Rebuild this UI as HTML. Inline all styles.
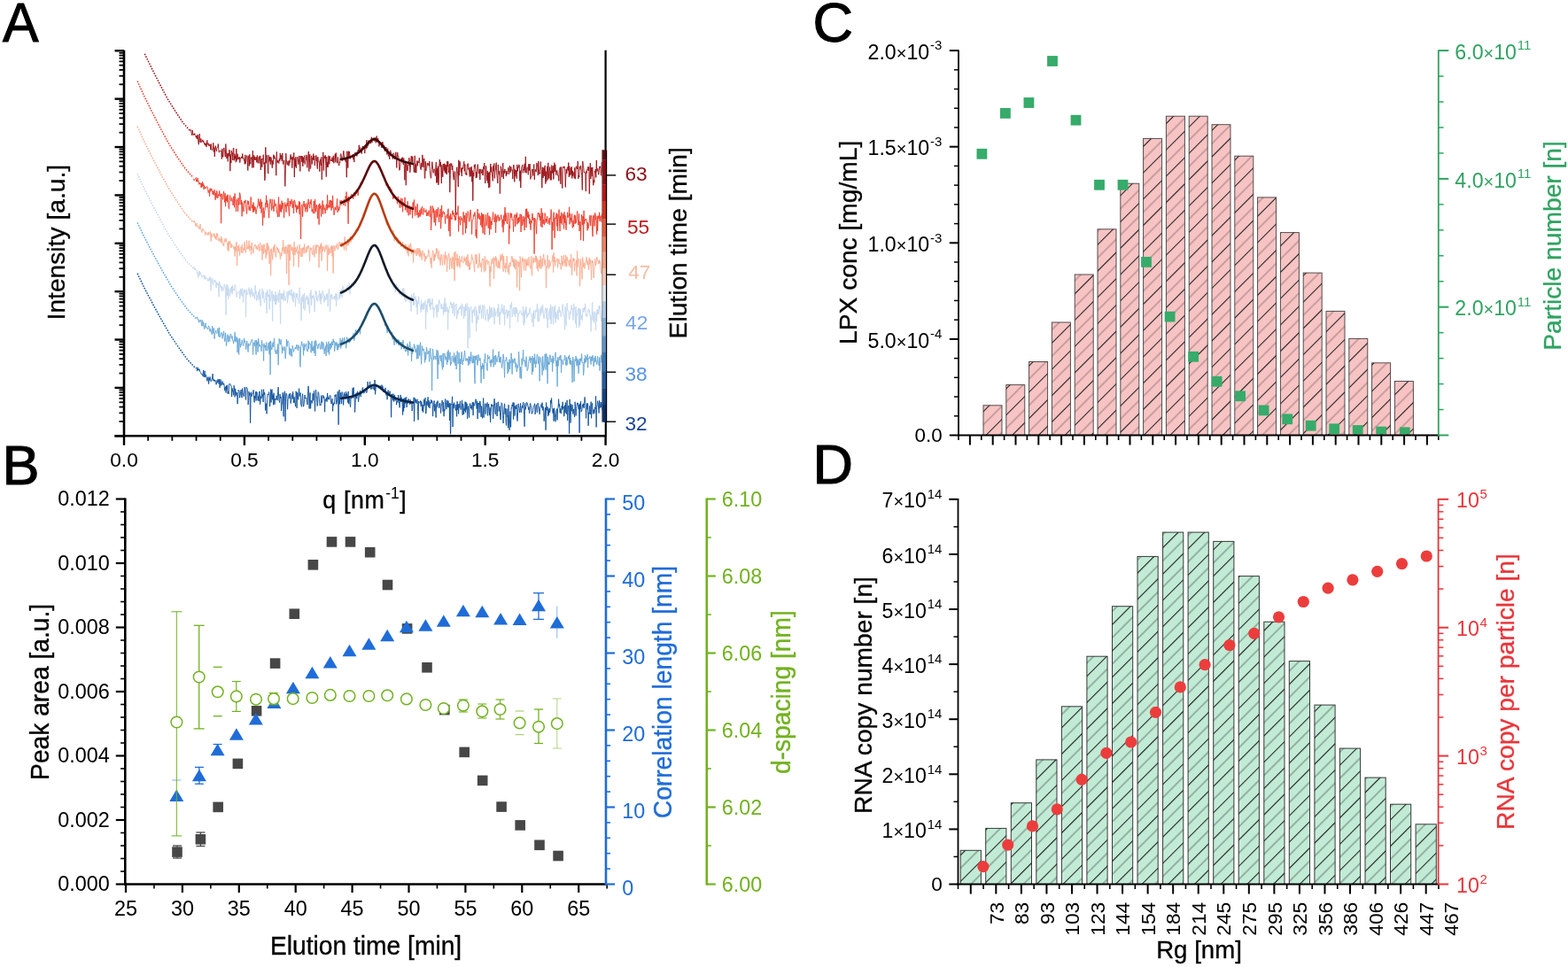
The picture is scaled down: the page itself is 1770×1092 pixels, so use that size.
<!DOCTYPE html>
<html><head><meta charset="utf-8"><title>Figure</title>
<style>
html,body{margin:0;padding:0;background:#fff;width:1770px;height:1092px;overflow:hidden}
svg{display:block}
text{font-family:'Liberation Sans', Arial, sans-serif;}
.t{stroke:currentColor;stroke-width:0.35px;paint-order:stroke}
.p{stroke:currentColor;stroke-width:1.1px;paint-order:stroke}
</style></head>
<body>
<svg width="1770" height="1092" viewBox="0 0 1770 1092">
<rect width="1770" height="1092" fill="#fff"/>
<text class="p" x="3.00" y="47.40" font-size="63" text-anchor="start" fill="#000" color="#000" textLength="40.6" lengthAdjust="spacingAndGlyphs">A</text>
<text class="p" x="2.50" y="547.00" font-size="63" text-anchor="start" fill="#000" color="#000">B</text>
<text class="p" x="917.50" y="47.20" font-size="63" text-anchor="start" fill="#000" color="#000">C</text>
<text class="p" x="917.50" y="546.40" font-size="63" text-anchor="start" fill="#000" color="#000">D</text>
<g clip-path="url(#clipA)">
<clipPath id="clipA"><rect x="141.5" y="52.3" width="539.6" height="438.0"/></clipPath>
<polyline points="163.3,60.7 164.3,62.8 165.3,64.8 166.3,66.9 167.3,69.0 168.3,71.0 169.3,73.1 170.3,75.1 171.3,77.2 172.3,79.2 173.3,81.2 174.3,83.1 175.3,85.1 176.3,87.1 177.3,89.0 178.3,91.0 179.3,93.0 180.3,94.9 181.3,96.8 182.3,98.7 183.3,100.6 184.3,102.5 185.3,104.4 186.3,106.2 187.3,108.1 188.3,110.0 189.3,111.8 190.3,113.4 191.3,115.0 192.3,116.6 193.3,118.2 194.3,119.8 195.3,121.4 196.3,123.0 197.3,124.6 198.3,126.2 199.3,127.7 200.3,129.2 201.3,130.7 202.3,132.2 203.3,133.7 204.3,135.2 205.3,136.7 206.3,138.2 207.3,139.4 208.3,140.5 209.3,141.6 210.3,142.8 211.3,143.9 212.3,145.1 213.3,146.2 214.3,147.4" fill="none" stroke="#980d13" stroke-width="1.5" stroke-linejoin="round" stroke-dasharray="1.6 1.4"/>
<polyline points="214.3,147.6 214.8,146.7 215.3,146.3 215.8,148.2 216.3,151.1 216.8,152.9 217.3,146.9 217.8,150.9 218.3,152.5 218.8,151.2 219.3,152.3 219.8,150.6 220.3,152.7 220.8,153.2 221.3,155.3 221.8,153.0 222.3,157.1 222.8,153.4 223.3,152.0 223.8,159.9 224.3,163.2 224.8,155.0 225.3,151.1 225.8,159.9 226.3,161.0 226.8,156.4 227.3,160.6 227.8,160.0 228.3,159.9 228.8,157.8 229.3,160.7 229.8,159.2 230.3,160.8 230.8,163.2 231.3,161.9 231.8,164.3 232.3,161.6 232.8,165.6 233.3,165.9 233.8,158.4 234.3,163.0 234.8,163.3 235.3,161.8 235.8,165.1 236.3,164.7 236.8,162.9 237.3,163.6 237.8,169.1 238.3,162.4 238.8,167.5 239.3,169.7 239.8,169.4 240.3,167.7 240.8,161.3 241.3,171.5 241.8,166.5 242.3,176.9 242.8,167.6 243.3,164.6 243.8,169.0 244.3,170.8 244.8,167.7 245.3,166.2 245.8,166.5 246.3,162.5 246.8,168.7 247.3,172.2 247.8,170.5 248.3,170.5 248.8,170.0 249.3,170.8 249.8,170.2 250.3,179.6 250.8,168.0 251.3,174.1 251.8,177.4 252.3,169.3 252.8,166.9 253.3,170.2 253.8,171.7 254.3,177.2 254.8,162.5 255.3,169.3 255.8,179.1 256.3,177.3 256.8,173.2 257.3,182.4 257.8,173.2 258.3,176.4 258.8,169.1 259.3,170.2 259.8,193.2 260.3,174.4 260.8,184.1 261.3,170.0 261.8,174.1 262.3,172.5 262.8,181.0 263.3,167.6 263.8,167.0 264.3,181.3 264.8,173.7 265.3,179.2 265.8,175.8 266.3,183.2 266.8,168.0 267.3,181.5 267.8,177.7 268.3,173.8 268.8,179.9 269.3,177.7 269.8,179.6 270.3,177.3 270.8,183.7 271.3,179.2 271.8,178.1 272.3,178.8 272.8,176.8 273.3,178.7 273.8,173.5 274.3,179.0 274.8,178.1 275.3,181.2 275.8,180.4 276.3,185.4 276.8,174.9 277.3,184.7 277.8,182.1 278.3,175.9 278.8,175.7 279.3,180.1 279.8,192.5 280.3,175.8 280.8,176.7 281.3,187.4 281.8,174.3 282.3,182.4 282.8,185.4 283.3,177.8 283.8,179.4 284.3,177.4 284.8,189.6 285.3,170.2 285.8,182.2 286.3,189.2 286.8,175.4 287.3,180.7 287.8,177.0 288.3,180.7 288.8,179.1 289.3,177.5 289.8,183.4 290.3,175.4 290.8,181.7 291.3,184.4 291.8,178.6 292.3,176.6 292.8,180.4 293.3,184.5 293.8,175.9 294.3,192.0 294.8,185.9 295.3,179.0 295.8,188.6 296.3,179.1 296.8,179.6 297.3,174.7 297.8,185.3 298.3,183.3 298.8,203.8 299.3,200.8 299.8,166.3 300.3,183.9 300.8,184.2 301.3,175.1 301.8,179.9 302.3,193.1 302.8,196.0 303.3,175.2 303.8,182.5 304.3,181.4 304.8,177.1 305.3,185.7 305.8,177.4 306.3,178.7 306.8,184.1 307.3,189.7 307.8,181.2 308.3,185.6 308.8,174.7 309.3,179.1 309.8,175.8 310.3,179.2 310.8,178.5 311.3,185.0 311.8,198.2 312.3,171.4 312.8,181.9 313.3,183.8 313.8,181.0 314.3,183.0 314.8,184.6 315.3,179.3 315.8,181.9 316.3,172.9 316.8,180.1 317.3,178.3 317.8,175.2 318.3,182.0 318.8,173.0 319.3,184.2 319.8,185.5 320.3,182.5 320.8,180.9 321.3,190.3 321.8,210.4 322.3,192.8 322.8,173.2 323.3,180.7 323.8,184.3 324.3,186.3 324.8,182.6 325.3,181.6 325.8,187.3 326.3,186.3 326.8,181.4 327.3,183.5 327.8,175.3 328.3,174.4 328.8,180.1 329.3,177.6 329.8,189.7 330.3,176.8 330.8,180.5 331.3,177.6 331.8,172.4 332.3,200.1 332.8,178.9 333.3,187.9 333.8,177.2 334.3,189.8 334.8,183.6 335.3,179.3 335.8,177.2 336.3,180.1 336.8,185.8 337.3,184.1 337.8,175.9 338.3,180.7 338.8,193.5 339.3,176.2 339.8,178.4 340.3,176.1 340.8,182.8 341.3,176.4 341.8,188.0 342.3,177.7 342.8,183.9 343.3,177.2 343.8,175.6 344.3,185.6 344.8,181.2 345.3,180.7 345.8,174.8 346.3,177.1 346.8,189.4 347.3,178.4 347.8,177.0 348.3,171.0 348.8,193.6 349.3,184.4 349.8,174.3 350.3,190.6 350.8,189.3 351.3,178.2 351.8,175.8 352.3,185.3 352.8,178.1 353.3,180.4 353.8,173.6 354.3,181.1 354.8,176.0 355.3,187.0 355.8,182.2 356.3,181.7 356.8,175.3 357.3,178.0 357.8,185.9 358.3,190.7 358.8,177.1 359.3,181.8 359.8,182.7 360.3,182.3 360.8,193.7 361.3,180.1 361.8,179.9 362.3,186.7 362.8,177.3 363.3,202.9 363.8,184.5 364.3,184.0 364.8,171.9 365.3,192.6 365.8,178.2 366.3,176.3 366.8,179.1 367.3,175.2 367.8,187.6 368.3,199.6 368.8,177.1 369.3,189.0 369.8,183.0 370.3,188.8 370.8,175.8 371.3,176.6 371.8,185.4 372.3,176.4 372.8,180.3 373.3,181.7 373.8,180.6 374.3,182.0 374.8,177.7 375.3,179.1 375.8,182.8 376.3,175.8 376.8,184.3 377.3,179.1 377.8,178.4 378.3,173.7 378.8,183.4 379.3,172.6 379.8,179.5 380.3,181.5 380.8,184.2 381.3,177.3 381.8,180.0 382.3,186.9 382.8,187.0 383.3,183.2 383.8,183.8 384.3,174.8 384.8,173.6 385.3,175.6 385.8,177.9 386.3,181.9 386.8,179.2 387.3,175.3 387.8,170.4 388.3,175.0 388.8,180.6 389.3,178.8 389.8,181.4 390.3,183.0 390.8,179.6 391.3,200.2 391.8,170.8 392.3,178.0 392.8,189.6 393.3,170.7 393.8,177.5 394.3,171.1 394.8,174.4 395.3,179.4 395.8,175.9 396.3,176.8 396.8,177.8 397.3,177.5 397.8,175.7 398.3,174.3 398.8,180.1 399.3,175.7 399.8,183.1 400.3,174.0 400.8,172.3 401.3,173.9 401.8,173.1 402.3,171.7 402.8,176.5 403.3,174.3 403.8,171.0 404.3,169.0 404.8,170.8 405.3,163.8 405.8,171.8 406.3,167.7 406.8,166.5 407.3,170.7 407.8,172.8 408.3,173.7 408.8,168.3 409.3,164.9 409.8,167.0 410.3,166.8 410.8,168.0 411.3,164.6 411.8,173.1 412.3,164.5 412.8,164.5 413.3,168.2 413.8,158.2 414.3,167.0 414.8,165.4 415.3,165.2 415.8,158.7 416.3,163.2 416.8,158.8 417.3,158.5 417.8,158.8 418.3,162.3 418.8,160.1 419.3,154.8 419.8,161.1 420.3,159.7 420.8,157.9 421.3,155.7 421.8,156.8 422.3,155.7 422.8,159.7 423.3,155.4 423.8,156.3 424.3,161.4 424.8,154.7 425.3,153.6 425.8,160.3 426.3,158.7 426.8,156.2 427.3,163.4 427.8,165.4 428.3,164.0 428.8,162.6 429.3,163.2 429.8,160.8 430.3,162.2 430.8,167.0 431.3,162.6 431.8,160.0 432.3,162.1 432.8,163.2 433.3,166.4 433.8,164.3 434.3,170.8 434.8,166.0 435.3,169.1 435.8,166.0 436.3,168.4 436.8,174.5 437.3,170.6 437.8,167.6 438.3,176.4 438.8,174.6 439.3,176.0 439.8,179.8 440.3,170.5 440.8,169.7 441.3,171.8 441.8,174.2 442.3,175.7 442.8,174.9 443.3,179.5 443.8,173.1 444.3,172.9 444.8,173.6 445.3,180.0 445.8,177.6 446.3,178.9 446.8,171.7 447.3,178.0 447.8,189.5 448.3,177.6 448.8,172.2 449.3,176.8 449.8,176.3 450.3,180.1 450.8,192.3 451.3,191.4 451.8,187.8 452.3,181.8 452.8,179.9 453.3,178.4 453.8,183.4 454.3,177.6 454.8,183.5 455.3,186.0 455.8,178.5 456.3,187.7 456.8,203.4 457.3,189.0 457.8,182.6 458.3,209.2 458.8,185.2 459.3,185.2 459.8,192.5 460.3,193.1 460.8,186.4 461.3,187.0 461.8,178.2 462.3,182.3 462.8,194.7 463.3,189.5 463.8,181.1 464.3,176.2 464.8,182.8 465.3,183.3 465.8,176.6 466.3,185.2 466.8,186.9 467.3,194.5 467.8,188.3 468.3,175.8 468.8,195.0 469.3,185.6 469.8,195.1 470.3,185.1 470.8,181.4 471.3,187.3 471.8,182.3 472.3,182.4 472.8,183.8 473.3,178.2 473.8,182.3 474.3,188.2 474.8,190.6 475.3,191.8 475.8,184.1 476.3,188.6 476.8,174.9 477.3,178.2 477.8,188.1 478.3,188.9 478.8,179.0 479.3,201.3 479.8,201.3 480.3,182.3 480.8,193.1 481.3,190.2 481.8,189.5 482.3,183.9 482.8,186.7 483.3,185.4 483.8,184.4 484.3,187.5 484.8,182.1 485.3,192.4 485.8,198.0 486.3,201.3 486.8,199.8 487.3,191.4 487.8,182.7 488.3,187.1 488.8,191.9 489.3,195.4 489.8,191.5 490.3,190.7 490.8,191.9 491.3,198.6 491.8,191.4 492.3,183.2 492.8,206.6 493.3,190.0 493.8,206.1 494.3,187.6 494.8,208.9 495.3,205.9 495.8,188.2 496.3,180.1 496.8,188.2 497.3,182.9 497.8,189.4 498.3,207.1 498.8,186.3 499.3,191.7 499.8,199.8 500.3,185.0 500.8,187.6 501.3,192.6 501.8,184.7 502.3,195.1 502.8,185.9 503.3,195.7 503.8,186.5 504.3,197.1 504.8,182.1 505.3,188.1 505.8,182.4 506.3,195.1 506.8,192.7 507.3,185.2 507.8,217.2 508.3,197.2 508.8,184.4 509.3,187.3 509.8,184.7 510.3,191.9 510.8,186.9 511.3,194.8 511.8,200.0 512.3,203.2 512.8,193.7 513.3,193.7 513.8,194.3 514.3,243.1 514.8,206.8 515.3,193.7 515.8,188.7 516.3,194.1 516.8,196.3 517.3,211.1 517.8,180.8 518.3,198.2 518.8,182.2 519.3,182.7 519.8,189.0 520.3,194.4 520.8,189.9 521.3,198.9 521.8,189.3 522.3,190.8 522.8,187.8 523.3,185.8 523.8,182.3 524.3,193.4 524.8,185.4 525.3,196.3 525.8,197.1 526.3,195.1 526.8,197.9 527.3,185.9 527.8,186.2 528.3,184.6 528.8,191.4 529.3,189.7 529.8,195.0 530.3,199.5 530.8,188.8 531.3,189.8 531.8,199.2 532.3,188.2 532.8,205.3 533.3,192.6 533.8,226.7 534.3,195.0 534.8,199.2 535.3,186.5 535.8,188.5 536.3,185.5 536.8,191.0 537.3,201.2 537.8,194.2 538.3,200.4 538.8,189.3 539.3,185.6 539.8,190.1 540.3,196.0 540.8,194.4 541.3,190.9 541.8,203.0 542.3,191.3 542.8,191.0 543.3,195.8 543.8,194.9 544.3,191.3 544.8,197.9 545.3,198.0 545.8,188.1 546.3,191.1 546.8,184.0 547.3,199.4 547.8,207.0 548.3,187.4 548.8,187.4 549.3,197.6 549.8,203.9 550.3,193.0 550.8,206.9 551.3,194.9 551.8,212.2 552.3,194.2 552.8,211.4 553.3,194.2 553.8,185.0 554.3,194.5 554.8,188.5 555.3,197.1 555.8,199.0 556.3,204.4 556.8,187.2 557.3,193.2 557.8,184.5 558.3,201.4 558.8,194.3 559.3,192.4 559.8,185.5 560.3,183.7 560.8,197.2 561.3,201.1 561.8,207.0 562.3,185.9 562.8,193.5 563.3,197.3 563.8,193.2 564.3,218.7 564.8,207.0 565.3,187.8 565.8,190.6 566.3,192.0 566.8,200.1 567.3,189.6 567.8,184.0 568.3,202.0 568.8,192.9 569.3,195.8 569.8,190.9 570.3,192.9 570.8,193.9 571.3,199.1 571.8,193.1 572.3,197.1 572.8,193.9 573.3,193.4 573.8,189.3 574.3,196.9 574.8,195.1 575.3,187.2 575.8,194.4 576.3,194.7 576.8,188.2 577.3,191.4 577.8,192.5 578.3,191.7 578.8,202.2 579.3,190.3 579.8,186.0 580.3,189.7 580.8,205.3 581.3,191.3 581.8,199.3 582.3,194.4 582.8,192.2 583.3,201.7 583.8,185.9 584.3,193.4 584.8,188.5 585.3,189.4 585.8,185.9 586.3,186.6 586.8,204.4 587.3,192.7 587.8,212.1 588.3,195.9 588.8,188.9 589.3,187.9 589.8,186.1 590.3,195.4 590.8,191.1 591.3,192.3 591.8,186.2 592.3,184.8 592.8,195.2 593.3,176.8 593.8,193.0 594.3,195.3 594.8,189.5 595.3,188.7 595.8,189.8 596.3,197.3 596.8,185.3 597.3,192.6 597.8,185.0 598.3,185.6 598.8,202.4 599.3,199.8 599.8,200.0 600.3,191.4 600.8,192.6 601.3,191.3 601.8,198.5 602.3,190.4 602.8,185.6 603.3,202.9 603.8,194.1 604.3,191.4 604.8,193.7 605.3,194.1 605.8,184.0 606.3,186.1 606.8,188.2 607.3,198.1 607.8,182.1 608.3,190.8 608.8,196.7 609.3,195.0 609.8,196.1 610.3,182.5 610.8,191.6 611.3,192.5 611.8,212.1 612.3,188.7 612.8,200.4 613.3,201.0 613.8,189.4 614.3,198.8 614.8,188.2 615.3,186.9 615.8,207.6 616.3,193.7 616.8,205.2 617.3,193.3 617.8,187.9 618.3,203.2 618.8,183.8 619.3,194.9 619.8,201.5 620.3,193.7 620.8,188.5 621.3,203.3 621.8,192.9 622.3,203.3 622.8,186.5 623.3,192.0 623.8,195.7 624.3,187.3 624.8,202.5 625.3,195.5 625.8,183.7 626.3,193.7 626.8,185.8 627.3,191.8 627.8,197.7 628.3,194.5 628.8,192.5 629.3,195.6 629.8,198.6 630.3,198.3 630.8,204.4 631.3,192.3 631.8,190.7 632.3,188.8 632.8,207.9 633.3,188.5 633.8,193.1 634.3,203.9 634.8,212.6 635.3,188.4 635.8,190.0 636.3,188.9 636.8,187.8 637.3,188.0 637.8,193.2 638.3,211.4 638.8,198.2 639.3,190.9 639.8,196.0 640.3,189.1 640.8,188.5 641.3,192.7 641.8,183.6 642.3,199.9 642.8,187.8 643.3,196.1 643.8,198.3 644.3,189.6 644.8,197.1 645.3,188.2 645.8,201.5 646.3,192.8 646.8,198.8 647.3,194.5 647.8,195.4 648.3,201.2 648.8,189.3 649.3,202.2 649.8,199.9 650.3,188.0 650.8,187.6 651.3,189.2 651.8,191.0 652.3,182.0 652.8,201.9 653.3,198.0 653.8,200.0 654.3,188.0 654.8,191.3 655.3,187.0 655.8,187.6 656.3,194.4 656.8,198.6 657.3,214.5 657.8,182.2 658.3,187.7 658.8,189.6 659.3,195.1 659.8,194.2 660.3,195.2 660.8,195.0 661.3,216.1 661.8,193.3 662.3,195.4 662.8,191.2 663.3,191.7 663.8,188.2 664.3,193.0 664.8,188.5 665.3,218.8 665.8,200.9 666.3,184.2 666.8,202.0 667.3,194.7 667.8,189.0 668.3,199.1 668.8,188.9 669.3,203.9 669.8,209.2 670.3,203.0 670.8,206.2 671.3,193.1 671.8,195.0 672.3,191.0 672.8,200.4 673.3,181.0 673.8,193.6 674.3,193.2 674.8,190.3 675.3,194.5 675.8,197.2 676.3,192.4 676.8,187.9 677.3,189.2 677.8,187.8 678.3,196.7 678.8,198.3 679.3,183.1 679.8,194.5 680.3,190.2" fill="none" stroke="#980d13" stroke-width="0.9" stroke-linejoin="round"/>
<polyline points="385.0,179.8 386.0,179.6 387.0,179.5 388.0,179.3 389.0,179.1 390.0,178.9 391.0,178.6 392.0,178.4 393.0,178.1 394.0,177.8 395.0,177.4 396.0,177.1 397.0,176.7 398.0,176.2 399.0,175.8 400.0,175.3 401.0,174.7 402.0,174.1 403.0,173.5 404.0,172.8 405.0,172.1 406.0,171.3 407.0,170.5 408.0,169.6 409.0,168.6 410.0,167.6 411.0,166.6 412.0,165.5 413.0,164.4 414.0,163.3 415.0,162.2 416.0,161.1 417.0,160.2 418.0,159.3 419.0,158.5 420.0,157.9 421.0,157.5 422.0,157.3 423.0,157.3 424.0,157.6 425.0,158.0 426.0,158.6 427.0,159.4 428.0,160.4 429.0,161.4 430.0,162.5 431.0,163.7 432.0,164.9 433.0,166.1 434.0,167.3 435.0,168.5 436.0,169.6 437.0,170.7 438.0,171.7 439.0,172.7 440.0,173.6 441.0,174.5 442.0,175.3 443.0,176.0 444.0,176.7 445.0,177.4 446.0,178.0 447.0,178.6 448.0,179.1 449.0,179.7 450.0,180.1 451.0,180.6 452.0,181.0 453.0,181.4 454.0,181.8 455.0,182.1 456.0,182.5 457.0,182.8 458.0,183.1 459.0,183.4 460.0,183.6 461.0,183.9 462.0,184.1 463.0,184.4 464.0,184.6 465.0,184.8 466.0,185.0" fill="none" stroke="#3d0808" stroke-width="2.6" stroke-linejoin="round" stroke-linecap="round"/>
<polyline points="155.1,91.6 156.1,93.8 157.1,96.0 158.1,98.2 159.1,100.4 160.1,102.6 161.1,104.8 162.1,107.0 163.1,109.2 164.1,111.2 165.1,113.2 166.1,115.3 167.1,117.3 168.1,119.3 169.1,121.3 170.1,123.3 171.1,125.3 172.1,127.3 173.1,129.3 174.1,131.2 175.1,133.1 176.1,135.1 177.1,137.0 178.1,138.9 179.1,140.8 180.1,142.8 181.1,144.7 182.1,146.6 183.1,148.4 184.1,150.3 185.1,152.1 186.1,153.9 187.1,155.8 188.1,157.6 189.1,159.5 190.1,161.3 191.1,163.1 192.1,164.6 193.1,166.2 194.1,167.8 195.1,169.3 196.1,170.9 197.1,172.5 198.1,174.0 199.1,175.6 200.1,177.2 201.1,178.6 202.1,180.1 203.1,181.6 204.1,183.0 205.1,184.5 206.1,186.0 207.1,187.4 208.1,188.9 209.1,190.4 210.1,191.5 211.1,192.6 212.1,193.7 213.1,194.8 214.1,196.0 215.1,197.1 216.1,198.2 217.1,199.3 218.1,200.4" fill="none" stroke="#ec3a28" stroke-width="1.5" stroke-linejoin="round" stroke-dasharray="1.6 1.4"/>
<polyline points="218.6,201.9 219.1,203.9 219.6,202.9 220.1,202.3 220.6,201.3 221.1,200.6 221.6,205.1 222.1,202.8 222.6,205.2 223.1,200.8 223.6,205.2 224.1,204.5 224.6,208.1 225.1,208.2 225.6,206.4 226.1,208.1 226.6,206.9 227.1,212.0 227.6,206.9 228.1,211.1 228.6,205.3 229.1,210.2 229.6,207.2 230.1,213.9 230.6,209.4 231.1,213.2 231.6,212.4 232.1,211.4 232.6,212.7 233.1,211.4 233.6,210.5 234.1,211.1 234.6,213.4 235.1,217.7 235.6,216.2 236.1,214.7 236.6,221.7 237.1,212.6 237.6,215.8 238.1,216.1 238.6,212.9 239.1,213.9 239.6,215.5 240.1,219.8 240.6,215.7 241.1,215.9 241.6,220.3 242.1,214.4 242.6,216.2 243.1,225.8 243.6,218.0 244.1,223.4 244.6,215.3 245.1,216.6 245.6,223.8 246.1,223.1 246.6,219.6 247.1,221.1 247.6,215.5 248.1,218.1 248.6,222.0 249.1,219.1 249.6,252.2 250.1,220.5 250.6,218.8 251.1,222.8 251.6,225.3 252.1,220.5 252.6,216.1 253.1,222.2 253.6,228.3 254.1,218.3 254.6,233.1 255.1,222.0 255.6,226.7 256.1,220.7 256.6,228.4 257.1,219.7 257.6,223.6 258.1,234.0 258.6,235.8 259.1,226.8 259.6,220.5 260.1,225.2 260.6,225.7 261.1,227.2 261.6,223.2 262.1,224.9 262.6,225.4 263.1,231.9 263.6,222.1 264.1,221.6 264.6,234.3 265.1,218.5 265.6,224.3 266.1,230.0 266.6,239.0 267.1,224.9 267.6,225.4 268.1,231.0 268.6,238.7 269.1,223.3 269.6,231.3 270.1,230.8 270.6,217.6 271.1,220.0 271.6,224.4 272.1,231.1 272.6,225.9 273.1,244.3 273.6,228.6 274.1,233.3 274.6,236.8 275.1,239.0 275.6,227.0 276.1,229.1 276.6,228.9 277.1,225.8 277.6,234.6 278.1,237.3 278.6,241.5 279.1,231.9 279.6,226.5 280.1,231.0 280.6,227.1 281.1,237.4 281.6,232.9 282.1,234.8 282.6,238.1 283.1,222.4 283.6,226.5 284.1,235.0 284.6,235.1 285.1,231.0 285.6,240.0 286.1,228.6 286.6,239.0 287.1,233.0 287.6,237.2 288.1,233.8 288.6,239.6 289.1,241.6 289.6,237.1 290.1,235.2 290.6,233.0 291.1,231.0 291.6,224.4 292.1,227.4 292.6,232.9 293.1,227.9 293.6,235.6 294.1,224.8 294.6,228.8 295.1,240.5 295.6,227.9 296.1,239.2 296.6,254.6 297.1,236.2 297.6,234.5 298.1,245.8 298.6,238.6 299.1,237.7 299.6,229.3 300.1,230.3 300.6,220.7 301.1,234.3 301.6,226.4 302.1,231.6 302.6,230.6 303.1,239.6 303.6,246.2 304.1,236.8 304.6,228.3 305.1,224.7 305.6,229.1 306.1,229.6 306.6,237.5 307.1,225.0 307.6,225.8 308.1,235.5 308.6,232.7 309.1,238.8 309.6,225.4 310.1,230.3 310.6,233.0 311.1,230.3 311.6,230.1 312.1,234.9 312.6,240.8 313.1,241.1 313.6,245.1 314.1,230.1 314.6,222.5 315.1,244.8 315.6,231.8 316.1,230.4 316.6,238.9 317.1,231.5 317.6,239.8 318.1,226.7 318.6,236.2 319.1,232.1 319.6,229.0 320.1,235.2 320.6,245.8 321.1,235.8 321.6,228.7 322.1,233.1 322.6,231.4 323.1,239.7 323.6,231.9 324.1,228.9 324.6,232.5 325.1,223.8 325.6,233.9 326.1,239.5 326.6,244.2 327.1,226.9 327.6,233.0 328.1,227.6 328.6,230.2 329.1,224.9 329.6,226.4 330.1,234.9 330.6,231.2 331.1,227.3 331.6,241.0 332.1,225.7 332.6,226.8 333.1,227.8 333.6,234.0 334.1,231.2 334.6,240.1 335.1,232.5 335.6,236.4 336.1,232.4 336.6,235.9 337.1,231.4 337.6,227.1 338.1,241.8 338.6,228.3 339.1,248.1 339.6,269.9 340.1,233.7 340.6,233.0 341.1,230.7 341.6,244.7 342.1,233.4 342.6,232.4 343.1,227.0 343.6,233.7 344.1,230.3 344.6,239.3 345.1,234.2 345.6,235.7 346.1,229.5 346.6,239.4 347.1,238.3 347.6,230.2 348.1,224.9 348.6,231.1 349.1,231.6 349.6,235.2 350.1,227.8 350.6,230.4 351.1,225.2 351.6,231.4 352.1,239.0 352.6,236.5 353.1,239.3 353.6,241.2 354.1,227.1 354.6,229.1 355.1,241.0 355.6,225.0 356.1,231.8 356.6,238.9 357.1,231.0 357.6,233.4 358.1,237.6 358.6,246.8 359.1,232.8 359.6,231.4 360.1,253.6 360.6,230.1 361.1,229.8 361.6,235.5 362.1,232.2 362.6,244.5 363.1,237.7 363.6,234.7 364.1,226.5 364.6,241.9 365.1,231.4 365.6,231.7 366.1,236.6 366.6,234.9 367.1,241.1 367.6,237.3 368.1,232.3 368.6,230.7 369.1,237.4 369.6,220.2 370.1,235.3 370.6,231.5 371.1,233.3 371.6,234.1 372.1,226.2 372.6,234.4 373.1,225.9 373.6,226.6 374.1,237.5 374.6,226.9 375.1,234.9 375.6,220.8 376.1,233.3 376.6,236.3 377.1,242.9 377.6,238.3 378.1,233.9 378.6,236.1 379.1,237.4 379.6,234.1 380.1,231.5 380.6,224.4 381.1,239.9 381.6,232.8 382.1,234.8 382.6,238.0 383.1,236.2 383.6,234.0 384.1,226.3 384.6,230.1 385.1,231.5 385.6,226.3 386.1,227.4 386.6,229.4 387.1,226.7 387.6,231.8 388.1,225.3 388.6,225.7 389.1,229.1 389.6,232.7 390.1,221.4 390.6,226.2 391.1,216.6 391.6,228.7 392.1,222.7 392.6,227.2 393.1,252.8 393.6,221.9 394.1,227.6 394.6,224.5 395.1,223.2 395.6,222.9 396.1,221.0 396.6,219.3 397.1,219.5 397.6,220.8 398.1,222.3 398.6,224.6 399.1,222.6 399.6,221.3 400.1,217.2 400.6,219.7 401.1,221.8 401.6,215.7 402.1,219.0 402.6,218.2 403.1,216.0 403.6,213.5 404.1,220.8 404.6,216.1 405.1,212.0 405.6,212.5 406.1,212.8 406.6,211.1 407.1,206.4 407.6,209.0 408.1,205.8 408.6,204.8 409.1,206.0 409.6,203.4 410.1,203.9 410.6,203.0 411.1,202.7 411.6,198.6 412.1,199.3 412.6,198.4 413.1,198.0 413.6,193.2 414.1,193.4 414.6,193.3 415.1,192.8 415.6,192.6 416.1,189.6 416.6,188.5 417.1,189.2 417.6,185.9 418.1,185.4 418.6,186.1 419.1,185.0 419.6,184.2 420.1,183.2 420.6,182.9 421.1,183.7 421.6,181.1 422.1,181.8 422.6,181.1 423.1,181.1 423.6,182.4 424.1,182.3 424.6,182.3 425.1,182.8 425.6,184.1 426.1,185.1 426.6,185.4 427.1,186.9 427.6,187.6 428.1,190.1 428.6,189.0 429.1,191.2 429.6,191.9 430.1,192.5 430.6,193.2 431.1,192.7 431.6,195.7 432.1,199.0 432.6,198.2 433.1,200.4 433.6,200.1 434.1,202.9 434.6,204.2 435.1,205.0 435.6,206.4 436.1,209.8 436.6,208.7 437.1,208.5 437.6,207.3 438.1,211.1 438.6,212.2 439.1,211.2 439.6,212.1 440.1,210.8 440.6,213.7 441.1,215.9 441.6,213.5 442.1,213.8 442.6,219.5 443.1,218.5 443.6,224.8 444.1,221.3 444.6,223.6 445.1,222.2 445.6,223.7 446.1,223.3 446.6,223.7 447.1,222.3 447.6,223.7 448.1,226.9 448.6,230.2 449.1,222.0 449.6,221.9 450.1,228.5 450.6,225.3 451.1,234.0 451.6,234.7 452.1,229.5 452.6,223.8 453.1,233.6 453.6,233.1 454.1,224.3 454.6,239.3 455.1,228.1 455.6,229.0 456.1,232.1 456.6,230.7 457.1,222.8 457.6,237.4 458.1,233.7 458.6,233.6 459.1,236.0 459.6,239.8 460.1,227.2 460.6,232.6 461.1,243.3 461.6,237.4 462.1,232.5 462.6,232.7 463.1,242.4 463.6,235.3 464.1,233.9 464.6,233.5 465.1,233.7 465.6,246.3 466.1,228.4 466.6,235.0 467.1,228.8 467.6,225.5 468.1,237.3 468.6,243.5 469.1,232.9 469.6,237.8 470.1,239.4 470.6,243.0 471.1,230.2 471.6,239.8 472.1,245.9 472.6,240.1 473.1,244.6 473.6,237.3 474.1,240.4 474.6,244.4 475.1,235.5 475.6,242.1 476.1,235.2 476.6,233.0 477.1,240.8 477.6,242.6 478.1,238.1 478.6,235.0 479.1,239.3 479.6,238.7 480.1,239.6 480.6,238.0 481.1,236.6 481.6,243.9 482.1,242.6 482.6,239.8 483.1,243.9 483.6,239.5 484.1,237.6 484.6,240.5 485.1,243.9 485.6,245.1 486.1,232.7 486.6,260.0 487.1,247.8 487.6,245.9 488.1,232.5 488.6,233.9 489.1,240.4 489.6,235.6 490.1,251.2 490.6,241.3 491.1,237.6 491.6,254.8 492.1,246.3 492.6,237.6 493.1,236.1 493.6,245.3 494.1,240.2 494.6,234.3 495.1,244.2 495.6,250.9 496.1,242.4 496.6,244.4 497.1,235.9 497.6,258.2 498.1,247.3 498.6,231.8 499.1,245.4 499.6,240.0 500.1,239.0 500.6,238.6 501.1,241.7 501.6,239.7 502.1,243.2 502.6,252.6 503.1,244.2 503.6,244.1 504.1,244.1 504.6,242.3 505.1,247.0 505.6,236.7 506.1,235.7 506.6,261.1 507.1,243.3 507.6,247.9 508.1,266.9 508.6,241.3 509.1,247.4 509.6,245.9 510.1,247.7 510.6,238.2 511.1,237.6 511.6,242.3 512.1,240.2 512.6,244.6 513.1,243.2 513.6,248.7 514.1,243.9 514.6,248.6 515.1,242.1 515.6,239.9 516.1,242.5 516.6,238.3 517.1,232.4 517.6,261.5 518.1,244.4 518.6,248.0 519.1,247.4 519.6,254.2 520.1,244.3 520.6,246.2 521.1,248.7 521.6,246.3 522.1,248.5 522.6,265.2 523.1,239.4 523.6,246.8 524.1,251.3 524.6,243.3 525.1,249.3 525.6,263.3 526.1,240.5 526.6,257.9 527.1,246.6 527.6,244.6 528.1,238.5 528.6,239.3 529.1,244.5 529.6,250.4 530.1,248.1 530.6,239.9 531.1,236.9 531.6,242.6 532.1,249.8 532.6,264.5 533.1,248.1 533.6,248.3 534.1,247.5 534.6,242.6 535.1,244.3 535.6,240.7 536.1,239.4 536.6,243.2 537.1,266.6 537.6,259.1 538.1,269.2 538.6,246.6 539.1,236.0 539.6,246.4 540.1,247.2 540.6,241.3 541.1,240.8 541.6,247.9 542.1,243.8 542.6,254.4 543.1,252.9 543.6,240.2 544.1,256.9 544.6,241.7 545.1,263.4 545.6,242.6 546.1,241.9 546.6,243.7 547.1,265.0 547.6,253.7 548.1,250.8 548.6,242.1 549.1,254.9 549.6,251.6 550.1,249.3 550.6,240.3 551.1,257.7 551.6,256.9 552.1,243.6 552.6,265.2 553.1,245.2 553.6,250.0 554.1,259.1 554.6,249.8 555.1,254.0 555.6,246.2 556.1,245.1 556.6,239.6 557.1,247.2 557.6,246.6 558.1,250.9 558.6,247.3 559.1,241.6 559.6,262.9 560.1,243.6 560.6,250.6 561.1,246.8 561.6,245.3 562.1,242.6 562.6,245.8 563.1,249.7 563.6,245.4 564.1,247.2 564.6,248.5 565.1,246.0 565.6,242.5 566.1,246.4 566.6,246.3 567.1,256.6 567.6,248.0 568.1,262.3 568.6,243.3 569.1,253.7 569.6,240.6 570.1,234.0 570.6,249.8 571.1,240.4 571.6,245.0 572.1,250.9 572.6,253.0 573.1,244.2 573.6,240.2 574.1,245.3 574.6,275.6 575.1,254.6 575.6,258.2 576.1,240.4 576.6,245.7 577.1,245.5 577.6,241.0 578.1,248.6 578.6,247.9 579.1,248.5 579.6,261.6 580.1,244.7 580.6,245.0 581.1,242.2 581.6,255.9 582.1,252.9 582.6,242.4 583.1,245.5 583.6,240.3 584.1,253.3 584.6,246.2 585.1,251.9 585.6,245.6 586.1,250.5 586.6,244.4 587.1,241.7 587.6,243.7 588.1,262.0 588.6,242.4 589.1,244.9 589.6,254.7 590.1,253.5 590.6,247.4 591.1,244.2 591.6,250.3 592.1,260.1 592.6,245.8 593.1,246.5 593.6,236.0 594.1,256.9 594.6,235.7 595.1,238.8 595.6,245.7 596.1,239.1 596.6,246.9 597.1,242.2 597.6,252.4 598.1,247.0 598.6,254.6 599.1,259.7 599.6,249.2 600.1,251.9 600.6,244.3 601.1,240.9 601.6,248.6 602.1,247.2 602.6,246.4 603.1,286.6 603.6,246.0 604.1,247.5 604.6,247.8 605.1,255.3 605.6,264.2 606.1,249.1 606.6,245.7 607.1,240.6 607.6,241.5 608.1,240.1 608.6,245.4 609.1,241.4 609.6,248.8 610.1,244.0 610.6,255.6 611.1,235.2 611.6,246.1 612.1,256.9 612.6,240.4 613.1,252.9 613.6,247.9 614.1,249.4 614.6,253.8 615.1,240.6 615.6,244.2 616.1,251.6 616.6,247.2 617.1,250.4 617.6,244.1 618.1,250.0 618.6,252.8 619.1,251.9 619.6,250.4 620.1,245.9 620.6,253.9 621.1,248.2 621.6,245.1 622.1,236.5 622.6,242.9 623.1,281.8 623.6,250.9 624.1,260.4 624.6,245.8 625.1,239.6 625.6,243.5 626.1,268.7 626.6,245.8 627.1,247.0 627.6,245.3 628.1,240.6 628.6,255.4 629.1,241.8 629.6,260.7 630.1,247.3 630.6,245.4 631.1,236.7 631.6,252.3 632.1,261.1 632.6,243.8 633.1,252.0 633.6,239.7 634.1,252.4 634.6,253.7 635.1,241.1 635.6,247.1 636.1,242.3 636.6,258.5 637.1,239.3 637.6,251.5 638.1,243.2 638.6,254.7 639.1,259.7 639.6,249.3 640.1,246.6 640.6,239.6 641.1,245.6 641.6,243.7 642.1,244.0 642.6,233.8 643.1,253.3 643.6,241.1 644.1,248.6 644.6,246.2 645.1,251.3 645.6,241.5 646.1,256.9 646.6,257.5 647.1,249.0 647.6,256.0 648.1,243.8 648.6,242.7 649.1,252.8 649.6,243.4 650.1,252.1 650.6,248.0 651.1,247.7 651.6,238.4 652.1,247.7 652.6,254.0 653.1,254.1 653.6,241.4 654.1,261.0 654.6,250.8 655.1,250.1 655.6,271.2 656.1,250.8 656.6,242.3 657.1,246.4 657.6,253.9 658.1,243.9 658.6,272.1 659.1,237.8 659.6,252.7 660.1,250.2 660.6,247.5 661.1,248.6 661.6,247.2 662.1,248.4 662.6,252.4 663.1,260.3 663.6,251.4 664.1,258.2 664.6,255.2 665.1,251.3 665.6,244.9 666.1,243.1 666.6,255.1 667.1,246.0 667.6,243.4 668.1,248.1 668.6,260.9 669.1,267.1 669.6,243.4 670.1,242.8 670.6,246.2 671.1,255.4 671.6,240.3 672.1,241.4 672.6,248.2 673.1,249.3 673.6,264.6 674.1,243.7 674.6,260.7 675.1,244.1 675.6,243.8 676.1,247.3 676.6,239.8 677.1,250.0 677.6,244.6 678.1,243.5 678.6,246.4 679.1,250.6 679.6,241.4 680.1,245.5" fill="none" stroke="#ec3a28" stroke-width="0.9" stroke-linejoin="round"/>
<polyline points="385.0,229.0 386.0,228.7 387.0,228.3 388.0,227.9 389.0,227.4 390.0,226.9 391.0,226.4 392.0,225.8 393.0,225.2 394.0,224.5 395.0,223.8 396.0,223.0 397.0,222.2 398.0,221.3 399.0,220.3 400.0,219.2 401.0,218.1 402.0,216.9 403.0,215.5 404.0,214.1 405.0,212.6 406.0,211.0 407.0,209.2 408.0,207.4 409.0,205.4 410.0,203.3 411.0,201.2 412.0,199.0 413.0,196.7 414.0,194.5 415.0,192.2 416.0,190.1 417.0,188.0 418.0,186.2 419.0,184.6 420.0,183.4 421.0,182.5 422.0,182.1 423.0,182.0 424.0,182.4 425.0,183.3 426.0,184.5 427.0,186.1 428.0,187.9 429.0,190.0 430.0,192.2 431.0,194.5 432.0,196.9 433.0,199.3 434.0,201.6 435.0,203.9 436.0,206.2 437.0,208.3 438.0,210.3 439.0,212.2 440.0,214.0 441.0,215.7 442.0,217.3 443.0,218.8 444.0,220.1 445.0,221.4 446.0,222.6 447.0,223.8 448.0,224.8 449.0,225.8 450.0,226.7 451.0,227.6 452.0,228.4 453.0,229.1 454.0,229.9 455.0,230.5 456.0,231.1 457.0,231.7 458.0,232.3 459.0,232.8 460.0,233.3 461.0,233.8 462.0,234.2 463.0,234.6 464.0,235.0 465.0,235.4 466.0,235.8" fill="none" stroke="#5a0a0a" stroke-width="2.6" stroke-linejoin="round" stroke-linecap="round"/>
<polyline points="155.1,142.8 156.1,144.9 157.1,147.1 158.1,149.3 159.1,151.5 160.1,153.7 161.1,155.9 162.1,158.1 163.1,160.2 164.1,162.3 165.1,164.3 166.1,166.3 167.1,168.3 168.1,170.3 169.1,172.3 170.1,174.3 171.1,176.3 172.1,178.3 173.1,180.3 174.1,182.2 175.1,184.1 176.1,186.0 177.1,187.9 178.1,189.8 179.1,191.7 180.1,193.6 181.1,195.6 182.1,197.4 183.1,199.3 184.1,201.1 185.1,202.9 186.1,204.8 187.1,206.6 188.1,208.4 189.1,210.3 190.1,212.1 191.1,213.9 192.1,215.4 193.1,217.0 194.1,218.5 195.1,220.1 196.1,221.6 197.1,223.2 198.1,224.8 199.1,226.3 200.1,227.9 201.1,229.3 202.1,230.8 203.1,232.2 204.1,233.7 205.1,235.2 206.1,236.6 207.1,238.1 208.1,239.6 209.1,241.0 210.1,242.1 211.1,243.2 212.1,244.3 213.1,245.5 214.1,246.6 215.1,247.7 216.1,248.8 217.1,249.9 218.1,251.0" fill="none" stroke="#f9ab8f" stroke-width="1.5" stroke-linejoin="round" stroke-dasharray="1.6 1.4"/>
<polyline points="218.6,251.2 219.1,249.1 219.6,251.1 220.1,250.5 220.6,255.1 221.1,253.9 221.6,255.5 222.1,251.8 222.6,253.6 223.1,255.8 223.6,256.6 224.1,255.2 224.6,258.0 225.1,258.9 225.6,256.4 226.1,253.1 226.6,258.7 227.1,259.8 227.6,261.7 228.1,262.5 228.6,258.5 229.1,258.1 229.6,260.3 230.1,259.9 230.6,260.7 231.1,261.0 231.6,265.6 232.1,263.1 232.6,262.0 233.1,264.7 233.6,264.2 234.1,265.5 234.6,264.5 235.1,261.8 235.6,265.4 236.1,265.1 236.6,262.9 237.1,263.5 237.6,261.3 238.1,272.5 238.6,263.8 239.1,267.8 239.6,266.3 240.1,264.6 240.6,264.2 241.1,264.6 241.6,267.3 242.1,263.6 242.6,269.2 243.1,269.0 243.6,266.5 244.1,270.9 244.6,263.4 245.1,266.6 245.6,263.8 246.1,270.3 246.6,271.8 247.1,270.1 247.6,268.6 248.1,273.2 248.6,270.1 249.1,271.7 249.6,266.8 250.1,274.5 250.6,268.9 251.1,275.0 251.6,276.5 252.1,275.7 252.6,278.1 253.1,273.0 253.6,270.2 254.1,273.3 254.6,271.9 255.1,268.9 255.6,273.6 256.1,274.0 256.6,276.0 257.1,282.4 257.6,272.5 258.1,283.7 258.6,273.2 259.1,275.9 259.6,271.9 260.1,276.5 260.6,280.0 261.1,275.1 261.6,279.2 262.1,277.7 262.6,276.9 263.1,277.8 263.6,278.3 264.1,281.4 264.6,278.5 265.1,289.4 265.6,278.6 266.1,283.8 266.6,273.7 267.1,273.2 267.6,300.1 268.1,277.8 268.6,279.0 269.1,283.7 269.6,276.4 270.1,280.9 270.6,288.5 271.1,280.2 271.6,279.7 272.1,278.7 272.6,285.6 273.1,276.7 273.6,276.3 274.1,285.5 274.6,282.9 275.1,280.1 275.6,282.6 276.1,273.0 276.6,279.1 277.1,285.4 277.6,284.2 278.1,280.6 278.6,271.5 279.1,281.3 279.6,279.9 280.1,278.2 280.6,280.8 281.1,271.7 281.6,283.4 282.1,277.4 282.6,280.0 283.1,278.0 283.6,287.4 284.1,273.7 284.6,281.6 285.1,280.9 285.6,286.1 286.1,285.0 286.6,278.6 287.1,276.9 287.6,277.9 288.1,276.1 288.6,278.2 289.1,281.4 289.6,277.8 290.1,278.8 290.6,282.2 291.1,278.4 291.6,276.1 292.1,280.6 292.6,283.6 293.1,278.5 293.6,273.9 294.1,283.0 294.6,282.4 295.1,282.6 295.6,276.5 296.1,293.6 296.6,280.3 297.1,276.7 297.6,286.6 298.1,275.6 298.6,279.6 299.1,285.1 299.6,281.2 300.1,291.6 300.6,285.3 301.1,274.5 301.6,287.3 302.1,274.5 302.6,282.8 303.1,277.8 303.6,282.2 304.1,297.9 304.6,285.5 305.1,281.5 305.6,311.2 306.1,290.6 306.6,280.7 307.1,286.1 307.6,293.4 308.1,286.4 308.6,278.6 309.1,285.2 309.6,278.3 310.1,275.9 310.6,282.5 311.1,289.4 311.6,290.6 312.1,282.9 312.6,278.6 313.1,281.4 313.6,280.1 314.1,285.1 314.6,281.3 315.1,285.3 315.6,284.5 316.1,290.6 316.6,292.7 317.1,285.4 317.6,289.3 318.1,288.3 318.6,279.6 319.1,283.4 319.6,271.2 320.1,278.5 320.6,286.3 321.1,279.1 321.6,281.0 322.1,286.6 322.6,277.7 323.1,287.2 323.6,308.8 324.1,279.1 324.6,286.2 325.1,276.2 325.6,286.4 326.1,322.0 326.6,276.0 327.1,289.1 327.6,294.2 328.1,276.3 328.6,282.2 329.1,283.2 329.6,282.3 330.1,278.8 330.6,287.3 331.1,279.9 331.6,300.8 332.1,273.2 332.6,284.6 333.1,288.1 333.6,279.4 334.1,285.0 334.6,281.4 335.1,282.2 335.6,277.6 336.1,286.5 336.6,283.4 337.1,301.8 337.6,288.0 338.1,276.2 338.6,286.7 339.1,286.8 339.6,290.1 340.1,280.2 340.6,282.1 341.1,289.9 341.6,279.8 342.1,281.7 342.6,279.4 343.1,286.5 343.6,275.5 344.1,281.0 344.6,283.6 345.1,285.7 345.6,284.2 346.1,279.0 346.6,284.3 347.1,278.1 347.6,280.2 348.1,277.0 348.6,279.2 349.1,283.2 349.6,295.1 350.1,281.5 350.6,279.3 351.1,282.1 351.6,280.3 352.1,285.3 352.6,284.8 353.1,288.0 353.6,276.9 354.1,282.0 354.6,285.3 355.1,290.3 355.6,283.4 356.1,276.5 356.6,280.5 357.1,286.4 357.6,276.5 358.1,276.5 358.6,278.2 359.1,278.9 359.6,277.4 360.1,302.3 360.6,278.9 361.1,286.4 361.6,276.0 362.1,281.2 362.6,274.1 363.1,294.5 363.6,279.0 364.1,277.8 364.6,283.6 365.1,279.9 365.6,278.6 366.1,279.3 366.6,284.4 367.1,282.4 367.6,277.4 368.1,276.3 368.6,281.0 369.1,281.1 369.6,305.8 370.1,277.0 370.6,286.5 371.1,288.0 371.6,280.5 372.1,286.4 372.6,283.6 373.1,280.4 373.6,278.6 374.1,285.7 374.6,277.2 375.1,289.6 375.6,278.0 376.1,308.5 376.6,286.1 377.1,277.3 377.6,281.5 378.1,283.2 378.6,281.4 379.1,277.4 379.6,279.4 380.1,279.1 380.6,274.9 381.1,281.7 381.6,280.4 382.1,280.5 382.6,273.9 383.1,274.3 383.6,273.2 384.1,277.6 384.6,277.9 385.1,274.0 385.6,278.4 386.1,273.7 386.6,273.8 387.1,278.8 387.6,276.1 388.1,276.0 388.6,282.3 389.1,267.3 389.6,275.0 390.1,274.3 390.6,283.2 391.1,273.0 391.6,273.3 392.1,276.7 392.6,270.2 393.1,277.6 393.6,272.4 394.1,270.9 394.6,274.9 395.1,268.0 395.6,267.1 396.1,273.7 396.6,273.1 397.1,266.8 397.6,267.9 398.1,270.6 398.6,267.4 399.1,266.3 399.6,265.7 400.1,262.8 400.6,263.1 401.1,259.6 401.6,259.7 402.1,260.3 402.6,258.8 403.1,257.6 403.6,257.9 404.1,260.7 404.6,255.9 405.1,256.3 405.6,252.8 406.1,254.2 406.6,252.5 407.1,251.7 407.6,248.8 408.1,249.6 408.6,249.0 409.1,247.1 409.6,246.7 410.1,244.7 410.6,243.6 411.1,242.0 411.6,239.1 412.1,239.9 412.6,238.1 413.1,236.9 413.6,234.8 414.1,234.8 414.6,233.0 415.1,231.2 415.6,229.5 416.1,228.6 416.6,227.6 417.1,226.6 417.6,224.6 418.1,223.1 418.6,222.7 419.1,221.8 419.6,220.9 420.1,220.9 420.6,220.0 421.1,219.5 421.6,218.9 422.1,218.9 422.6,219.3 423.1,218.4 423.6,218.3 424.1,219.5 424.6,219.7 425.1,220.3 425.6,220.8 426.1,222.7 426.6,222.1 427.1,224.1 427.6,224.3 428.1,226.1 428.6,227.6 429.1,228.8 429.6,229.5 430.1,232.0 430.6,233.1 431.1,234.6 431.6,237.1 432.1,236.1 432.6,238.1 433.1,240.1 433.6,240.4 434.1,243.9 434.6,244.4 435.1,243.8 435.6,245.9 436.1,251.2 436.6,254.3 437.1,252.3 437.6,250.7 438.1,254.0 438.6,254.8 439.1,254.7 439.6,258.2 440.1,257.5 440.6,257.5 441.1,259.0 441.6,260.1 442.1,263.0 442.6,261.6 443.1,264.4 443.6,261.7 444.1,260.1 444.6,267.7 445.1,272.4 445.6,268.5 446.1,267.3 446.6,266.4 447.1,266.9 447.6,272.3 448.1,273.0 448.6,268.2 449.1,275.2 449.6,269.6 450.1,273.7 450.6,271.4 451.1,272.1 451.6,272.3 452.1,272.7 452.6,278.9 453.1,275.0 453.6,276.3 454.1,275.8 454.6,273.4 455.1,278.5 455.6,280.5 456.1,281.0 456.6,279.8 457.1,276.5 457.6,282.5 458.1,275.8 458.6,279.0 459.1,281.1 459.6,286.2 460.1,280.0 460.6,278.7 461.1,289.4 461.6,277.5 462.1,276.3 462.6,280.9 463.1,280.6 463.6,274.6 464.1,278.4 464.6,287.1 465.1,283.4 465.6,284.2 466.1,284.4 466.6,296.6 467.1,281.2 467.6,287.2 468.1,283.9 468.6,285.3 469.1,281.5 469.6,286.4 470.1,289.0 470.6,283.2 471.1,280.1 471.6,287.2 472.1,280.5 472.6,284.9 473.1,288.7 473.6,280.4 474.1,290.5 474.6,282.5 475.1,289.1 475.6,284.9 476.1,293.5 476.6,291.3 477.1,282.9 477.6,286.6 478.1,287.4 478.6,289.8 479.1,285.8 479.6,295.5 480.1,293.9 480.6,288.9 481.1,292.5 481.6,291.9 482.1,288.8 482.6,289.2 483.1,289.7 483.6,281.9 484.1,284.4 484.6,283.7 485.1,289.2 485.6,291.7 486.1,297.6 486.6,291.1 487.1,302.6 487.6,292.5 488.1,286.1 488.6,282.8 489.1,285.4 489.6,294.5 490.1,287.6 490.6,294.2 491.1,286.3 491.6,290.7 492.1,286.3 492.6,280.1 493.1,286.2 493.6,281.0 494.1,289.7 494.6,292.3 495.1,284.8 495.6,283.4 496.1,293.8 496.6,290.5 497.1,299.6 497.6,292.1 498.1,287.0 498.6,291.6 499.1,294.3 499.6,299.8 500.1,289.6 500.6,287.7 501.1,288.6 501.6,290.3 502.1,299.2 502.6,284.0 503.1,292.0 503.6,292.5 504.1,288.4 504.6,306.9 505.1,292.3 505.6,292.7 506.1,290.2 506.6,286.0 507.1,289.9 507.6,304.4 508.1,294.1 508.6,291.3 509.1,291.7 509.6,300.3 510.1,303.3 510.6,289.9 511.1,290.9 511.6,292.8 512.1,304.1 512.6,285.0 513.1,317.1 513.6,294.9 514.1,283.9 514.6,293.8 515.1,291.8 515.6,300.2 516.1,286.9 516.6,301.2 517.1,291.9 517.6,292.6 518.1,299.6 518.6,289.1 519.1,302.4 519.6,297.4 520.1,293.6 520.6,295.8 521.1,291.2 521.6,289.2 522.1,295.3 522.6,296.8 523.1,296.7 523.6,295.8 524.1,289.9 524.6,295.1 525.1,291.9 525.6,294.5 526.1,299.0 526.6,289.9 527.1,300.4 527.6,294.1 528.1,287.3 528.6,300.9 529.1,294.6 529.6,304.8 530.1,297.2 530.6,304.2 531.1,296.4 531.6,297.5 532.1,293.8 532.6,287.3 533.1,293.1 533.6,291.3 534.1,294.9 534.6,296.1 535.1,299.7 535.6,307.2 536.1,294.5 536.6,287.4 537.1,292.5 537.6,298.0 538.1,287.4 538.6,297.5 539.1,298.7 539.6,302.8 540.1,301.0 540.6,296.5 541.1,286.3 541.6,296.4 542.1,301.6 542.6,298.8 543.1,296.6 543.6,307.2 544.1,294.7 544.6,291.9 545.1,293.8 545.6,292.5 546.1,303.9 546.6,307.3 547.1,289.5 547.6,290.4 548.1,306.0 548.6,294.7 549.1,295.6 549.6,293.0 550.1,294.7 550.6,298.8 551.1,294.8 551.6,295.0 552.1,296.1 552.6,309.0 553.1,323.6 553.6,300.7 554.1,307.1 554.6,294.6 555.1,292.3 555.6,294.5 556.1,298.1 556.6,295.6 557.1,290.3 557.6,314.8 558.1,291.4 558.6,292.4 559.1,294.6 559.6,289.2 560.1,300.3 560.6,291.4 561.1,301.7 561.6,300.7 562.1,302.7 562.6,293.7 563.1,301.9 563.6,295.8 564.1,303.3 564.6,290.8 565.1,287.7 565.6,294.9 566.1,288.5 566.6,293.2 567.1,286.5 567.6,295.6 568.1,306.8 568.6,289.1 569.1,296.8 569.6,302.6 570.1,300.0 570.6,307.4 571.1,297.1 571.6,302.9 572.1,289.1 572.6,292.8 573.1,307.7 573.6,306.4 574.1,299.5 574.6,310.2 575.1,296.8 575.6,296.4 576.1,300.9 576.6,299.4 577.1,293.6 577.6,289.5 578.1,289.2 578.6,296.0 579.1,291.9 579.6,300.7 580.1,294.1 580.6,302.2 581.1,292.5 581.6,304.3 582.1,302.3 582.6,296.3 583.1,293.4 583.6,324.7 584.1,299.4 584.6,295.5 585.1,295.1 585.6,301.4 586.1,295.8 586.6,328.1 587.1,289.6 587.6,293.4 588.1,305.1 588.6,313.4 589.1,295.8 589.6,290.6 590.1,295.4 590.6,291.9 591.1,299.2 591.6,305.4 592.1,292.5 592.6,295.8 593.1,292.8 593.6,305.6 594.1,295.4 594.6,300.1 595.1,292.3 595.6,299.8 596.1,300.0 596.6,299.9 597.1,290.2 597.6,296.2 598.1,301.0 598.6,302.9 599.1,303.0 599.6,289.4 600.1,309.5 600.6,311.4 601.1,293.1 601.6,290.6 602.1,297.3 602.6,292.4 603.1,292.5 603.6,291.5 604.1,296.2 604.6,288.7 605.1,295.3 605.6,289.1 606.1,303.4 606.6,291.6 607.1,304.6 607.6,306.5 608.1,293.7 608.6,301.4 609.1,293.9 609.6,303.1 610.1,288.8 610.6,296.2 611.1,303.5 611.6,295.3 612.1,291.8 612.6,300.9 613.1,293.5 613.6,287.0 614.1,291.9 614.6,296.3 615.1,299.6 615.6,293.2 616.1,306.5 616.6,325.2 617.1,300.2 617.6,303.1 618.1,288.2 618.6,295.4 619.1,302.3 619.6,303.6 620.1,293.6 620.6,301.3 621.1,299.6 621.6,296.7 622.1,295.7 622.6,295.6 623.1,295.6 623.6,289.9 624.1,288.3 624.6,307.6 625.1,285.1 625.6,295.5 626.1,290.2 626.6,300.6 627.1,294.4 627.6,295.0 628.1,295.5 628.6,291.9 629.1,292.9 629.6,302.4 630.1,296.8 630.6,292.5 631.1,292.7 631.6,298.1 632.1,297.7 632.6,297.0 633.1,303.2 633.6,304.5 634.1,288.8 634.6,298.4 635.1,295.6 635.6,300.7 636.1,289.9 636.6,288.1 637.1,297.4 637.6,293.5 638.1,300.7 638.6,288.1 639.1,291.6 639.6,301.3 640.1,290.2 640.6,294.3 641.1,294.0 641.6,294.3 642.1,300.2 642.6,299.4 643.1,293.0 643.6,296.5 644.1,302.1 644.6,287.1 645.1,297.4 645.6,310.9 646.1,300.4 646.6,292.7 647.1,291.4 647.6,294.9 648.1,291.9 648.6,306.4 649.1,298.4 649.6,299.0 650.1,296.2 650.6,293.7 651.1,311.5 651.6,283.3 652.1,301.6 652.6,294.5 653.1,292.1 653.6,292.0 654.1,295.0 654.6,323.2 655.1,303.3 655.6,292.5 656.1,302.1 656.6,303.1 657.1,315.3 657.6,290.5 658.1,293.7 658.6,302.0 659.1,297.2 659.6,297.0 660.1,303.6 660.6,298.0 661.1,295.1 661.6,293.6 662.1,290.3 662.6,296.4 663.1,299.2 663.6,294.4 664.1,300.3 664.6,304.8 665.1,290.9 665.6,298.8 666.1,295.9 666.6,293.2 667.1,303.7 667.6,315.9 668.1,294.2 668.6,297.1 669.1,294.5 669.6,301.2 670.1,314.0 670.6,307.7 671.1,302.3 671.6,292.2 672.1,295.2 672.6,299.8 673.1,296.3 673.6,290.0 674.1,291.0 674.6,294.6 675.1,294.3 675.6,298.2 676.1,297.3 676.6,293.5 677.1,297.3 677.6,295.0 678.1,303.9 678.6,308.5 679.1,308.8 679.6,299.2 680.1,290.2" fill="none" stroke="#f9ab8f" stroke-width="0.9" stroke-linejoin="round"/>
<polyline points="385.0,277.1 386.0,276.6 387.0,276.1 388.0,275.6 389.0,275.0 390.0,274.4 391.0,273.7 392.0,273.0 393.0,272.2 394.0,271.4 395.0,270.5 396.0,269.5 397.0,268.5 398.0,267.3 399.0,266.1 400.0,264.8 401.0,263.4 402.0,261.9 403.0,260.2 404.0,258.5 405.0,256.6 406.0,254.6 407.0,252.4 408.0,250.1 409.0,247.7 410.0,245.2 411.0,242.5 412.0,239.8 413.0,237.0 414.0,234.2 415.0,231.5 416.0,228.8 417.0,226.3 418.0,224.0 419.0,222.1 420.0,220.6 421.0,219.5 422.0,218.9 423.0,218.8 424.0,219.3 425.0,220.3 426.0,221.8 427.0,223.7 428.0,225.9 429.0,228.4 430.0,231.1 431.0,234.0 432.0,236.9 433.0,239.8 434.0,242.6 435.0,245.4 436.0,248.1 437.0,250.7 438.0,253.1 439.0,255.4 440.0,257.6 441.0,259.7 442.0,261.6 443.0,263.4 444.0,265.0 445.0,266.6 446.0,268.1 447.0,269.4 448.0,270.7 449.0,271.9 450.0,273.0 451.0,274.0 452.0,275.0 453.0,275.9 454.0,276.7 455.0,277.5 456.0,278.3 457.0,279.0 458.0,279.6 459.0,280.2 460.0,280.8 461.0,281.4 462.0,281.9 463.0,282.4 464.0,282.9 465.0,283.3 466.0,283.7" fill="none" stroke="#b83c10" stroke-width="2.6" stroke-linejoin="round" stroke-linecap="round"/>
<polyline points="155.1,196.4 156.1,198.5 157.1,200.7 158.1,202.8 159.1,205.0 160.1,207.1 161.1,209.3 162.1,211.4 163.1,213.6 164.1,215.6 165.1,217.6 166.1,219.5 167.1,221.5 168.1,223.5 169.1,225.5 170.1,227.4 171.1,229.4 172.1,231.4 173.1,233.3 174.1,235.2 175.1,237.1 176.1,239.0 177.1,240.9 178.1,242.7 179.1,244.6 180.1,246.5 181.1,248.4 182.1,250.2 183.1,252.0 184.1,253.9 185.1,255.7 186.1,257.5 187.1,259.3 188.1,261.1 189.1,262.9 190.1,264.7 191.1,266.4 192.1,268.0 193.1,269.5 194.1,271.0 195.1,272.6 196.1,274.1 197.1,275.6 198.1,277.2 199.1,278.7 200.1,280.2 201.1,281.7 202.1,283.1 203.1,284.5 204.1,286.0 205.1,287.4 206.1,288.9 207.1,290.3 208.1,291.7 209.1,293.2 210.1,294.3 211.1,295.4 212.1,296.5 213.1,297.6 214.1,298.7 215.1,299.7 216.1,300.8 217.1,301.9 218.1,303.0" fill="none" stroke="#c3d7ee" stroke-width="1.5" stroke-linejoin="round" stroke-dasharray="1.6 1.4"/>
<polyline points="218.1,302.0 218.6,301.7 219.1,301.2 219.6,304.6 220.1,304.5 220.6,303.0 221.1,305.1 221.6,304.6 222.1,305.3 222.6,309.1 223.1,309.0 223.6,313.5 224.1,308.6 224.6,305.9 225.1,311.3 225.6,306.8 226.1,307.7 226.6,310.2 227.1,310.6 227.6,310.7 228.1,313.3 228.6,312.2 229.1,312.0 229.6,310.8 230.1,310.8 230.6,314.7 231.1,311.3 231.6,315.5 232.1,314.3 232.6,313.3 233.1,314.6 233.6,315.2 234.1,314.5 234.6,317.0 235.1,317.6 235.6,316.7 236.1,314.0 236.6,317.1 237.1,312.3 237.6,316.8 238.1,328.0 238.6,319.2 239.1,313.8 239.6,318.4 240.1,320.0 240.6,321.7 241.1,315.6 241.6,316.7 242.1,317.9 242.6,318.8 243.1,316.3 243.6,318.2 244.1,325.2 244.6,318.8 245.1,320.9 245.6,322.1 246.1,319.6 246.6,322.1 247.1,335.2 247.6,317.9 248.1,319.6 248.6,323.6 249.1,324.7 249.6,322.8 250.1,328.8 250.6,323.0 251.1,325.1 251.6,325.8 252.1,328.4 252.6,327.6 253.1,321.4 253.6,320.9 254.1,323.8 254.6,326.1 255.1,355.9 255.6,323.7 256.1,320.9 256.6,334.0 257.1,322.6 257.6,337.6 258.1,328.6 258.6,325.8 259.1,333.8 259.6,334.8 260.1,327.1 260.6,324.7 261.1,330.3 261.6,323.4 262.1,332.1 262.6,322.3 263.1,328.4 263.6,328.1 264.1,326.8 264.6,328.0 265.1,322.6 265.6,321.5 266.1,327.4 266.6,330.5 267.1,335.6 267.6,333.5 268.1,330.0 268.6,330.6 269.1,330.4 269.6,330.3 270.1,328.3 270.6,337.5 271.1,335.7 271.6,326.1 272.1,327.3 272.6,333.5 273.1,325.7 273.6,334.4 274.1,332.4 274.6,341.7 275.1,327.7 275.6,331.5 276.1,327.0 276.6,328.6 277.1,331.3 277.6,358.1 278.1,326.8 278.6,332.7 279.1,332.7 279.6,331.7 280.1,328.5 280.6,328.1 281.1,324.5 281.6,332.6 282.1,326.9 282.6,335.6 283.1,329.6 283.6,331.8 284.1,325.3 284.6,329.7 285.1,334.7 285.6,329.9 286.1,331.0 286.6,334.2 287.1,334.1 287.6,337.8 288.1,322.2 288.6,332.2 289.1,328.5 289.6,339.4 290.1,339.0 290.6,333.8 291.1,333.8 291.6,329.5 292.1,338.7 292.6,330.6 293.1,326.7 293.6,338.2 294.1,345.6 294.6,338.6 295.1,331.6 295.6,331.6 296.1,326.0 296.6,337.1 297.1,332.6 297.6,328.7 298.1,340.2 298.6,342.1 299.1,338.3 299.6,337.3 300.1,330.4 300.6,330.3 301.1,353.9 301.6,327.6 302.1,328.0 302.6,334.6 303.1,335.3 303.6,333.1 304.1,349.5 304.6,326.7 305.1,337.5 305.6,340.0 306.1,336.4 306.6,329.9 307.1,328.4 307.6,362.7 308.1,331.9 308.6,334.4 309.1,339.8 309.6,333.3 310.1,334.0 310.6,343.7 311.1,329.1 311.6,344.0 312.1,333.0 312.6,340.3 313.1,338.8 313.6,338.2 314.1,330.9 314.6,341.8 315.1,335.3 315.6,327.4 316.1,338.2 316.6,365.8 317.1,331.1 317.6,337.5 318.1,332.0 318.6,338.0 319.1,331.0 319.6,334.0 320.1,339.7 320.6,328.0 321.1,334.9 321.6,335.9 322.1,339.7 322.6,336.9 323.1,334.9 323.6,333.5 324.1,329.3 324.6,342.4 325.1,336.3 325.6,328.9 326.1,333.5 326.6,332.4 327.1,327.4 327.6,332.7 328.1,332.1 328.6,334.6 329.1,326.7 329.6,329.5 330.1,338.4 330.6,331.7 331.1,341.2 331.6,329.4 332.1,331.3 332.6,335.3 333.1,336.7 333.6,346.3 334.1,331.0 334.6,335.2 335.1,336.3 335.6,331.2 336.1,338.4 336.6,337.9 337.1,338.6 337.6,343.0 338.1,324.8 338.6,335.8 339.1,336.7 339.6,345.1 340.1,361.9 340.6,335.0 341.1,334.8 341.6,340.5 342.1,332.7 342.6,348.6 343.1,335.0 343.6,330.9 344.1,350.6 344.6,344.1 345.1,336.1 345.6,335.4 346.1,339.0 346.6,333.7 347.1,334.3 347.6,343.9 348.1,336.2 348.6,343.5 349.1,350.1 349.6,353.6 350.1,331.0 350.6,336.5 351.1,327.5 351.6,345.0 352.1,337.8 352.6,334.2 353.1,336.7 353.6,333.4 354.1,335.1 354.6,339.2 355.1,352.4 355.6,341.2 356.1,328.3 356.6,332.1 357.1,329.6 357.6,338.8 358.1,336.6 358.6,340.5 359.1,333.7 359.6,335.2 360.1,333.3 360.6,328.0 361.1,339.9 361.6,332.0 362.1,343.5 362.6,330.4 363.1,337.5 363.6,335.6 364.1,334.5 364.6,328.2 365.1,335.2 365.6,337.6 366.1,341.5 366.6,333.7 367.1,339.4 367.6,337.4 368.1,334.9 368.6,331.8 369.1,338.3 369.6,331.7 370.1,346.2 370.6,342.8 371.1,328.8 371.6,326.0 372.1,337.2 372.6,352.1 373.1,341.4 373.6,332.5 374.1,335.5 374.6,332.5 375.1,338.3 375.6,337.7 376.1,335.7 376.6,336.9 377.1,336.3 377.6,334.2 378.1,338.6 378.6,333.7 379.1,331.0 379.6,345.8 380.1,331.9 380.6,336.0 381.1,337.7 381.6,338.8 382.1,336.0 382.6,335.3 383.1,330.5 383.6,337.5 384.1,327.6 384.6,334.8 385.1,328.5 385.6,326.9 386.1,336.0 386.6,326.6 387.1,323.0 387.6,331.6 388.1,327.5 388.6,329.7 389.1,328.6 389.6,329.3 390.1,330.1 390.6,325.6 391.1,324.8 391.6,327.3 392.1,322.3 392.6,323.2 393.1,324.0 393.6,328.2 394.1,320.0 394.6,321.2 395.1,332.2 395.6,327.7 396.1,325.1 396.6,320.6 397.1,319.4 397.6,323.0 398.1,321.0 398.6,319.3 399.1,324.1 399.6,318.4 400.1,320.1 400.6,318.2 401.1,318.1 401.6,320.2 402.1,318.9 402.6,315.7 403.1,314.8 403.6,314.8 404.1,311.4 404.6,313.2 405.1,314.0 405.6,311.4 406.1,310.1 406.6,309.0 407.1,306.0 407.6,305.9 408.1,304.1 408.6,303.7 409.1,303.6 409.6,300.9 410.1,301.4 410.6,299.5 411.1,299.8 411.6,297.2 412.1,296.4 412.6,294.4 413.1,291.8 413.6,290.1 414.1,290.0 414.6,289.6 415.1,287.7 415.6,286.9 416.1,286.4 416.6,284.8 417.1,283.8 417.6,283.0 418.1,280.8 418.6,281.0 419.1,280.1 419.6,278.7 420.1,278.8 420.6,278.6 421.1,278.0 421.6,277.0 422.1,276.8 422.6,276.8 423.1,277.3 423.6,277.7 424.1,277.1 424.6,278.8 425.1,278.7 425.6,280.0 426.1,280.3 426.6,281.0 427.1,281.1 427.6,284.7 428.1,283.1 428.6,285.8 429.1,286.2 429.6,287.0 430.1,289.5 430.6,290.3 431.1,291.2 431.6,293.1 432.1,295.0 432.6,295.5 433.1,296.9 433.6,300.1 434.1,298.2 434.6,300.8 435.1,305.5 435.6,304.7 436.1,302.6 436.6,303.9 437.1,306.9 437.6,311.1 438.1,309.9 438.6,309.0 439.1,311.0 439.6,313.3 440.1,315.1 440.6,313.2 441.1,316.1 441.6,315.9 442.1,316.4 442.6,315.0 443.1,318.7 443.6,319.3 444.1,325.3 444.6,318.9 445.1,320.1 445.6,322.9 446.1,330.3 446.6,325.7 447.1,324.6 447.6,320.3 448.1,324.4 448.6,324.4 449.1,324.8 449.6,324.0 450.1,331.9 450.6,331.4 451.1,333.1 451.6,330.5 452.1,331.2 452.6,330.2 453.1,334.6 453.6,331.0 454.1,334.8 454.6,325.8 455.1,334.4 455.6,325.3 456.1,328.0 456.6,338.3 457.1,330.6 457.6,332.1 458.1,341.0 458.6,332.7 459.1,335.5 459.6,334.1 460.1,339.2 460.6,336.2 461.1,334.7 461.6,337.2 462.1,339.3 462.6,337.6 463.1,341.6 463.6,336.1 464.1,351.5 464.6,332.4 465.1,337.9 465.6,336.4 466.1,335.2 466.6,344.7 467.1,330.8 467.6,344.5 468.1,337.4 468.6,338.1 469.1,334.6 469.6,339.9 470.1,347.2 470.6,338.8 471.1,355.0 471.6,341.4 472.1,342.8 472.6,334.7 473.1,342.3 473.6,343.3 474.1,345.0 474.6,345.7 475.1,352.8 475.6,339.1 476.1,348.9 476.6,343.0 477.1,350.2 477.6,343.1 478.1,341.7 478.6,349.2 479.1,345.5 479.6,342.3 480.1,339.5 480.6,371.5 481.1,343.7 481.6,348.6 482.1,352.8 482.6,340.0 483.1,337.7 483.6,342.0 484.1,337.2 484.6,346.2 485.1,346.0 485.6,337.5 486.1,349.8 486.6,341.5 487.1,342.6 487.6,343.8 488.1,337.3 488.6,349.5 489.1,347.0 489.6,358.6 490.1,350.9 490.6,347.8 491.1,347.2 491.6,346.3 492.1,343.9 492.6,349.0 493.1,358.4 493.6,344.8 494.1,343.6 494.6,352.5 495.1,350.2 495.6,338.3 496.1,341.2 496.6,341.0 497.1,342.9 497.6,345.4 498.1,349.0 498.6,343.6 499.1,347.4 499.6,348.9 500.1,346.6 500.6,356.2 501.1,342.5 501.6,352.3 502.1,336.5 502.6,352.8 503.1,349.3 503.6,342.6 504.1,351.9 504.6,349.8 505.1,347.1 505.6,372.4 506.1,350.2 506.6,353.1 507.1,348.8 507.6,345.1 508.1,344.5 508.6,340.9 509.1,341.2 509.6,342.9 510.1,348.1 510.6,343.0 511.1,353.9 511.6,348.5 512.1,341.5 512.6,344.3 513.1,357.1 513.6,351.6 514.1,343.9 514.6,345.3 515.1,343.3 515.6,360.4 516.1,356.4 516.6,350.0 517.1,354.5 517.6,348.8 518.1,348.7 518.6,347.0 519.1,349.5 519.6,346.1 520.1,345.1 520.6,348.2 521.1,356.6 521.6,343.0 522.1,348.0 522.6,347.0 523.1,348.3 523.6,360.0 524.1,346.4 524.6,353.2 525.1,357.1 525.6,343.4 526.1,351.2 526.6,348.1 527.1,345.3 527.6,342.3 528.1,393.3 528.6,354.2 529.1,346.5 529.6,353.8 530.1,382.1 530.6,349.2 531.1,348.9 531.6,346.2 532.1,348.9 532.6,352.7 533.1,364.4 533.6,350.5 534.1,353.3 534.6,349.1 535.1,348.6 535.6,356.7 536.1,345.6 536.6,346.5 537.1,346.7 537.6,374.2 538.1,350.1 538.6,365.4 539.1,357.0 539.6,359.0 540.1,361.0 540.6,345.1 541.1,349.0 541.6,354.0 542.1,344.4 542.6,348.8 543.1,349.5 543.6,359.7 544.1,348.6 544.6,344.7 545.1,346.1 545.6,359.8 546.1,344.9 546.6,344.1 547.1,347.4 547.6,353.9 548.1,361.8 548.6,357.4 549.1,355.2 549.6,350.4 550.1,349.1 550.6,356.4 551.1,363.3 551.6,354.4 552.1,360.8 552.6,345.6 553.1,360.1 553.6,349.6 554.1,347.9 554.6,358.3 555.1,347.2 555.6,353.0 556.1,357.1 556.6,358.2 557.1,351.7 557.6,346.9 558.1,366.3 558.6,349.1 559.1,353.2 559.6,357.0 560.1,352.9 560.6,352.4 561.1,352.7 561.6,348.2 562.1,358.0 562.6,343.3 563.1,347.8 563.6,356.0 564.1,366.8 564.6,352.5 565.1,354.8 565.6,348.5 566.1,348.6 566.6,343.5 567.1,353.1 567.6,348.3 568.1,354.8 568.6,354.5 569.1,345.0 569.6,367.4 570.1,352.9 570.6,354.3 571.1,350.5 571.6,349.2 572.1,352.9 572.6,359.7 573.1,350.4 573.6,357.3 574.1,354.3 574.6,351.1 575.1,350.9 575.6,370.9 576.1,344.3 576.6,348.2 577.1,343.4 577.6,341.2 578.1,358.2 578.6,355.7 579.1,351.0 579.6,347.6 580.1,355.4 580.6,354.2 581.1,347.0 581.6,358.0 582.1,351.3 582.6,347.0 583.1,354.0 583.6,348.5 584.1,353.2 584.6,363.8 585.1,355.8 585.6,353.8 586.1,354.6 586.6,352.5 587.1,350.5 587.6,351.1 588.1,351.7 588.6,355.4 589.1,354.1 589.6,355.1 590.1,356.5 590.6,346.1 591.1,367.4 591.6,351.6 592.1,364.9 592.6,356.7 593.1,348.9 593.6,354.8 594.1,346.2 594.6,359.4 595.1,355.0 595.6,357.2 596.1,353.2 596.6,355.2 597.1,355.6 597.6,352.9 598.1,347.7 598.6,352.6 599.1,353.2 599.6,355.3 600.1,358.1 600.6,364.1 601.1,360.8 601.6,353.5 602.1,369.0 602.6,350.2 603.1,356.4 603.6,360.1 604.1,357.3 604.6,350.2 605.1,351.8 605.6,352.3 606.1,345.2 606.6,342.9 607.1,362.7 607.6,348.9 608.1,358.4 608.6,363.2 609.1,356.6 609.6,348.0 610.1,355.1 610.6,356.1 611.1,346.1 611.6,350.2 612.1,353.4 612.6,344.3 613.1,350.2 613.6,357.2 614.1,359.8 614.6,355.1 615.1,351.7 615.6,347.8 616.1,348.2 616.6,351.9 617.1,360.2 617.6,347.8 618.1,370.5 618.6,359.6 619.1,360.7 619.6,351.3 620.1,350.7 620.6,348.4 621.1,360.7 621.6,343.7 622.1,366.1 622.6,352.9 623.1,346.1 623.6,347.4 624.1,358.8 624.6,366.5 625.1,346.6 625.6,348.9 626.1,359.1 626.6,344.8 627.1,364.5 627.6,352.6 628.1,359.9 628.6,355.4 629.1,354.8 629.6,350.2 630.1,361.5 630.6,351.7 631.1,346.5 631.6,352.5 632.1,350.0 632.6,350.6 633.1,357.7 633.6,355.2 634.1,352.7 634.6,350.4 635.1,343.5 635.6,345.1 636.1,355.8 636.6,355.6 637.1,359.7 637.6,372.5 638.1,346.5 638.6,350.2 639.1,368.2 639.6,352.9 640.1,342.3 640.6,350.4 641.1,350.3 641.6,351.8 642.1,357.8 642.6,360.9 643.1,358.3 643.6,352.1 644.1,354.4 644.6,349.3 645.1,344.5 645.6,349.7 646.1,348.5 646.6,355.0 647.1,361.8 647.6,342.9 648.1,349.0 648.6,346.9 649.1,355.1 649.6,365.3 650.1,346.3 650.6,370.3 651.1,353.8 651.6,356.1 652.1,351.6 652.6,348.6 653.1,348.6 653.6,369.7 654.1,347.8 654.6,367.5 655.1,349.3 655.6,355.5 656.1,360.5 656.6,356.1 657.1,362.0 657.6,353.0 658.1,348.0 658.6,348.7 659.1,352.6 659.6,347.3 660.1,350.1 660.6,342.9 661.1,350.1 661.6,356.6 662.1,354.6 662.6,357.7 663.1,354.6 663.6,353.7 664.1,349.2 664.6,348.8 665.1,352.6 665.6,350.6 666.1,357.5 666.6,356.3 667.1,374.5 667.6,357.8 668.1,355.9 668.6,341.4 669.1,362.3 669.6,352.5 670.1,354.9 670.6,364.4 671.1,351.5 671.6,352.8 672.1,363.3 672.6,372.7 673.1,353.3 673.6,363.0 674.1,349.3 674.6,354.6 675.1,350.0 675.6,354.7 676.1,345.4 676.6,349.2 677.1,345.4 677.6,352.2 678.1,359.6 678.6,362.8 679.1,355.9 679.6,351.2 680.1,356.7" fill="none" stroke="#c3d7ee" stroke-width="0.9" stroke-linejoin="round"/>
<polyline points="385.0,330.5 386.0,330.1 387.0,329.6 388.0,329.2 389.0,328.6 390.0,328.1 391.0,327.5 392.0,326.8 393.0,326.1 394.0,325.4 395.0,324.6 396.0,323.7 397.0,322.7 398.0,321.7 399.0,320.6 400.0,319.4 401.0,318.1 402.0,316.7 403.0,315.2 404.0,313.6 405.0,311.8 406.0,310.0 407.0,308.0 408.0,305.9 409.0,303.6 410.0,301.3 411.0,298.8 412.0,296.3 413.0,293.7 414.0,291.2 415.0,288.6 416.0,286.2 417.0,283.9 418.0,281.8 419.0,280.0 420.0,278.6 421.0,277.6 422.0,277.1 423.0,277.0 424.0,277.5 425.0,278.5 426.0,279.9 427.0,281.7 428.0,283.8 429.0,286.1 430.0,288.7 431.0,291.3 432.0,294.1 433.0,296.8 434.0,299.5 435.0,302.1 436.0,304.6 437.0,307.1 438.0,309.4 439.0,311.6 440.0,313.6 441.0,315.5 442.0,317.4 443.0,319.1 444.0,320.6 445.0,322.1 446.0,323.5 447.0,324.8 448.0,326.0 449.0,327.1 450.0,328.2 451.0,329.2 452.0,330.1 453.0,331.0 454.0,331.8 455.0,332.5 456.0,333.3 457.0,333.9 458.0,334.6 459.0,335.2 460.0,335.8 461.0,336.3 462.0,336.8 463.0,337.3 464.0,337.8 465.0,338.2 466.0,338.6" fill="none" stroke="#131a26" stroke-width="2.6" stroke-linejoin="round" stroke-linecap="round"/>
<polyline points="155.1,251.3 156.1,253.4 157.1,255.5 158.1,257.6 159.1,259.7 160.1,261.7 161.1,263.8 162.1,265.9 163.1,268.0 164.1,270.0 165.1,271.9 166.1,273.8 167.1,275.7 168.1,277.7 169.1,279.6 170.1,281.5 171.1,283.4 172.1,285.3 173.1,287.2 174.1,289.1 175.1,290.9 176.1,292.7 177.1,294.5 178.1,296.4 179.1,298.2 180.1,300.0 181.1,301.8 182.1,303.7 183.1,305.5 184.1,307.2 185.1,309.0 186.1,310.7 187.1,312.5 188.1,314.2 189.1,316.0 190.1,317.7 191.1,319.5 192.1,321.2 193.1,322.8 194.1,324.3 195.1,325.8 196.1,327.3 197.1,328.8 198.1,330.3 199.1,331.8 200.1,333.2 201.1,334.7 202.1,336.2 203.1,337.6 204.1,339.0 205.1,340.4 206.1,341.8 207.1,343.2 208.1,344.6 209.1,346.0 210.1,347.4 211.1,348.8 212.1,350.0 213.1,351.1 214.1,352.1 215.1,353.2 216.1,354.3 217.1,355.3 218.1,356.4 219.1,357.4 220.1,358.5 221.1,359.6" fill="none" stroke="#63a5d5" stroke-width="1.5" stroke-linejoin="round" stroke-dasharray="1.6 1.4"/>
<polyline points="221.6,359.2 222.1,359.6 222.6,357.8 223.1,360.1 223.6,361.4 224.1,360.7 224.6,364.2 225.1,363.5 225.6,361.7 226.1,362.4 226.6,361.1 227.1,364.4 227.6,368.1 228.1,361.5 228.6,363.4 229.1,368.4 229.6,363.6 230.1,366.8 230.6,371.7 231.1,368.6 231.6,369.1 232.1,364.8 232.6,370.5 233.1,369.5 233.6,369.9 234.1,370.4 234.6,372.2 235.1,369.6 235.6,367.9 236.1,369.2 236.6,373.6 237.1,374.6 237.6,371.4 238.1,374.0 238.6,374.1 239.1,377.8 239.6,368.1 240.1,370.9 240.6,376.5 241.1,371.4 241.6,370.5 242.1,382.7 242.6,376.3 243.1,376.1 243.6,373.3 244.1,375.8 244.6,376.5 245.1,376.2 245.6,371.1 246.1,370.6 246.6,378.5 247.1,380.2 247.6,369.9 248.1,381.0 248.6,379.8 249.1,378.0 249.6,376.8 250.1,375.4 250.6,377.6 251.1,382.3 251.6,377.6 252.1,378.7 252.6,373.9 253.1,380.0 253.6,385.6 254.1,384.6 254.6,375.9 255.1,383.0 255.6,390.6 256.1,383.6 256.6,381.6 257.1,377.6 257.6,386.2 258.1,379.8 258.6,379.5 259.1,385.6 259.6,383.6 260.1,376.9 260.6,377.2 261.1,380.2 261.6,382.3 262.1,379.5 262.6,384.5 263.1,384.5 263.6,388.2 264.1,384.4 264.6,385.0 265.1,375.2 265.6,385.8 266.1,380.2 266.6,380.2 267.1,386.3 267.6,381.0 268.1,398.1 268.6,385.6 269.1,382.6 269.6,400.5 270.1,392.2 270.6,382.1 271.1,387.7 271.6,392.2 272.1,388.5 272.6,389.4 273.1,383.8 273.6,385.0 274.1,388.4 274.6,390.5 275.1,387.5 275.6,381.9 276.1,385.9 276.6,384.7 277.1,388.4 277.6,394.8 278.1,391.5 278.6,385.0 279.1,387.5 279.6,392.9 280.1,397.6 280.6,387.8 281.1,390.1 281.6,390.3 282.1,390.2 282.6,387.3 283.1,387.4 283.6,384.6 284.1,384.8 284.6,383.2 285.1,385.4 285.6,400.5 286.1,389.4 286.6,386.9 287.1,390.8 287.6,386.7 288.1,384.2 288.6,393.8 289.1,400.6 289.6,384.2 290.1,389.5 290.6,386.3 291.1,397.6 291.6,382.3 292.1,386.3 292.6,390.5 293.1,391.7 293.6,389.3 294.1,390.8 294.6,391.5 295.1,396.7 295.6,384.4 296.1,390.4 296.6,389.8 297.1,389.8 297.6,407.5 298.1,387.8 298.6,392.2 299.1,392.0 299.6,390.1 300.1,396.2 300.6,386.5 301.1,394.5 301.6,395.8 302.1,395.6 302.6,389.8 303.1,387.0 303.6,394.0 304.1,400.3 304.6,385.7 305.1,423.2 305.6,385.2 306.1,391.1 306.6,394.8 307.1,394.5 307.6,388.6 308.1,386.6 308.6,392.0 309.1,386.4 309.6,381.9 310.1,392.1 310.6,398.1 311.1,397.4 311.6,399.9 312.1,394.8 312.6,395.3 313.1,399.5 313.6,388.5 314.1,412.2 314.6,399.6 315.1,382.4 315.6,386.3 316.1,388.6 316.6,389.0 317.1,383.3 317.6,388.6 318.1,390.9 318.6,399.1 319.1,391.7 319.6,395.7 320.1,395.5 320.6,395.6 321.1,391.6 321.6,393.2 322.1,405.0 322.6,399.9 323.1,392.3 323.6,383.1 324.1,391.2 324.6,385.7 325.1,386.0 325.6,385.2 326.1,387.7 326.6,400.3 327.1,392.9 327.6,393.6 328.1,401.7 328.6,394.1 329.1,399.3 329.6,402.7 330.1,390.3 330.6,391.7 331.1,395.5 331.6,397.3 332.1,394.7 332.6,393.8 333.1,393.9 333.6,392.0 334.1,394.2 334.6,389.7 335.1,389.1 335.6,389.9 336.1,395.7 336.6,395.4 337.1,389.6 337.6,393.0 338.1,392.1 338.6,411.7 339.1,414.4 339.6,390.2 340.1,390.3 340.6,385.5 341.1,388.4 341.6,390.9 342.1,392.0 342.6,401.3 343.1,387.8 343.6,395.5 344.1,389.6 344.6,391.1 345.1,390.7 345.6,387.8 346.1,394.9 346.6,394.3 347.1,397.2 347.6,394.3 348.1,384.7 348.6,394.2 349.1,386.6 349.6,388.2 350.1,388.6 350.6,388.3 351.1,398.3 351.6,390.3 352.1,385.1 352.6,396.2 353.1,392.5 353.6,396.2 354.1,390.6 354.6,398.7 355.1,385.0 355.6,394.3 356.1,402.0 356.6,384.4 357.1,387.7 357.6,389.7 358.1,389.6 358.6,394.1 359.1,393.4 359.6,388.7 360.1,387.9 360.6,387.8 361.1,391.1 361.6,394.6 362.1,393.1 362.6,387.0 363.1,385.7 363.6,393.8 364.1,394.5 364.6,386.4 365.1,388.5 365.6,388.6 366.1,399.6 366.6,393.8 367.1,394.5 367.6,390.7 368.1,402.0 368.6,386.1 369.1,390.2 369.6,389.5 370.1,398.2 370.6,391.6 371.1,385.7 371.6,400.6 372.1,389.8 372.6,388.1 373.1,394.7 373.6,387.5 374.1,392.7 374.6,385.7 375.1,388.5 375.6,389.8 376.1,382.8 376.6,387.0 377.1,385.1 377.6,396.7 378.1,393.6 378.6,386.7 379.1,386.3 379.6,390.3 380.1,386.6 380.6,395.1 381.1,388.8 381.6,395.3 382.1,388.0 382.6,391.6 383.1,392.2 383.6,388.8 384.1,382.1 384.6,393.5 385.1,391.3 385.6,384.3 386.1,390.1 386.6,381.6 387.1,386.9 387.6,387.3 388.1,386.0 388.6,381.1 389.1,384.5 389.6,384.8 390.1,385.6 390.6,393.3 391.1,389.7 391.6,380.7 392.1,382.6 392.6,383.4 393.1,382.6 393.6,386.6 394.1,383.0 394.6,387.3 395.1,382.2 395.6,385.7 396.1,383.5 396.6,380.9 397.1,383.0 397.6,379.5 398.1,379.7 398.6,379.5 399.1,376.4 399.6,384.5 400.1,384.3 400.6,376.8 401.1,375.5 401.6,372.4 402.1,374.8 402.6,374.1 403.1,377.8 403.6,373.0 404.1,372.5 404.6,376.0 405.1,374.7 405.6,372.0 406.1,370.4 406.6,377.3 407.1,369.1 407.6,367.9 408.1,367.8 408.6,366.0 409.1,364.8 409.6,366.3 410.1,362.9 410.6,362.9 411.1,362.9 411.6,360.1 412.1,357.3 412.6,360.2 413.1,359.3 413.6,358.1 414.1,352.6 414.6,354.1 415.1,352.8 415.6,352.5 416.1,351.6 416.6,351.7 417.1,348.5 417.6,347.5 418.1,348.7 418.6,347.0 419.1,346.0 419.6,344.8 420.1,344.1 420.6,342.9 421.1,342.4 421.6,342.4 422.1,342.0 422.6,343.9 423.1,343.5 423.6,342.4 424.1,343.3 424.6,343.9 425.1,346.0 425.6,346.5 426.1,345.0 426.6,346.1 427.1,347.4 427.6,348.4 428.1,350.7 428.6,349.7 429.1,350.0 429.6,350.5 430.1,353.2 430.6,354.6 431.1,356.8 431.6,355.3 432.1,355.8 432.6,359.9 433.1,359.8 433.6,361.2 434.1,363.4 434.6,367.9 435.1,365.3 435.6,364.9 436.1,369.6 436.6,369.5 437.1,376.1 437.6,367.6 438.1,370.0 438.6,371.8 439.1,373.4 439.6,375.1 440.1,374.7 440.6,376.1 441.1,376.8 441.6,377.1 442.1,377.4 442.6,374.8 443.1,383.4 443.6,379.2 444.1,382.4 444.6,384.7 445.1,389.9 445.6,380.7 446.1,386.2 446.6,386.0 447.1,382.7 447.6,388.4 448.1,385.1 448.6,385.9 449.1,383.6 449.6,383.4 450.1,390.2 450.6,384.4 451.1,388.2 451.6,387.8 452.1,389.4 452.6,386.3 453.1,394.4 453.6,388.8 454.1,386.0 454.6,391.5 455.1,383.9 455.6,394.2 456.1,390.5 456.6,393.7 457.1,394.6 457.6,397.3 458.1,394.8 458.6,393.0 459.1,396.6 459.6,389.8 460.1,387.8 460.6,401.4 461.1,390.6 461.6,393.4 462.1,393.4 462.6,385.7 463.1,390.0 463.6,393.6 464.1,394.4 464.6,408.0 465.1,392.3 465.6,399.4 466.1,395.1 466.6,395.6 467.1,392.2 467.6,388.5 468.1,392.4 468.6,391.4 469.1,398.0 469.6,395.0 470.1,393.8 470.6,405.5 471.1,389.3 471.6,401.3 472.1,404.9 472.6,391.1 473.1,389.5 473.6,401.9 474.1,401.5 474.6,386.6 475.1,398.0 475.6,411.3 476.1,402.0 476.6,390.6 477.1,395.9 477.6,395.6 478.1,393.8 478.6,396.1 479.1,401.2 479.6,409.4 480.1,397.5 480.6,406.2 481.1,400.1 481.6,392.3 482.1,397.4 482.6,399.8 483.1,399.9 483.6,396.8 484.1,396.1 484.6,408.5 485.1,399.6 485.6,393.1 486.1,397.1 486.6,405.2 487.1,404.8 487.6,441.2 488.1,405.6 488.6,394.0 489.1,401.6 489.6,406.3 490.1,404.6 490.6,402.1 491.1,402.1 491.6,403.6 492.1,406.2 492.6,398.6 493.1,394.8 493.6,405.2 494.1,428.0 494.6,396.4 495.1,411.6 495.6,405.6 496.1,404.4 496.6,401.4 497.1,403.9 497.6,407.8 498.1,400.9 498.6,410.1 499.1,414.7 499.6,417.5 500.1,399.0 500.6,414.8 501.1,400.6 501.6,399.6 502.1,399.0 502.6,404.1 503.1,406.3 503.6,402.8 504.1,406.8 504.6,411.7 505.1,397.4 505.6,408.9 506.1,395.3 506.6,400.9 507.1,406.3 507.6,401.4 508.1,397.8 508.6,412.9 509.1,409.6 509.6,410.5 510.1,403.1 510.6,401.9 511.1,403.9 511.6,408.5 512.1,407.3 512.6,398.4 513.1,410.1 513.6,403.6 514.1,413.1 514.6,401.2 515.1,417.0 515.6,414.9 516.1,396.5 516.6,400.5 517.1,410.8 517.6,410.8 518.1,398.1 518.6,403.7 519.1,431.5 519.6,405.5 520.1,411.0 520.6,403.3 521.1,397.4 521.6,403.0 522.1,412.0 522.6,406.6 523.1,407.8 523.6,404.0 524.1,399.9 524.6,396.0 525.1,403.7 525.6,407.5 526.1,404.6 526.6,405.0 527.1,407.6 527.6,405.0 528.1,405.2 528.6,412.8 529.1,402.4 529.6,407.4 530.1,411.5 530.6,402.9 531.1,408.3 531.6,397.4 532.1,403.1 532.6,405.2 533.1,410.3 533.6,408.1 534.1,401.5 534.6,410.0 535.1,402.0 535.6,422.0 536.1,433.3 536.6,401.9 537.1,404.3 537.6,406.1 538.1,401.1 538.6,411.5 539.1,412.5 539.6,405.7 540.1,400.4 540.6,404.1 541.1,407.5 541.6,404.9 542.1,404.2 542.6,414.8 543.1,432.5 543.6,413.2 544.1,417.0 544.6,410.2 545.1,414.7 545.6,412.2 546.1,427.9 546.6,406.3 547.1,407.0 547.6,399.1 548.1,409.7 548.6,409.2 549.1,410.1 549.6,414.3 550.1,418.6 550.6,400.7 551.1,405.3 551.6,403.9 552.1,403.8 552.6,402.5 553.1,409.9 553.6,407.5 554.1,414.3 554.6,406.3 555.1,405.8 555.6,409.7 556.1,403.6 556.6,394.5 557.1,414.5 557.6,402.8 558.1,402.3 558.6,401.7 559.1,412.0 559.6,401.1 560.1,403.6 560.6,407.7 561.1,409.0 561.6,405.6 562.1,402.3 562.6,402.5 563.1,396.8 563.6,409.0 564.1,403.7 564.6,409.4 565.1,402.9 565.6,406.2 566.1,410.5 566.6,415.7 567.1,411.6 567.6,405.6 568.1,399.9 568.6,403.0 569.1,414.7 569.6,426.4 570.1,406.8 570.6,407.7 571.1,406.7 571.6,403.2 572.1,406.1 572.6,411.6 573.1,422.0 573.6,409.4 574.1,419.7 574.6,408.5 575.1,405.8 575.6,416.9 576.1,408.5 576.6,409.8 577.1,398.8 577.6,405.4 578.1,422.6 578.6,405.6 579.1,405.8 579.6,409.3 580.1,410.4 580.6,404.9 581.1,404.6 581.6,405.8 582.1,414.9 582.6,409.8 583.1,419.9 583.6,419.3 584.1,411.9 584.6,415.6 585.1,411.0 585.6,397.0 586.1,405.7 586.6,414.4 587.1,427.0 587.6,414.2 588.1,419.2 588.6,427.7 589.1,404.7 589.6,411.7 590.1,406.2 590.6,395.1 591.1,407.1 591.6,408.0 592.1,406.7 592.6,410.4 593.1,414.3 593.6,410.0 594.1,402.7 594.6,410.4 595.1,418.8 595.6,417.7 596.1,415.8 596.6,408.6 597.1,406.0 597.6,406.0 598.1,402.4 598.6,409.9 599.1,404.1 599.6,406.7 600.1,404.7 600.6,423.1 601.1,402.0 601.6,419.9 602.1,416.1 602.6,404.1 603.1,410.7 603.6,399.7 604.1,407.3 604.6,415.2 605.1,407.3 605.6,410.7 606.1,400.5 606.6,400.2 607.1,404.2 607.6,410.7 608.1,407.7 608.6,402.7 609.1,430.3 609.6,413.3 610.1,403.6 610.6,404.2 611.1,409.5 611.6,409.8 612.1,423.7 612.6,402.1 613.1,408.8 613.6,418.4 614.1,415.8 614.6,414.0 615.1,399.8 615.6,404.4 616.1,417.6 616.6,399.2 617.1,401.4 617.6,415.3 618.1,433.3 618.6,403.1 619.1,411.9 619.6,408.9 620.1,411.4 620.6,401.7 621.1,400.8 621.6,403.8 622.1,409.0 622.6,406.6 623.1,404.8 623.6,419.7 624.1,401.8 624.6,410.1 625.1,406.6 625.6,407.3 626.1,403.4 626.6,402.6 627.1,397.8 627.6,410.3 628.1,414.0 628.6,407.3 629.1,436.4 629.6,403.5 630.1,413.3 630.6,407.3 631.1,403.1 631.6,402.8 632.1,406.9 632.6,401.0 633.1,401.5 633.6,420.8 634.1,406.0 634.6,407.0 635.1,409.8 635.6,412.0 636.1,407.7 636.6,405.8 637.1,406.4 637.6,401.2 638.1,402.8 638.6,411.6 639.1,412.8 639.6,403.5 640.1,412.4 640.6,407.0 641.1,405.4 641.6,402.7 642.1,405.2 642.6,400.8 643.1,410.8 643.6,404.4 644.1,412.1 644.6,406.9 645.1,407.3 645.6,414.1 646.1,431.9 646.6,403.0 647.1,406.0 647.6,407.2 648.1,430.8 648.6,410.0 649.1,405.5 649.6,407.8 650.1,402.1 650.6,407.3 651.1,413.3 651.6,404.7 652.1,412.0 652.6,406.8 653.1,421.8 653.6,410.1 654.1,405.0 654.6,412.1 655.1,408.2 655.6,404.8 656.1,407.7 656.6,399.5 657.1,409.6 657.6,409.1 658.1,409.0 658.6,423.8 659.1,419.2 659.6,405.2 660.1,410.1 660.6,401.1 661.1,408.5 661.6,409.1 662.1,402.8 662.6,406.5 663.1,400.2 663.6,415.2 664.1,405.7 664.6,404.4 665.1,405.0 665.6,402.2 666.1,402.7 666.6,407.8 667.1,411.5 667.6,402.9 668.1,407.7 668.6,403.0 669.1,401.2 669.6,406.8 670.1,413.8 670.6,409.4 671.1,403.7 671.6,409.2 672.1,401.9 672.6,407.6 673.1,407.0 673.6,411.6 674.1,408.3 674.6,402.2 675.1,409.8 675.6,409.7 676.1,412.7 676.6,403.7 677.1,418.7 677.6,411.9 678.1,403.1 678.6,400.8 679.1,409.2 679.6,402.9 680.1,423.5" fill="none" stroke="#63a5d5" stroke-width="0.9" stroke-linejoin="round"/>
<polyline points="385.0,388.6 386.0,388.3 387.0,387.9 388.0,387.5 389.0,387.0 390.0,386.6 391.0,386.1 392.0,385.5 393.0,384.9 394.0,384.3 395.0,383.6 396.0,382.8 397.0,382.0 398.0,381.2 399.0,380.2 400.0,379.2 401.0,378.1 402.0,376.9 403.0,375.6 404.0,374.2 405.0,372.7 406.0,371.1 407.0,369.4 408.0,367.6 409.0,365.7 410.0,363.7 411.0,361.6 412.0,359.5 413.0,357.3 414.0,355.1 415.0,352.9 416.0,350.8 417.0,348.8 418.0,347.1 419.0,345.6 420.0,344.3 421.0,343.5 422.0,343.1 423.0,343.0 424.0,343.4 425.0,344.3 426.0,345.5 427.0,347.0 428.0,348.8 429.0,350.8 430.0,353.0 431.0,355.3 432.0,357.6 433.0,360.0 434.0,362.3 435.0,364.5 436.0,366.7 437.0,368.8 438.0,370.8 439.0,372.6 440.0,374.4 441.0,376.1 442.0,377.6 443.0,379.1 444.0,380.4 445.0,381.7 446.0,382.9 447.0,384.0 448.0,385.0 449.0,386.0 450.0,386.9 451.0,387.7 452.0,388.5 453.0,389.3 454.0,390.0 455.0,390.6 456.0,391.3 457.0,391.8 458.0,392.4 459.0,392.9 460.0,393.4 461.0,393.9 462.0,394.3 463.0,394.7 464.0,395.1 465.0,395.5 466.0,395.9" fill="none" stroke="#1e4c6a" stroke-width="2.6" stroke-linejoin="round" stroke-linecap="round"/>
<polyline points="155.1,308.8 156.1,310.9 157.1,313.0 158.1,315.0 159.1,317.1 160.1,319.2 161.1,321.2 162.1,323.3 163.1,325.4 164.1,327.4 165.1,329.3 166.1,331.2 167.1,333.1 168.1,334.9 169.1,336.8 170.1,338.7 171.1,340.6 172.1,342.5 173.1,344.4 174.1,346.2 175.1,348.1 176.1,349.9 177.1,351.7 178.1,353.5 179.1,355.3 180.1,357.1 181.1,358.9 182.1,360.7 183.1,362.5 184.1,364.2 185.1,366.0 186.1,367.7 187.1,369.5 188.1,371.2 189.1,372.9 190.1,374.7 191.1,376.4 192.1,378.1 193.1,379.7 194.1,381.2 195.1,382.7 196.1,384.1 197.1,385.6 198.1,387.1 199.1,388.6 200.1,390.0 201.1,391.5 202.1,393.0 203.1,394.4 204.1,395.7 205.1,397.1 206.1,398.5 207.1,399.9 208.1,401.3 209.1,402.7 210.1,404.0 211.1,405.4 212.1,406.7 213.1,407.7 214.1,408.8 215.1,409.8 216.1,410.9 217.1,411.9 218.1,413.0 219.1,414.0 220.1,415.1 221.1,416.1" fill="none" stroke="#0c4f9b" stroke-width="1.5" stroke-linejoin="round" stroke-dasharray="1.6 1.4"/>
<polyline points="221.1,414.5 221.6,415.6 222.1,416.1 222.6,419.1 223.1,414.7 223.6,417.9 224.1,416.5 224.6,418.3 225.1,416.9 225.6,419.5 226.1,419.7 226.6,420.3 227.1,422.6 227.6,422.7 228.1,422.1 228.6,422.4 229.1,424.9 229.6,418.0 230.1,425.8 230.6,424.5 231.1,418.8 231.6,426.1 232.1,422.9 232.6,423.5 233.1,425.9 233.6,429.7 234.1,430.4 234.6,426.3 235.1,425.6 235.6,433.6 236.1,426.9 236.6,429.4 237.1,425.5 237.6,427.7 238.1,430.9 238.6,430.1 239.1,429.0 239.6,425.8 240.1,422.1 240.6,429.0 241.1,430.0 241.6,428.5 242.1,430.8 242.6,429.0 243.1,430.0 243.6,431.4 244.1,434.3 244.6,431.4 245.1,429.4 245.6,432.2 246.1,428.2 246.6,430.0 247.1,433.7 247.6,428.2 248.1,437.9 248.6,430.3 249.1,428.5 249.6,435.4 250.1,435.1 250.6,431.8 251.1,430.5 251.6,433.8 252.1,434.7 252.6,432.7 253.1,435.1 253.6,441.2 254.1,437.2 254.6,436.7 255.1,443.5 255.6,435.6 256.1,440.4 256.6,434.8 257.1,444.5 257.6,441.9 258.1,444.9 258.6,433.7 259.1,434.0 259.6,433.5 260.1,433.6 260.6,435.7 261.1,435.9 261.6,448.1 262.1,438.4 262.6,442.1 263.1,441.5 263.6,446.2 264.1,435.3 264.6,439.9 265.1,448.4 265.6,438.8 266.1,441.5 266.6,446.5 267.1,443.0 267.6,445.6 268.1,456.0 268.6,450.6 269.1,440.2 269.6,441.0 270.1,441.5 270.6,449.3 271.1,446.1 271.6,442.8 272.1,440.1 272.6,447.8 273.1,449.2 273.6,438.5 274.1,443.3 274.6,445.6 275.1,447.7 275.6,447.4 276.1,437.2 276.6,439.7 277.1,446.4 277.6,451.5 278.1,437.2 278.6,437.6 279.1,439.1 279.6,440.7 280.1,457.0 280.6,452.6 281.1,442.2 281.6,446.5 282.1,443.8 282.6,477.7 283.1,449.0 283.6,442.7 284.1,447.7 284.6,445.6 285.1,444.3 285.6,444.5 286.1,440.3 286.6,449.0 287.1,454.5 287.6,447.3 288.1,449.7 288.6,442.3 289.1,452.6 289.6,442.3 290.1,442.7 290.6,443.3 291.1,452.2 291.6,447.5 292.1,453.1 292.6,444.4 293.1,441.8 293.6,456.7 294.1,451.6 294.6,447.6 295.1,449.8 295.6,439.8 296.1,447.6 296.6,445.5 297.1,454.0 297.6,439.7 298.1,446.1 298.6,443.1 299.1,446.6 299.6,463.4 300.1,458.3 300.6,455.7 301.1,467.4 301.6,450.3 302.1,445.0 302.6,445.8 303.1,446.0 303.6,442.7 304.1,446.4 304.6,459.1 305.1,451.6 305.6,439.6 306.1,454.5 306.6,440.9 307.1,439.7 307.6,451.2 308.1,445.8 308.6,457.3 309.1,443.7 309.6,452.6 310.1,456.7 310.6,450.1 311.1,450.6 311.6,451.5 312.1,446.8 312.6,448.9 313.1,452.1 313.6,443.1 314.1,437.1 314.6,447.7 315.1,452.5 315.6,454.6 316.1,445.0 316.6,449.7 317.1,448.1 317.6,464.0 318.1,455.9 318.6,456.1 319.1,443.4 319.6,449.9 320.1,470.4 320.6,445.7 321.1,442.5 321.6,441.8 322.1,475.7 322.6,447.5 323.1,444.1 323.6,445.1 324.1,449.8 324.6,462.2 325.1,451.1 325.6,450.4 326.1,445.3 326.6,445.0 327.1,449.9 327.6,444.0 328.1,455.6 328.6,452.9 329.1,448.7 329.6,445.4 330.1,450.5 330.6,442.3 331.1,446.4 331.6,455.0 332.1,448.2 332.6,454.6 333.1,455.2 333.6,459.1 334.1,441.8 334.6,444.1 335.1,460.9 335.6,443.2 336.1,444.0 336.6,451.3 337.1,446.3 337.6,438.6 338.1,447.5 338.6,446.8 339.1,443.4 339.6,456.2 340.1,458.1 340.6,459.4 341.1,449.7 341.6,444.7 342.1,455.0 342.6,459.2 343.1,456.7 343.6,451.6 344.1,446.0 344.6,450.0 345.1,450.4 345.6,449.8 346.1,449.1 346.6,455.7 347.1,457.0 347.6,441.6 348.1,436.0 348.6,443.7 349.1,461.5 349.6,449.2 350.1,443.4 350.6,461.4 351.1,452.5 351.6,452.0 352.1,455.5 352.6,454.9 353.1,444.3 353.6,452.3 354.1,450.9 354.6,441.3 355.1,455.1 355.6,464.5 356.1,446.2 356.6,440.2 357.1,448.5 357.6,448.0 358.1,458.6 358.6,455.9 359.1,442.5 359.6,443.4 360.1,446.6 360.6,453.8 361.1,457.9 361.6,456.8 362.1,457.8 362.6,446.6 363.1,455.0 363.6,453.0 364.1,446.3 364.6,446.4 365.1,449.8 365.6,447.5 366.1,450.1 366.6,465.2 367.1,450.6 367.6,452.7 368.1,452.3 368.6,448.8 369.1,453.7 369.6,444.0 370.1,451.2 370.6,449.3 371.1,448.4 371.6,451.2 372.1,446.7 372.6,446.2 373.1,446.8 373.6,454.6 374.1,456.0 374.6,453.9 375.1,450.2 375.6,464.4 376.1,455.6 376.6,457.9 377.1,454.4 377.6,456.1 378.1,446.0 378.6,447.8 379.1,445.3 379.6,456.5 380.1,455.0 380.6,451.8 381.1,442.2 381.6,442.1 382.1,479.6 382.6,446.7 383.1,440.2 383.6,456.4 384.1,450.9 384.6,443.5 385.1,446.0 385.6,455.9 386.1,442.5 386.6,444.7 387.1,446.0 387.6,457.4 388.1,450.3 388.6,443.1 389.1,446.8 389.6,445.3 390.1,450.6 390.6,442.2 391.1,450.3 391.6,444.5 392.1,447.2 392.6,454.4 393.1,442.0 393.6,456.2 394.1,452.6 394.6,447.6 395.1,456.8 395.6,459.8 396.1,448.6 396.6,450.2 397.1,449.2 397.6,445.3 398.1,438.3 398.6,449.5 399.1,437.5 399.6,445.9 400.1,447.4 400.6,465.5 401.1,455.3 401.6,445.2 402.1,443.7 402.6,450.2 403.1,444.4 403.6,441.8 404.1,448.0 404.6,453.8 405.1,449.7 405.6,446.0 406.1,443.1 406.6,440.9 407.1,448.1 407.6,443.3 408.1,444.3 408.6,442.7 409.1,438.4 409.6,437.5 410.1,443.8 410.6,444.0 411.1,444.0 411.6,442.9 412.1,442.0 412.6,440.7 413.1,441.6 413.6,443.5 414.1,443.4 414.6,438.3 415.1,431.0 415.6,436.0 416.1,435.4 416.6,436.0 417.1,437.3 417.6,430.8 418.1,437.3 418.6,439.3 419.1,439.9 419.6,435.0 420.1,438.6 420.6,438.0 421.1,437.9 421.6,439.4 422.1,434.5 422.6,440.7 423.1,429.0 423.6,445.4 424.1,439.9 424.6,435.2 425.1,434.3 425.6,436.8 426.1,435.1 426.6,435.7 427.1,436.1 427.6,435.1 428.1,436.4 428.6,437.9 429.1,438.4 429.6,435.5 430.1,439.3 430.6,437.2 431.1,434.6 431.6,438.6 432.1,436.4 432.6,442.4 433.1,440.2 433.6,439.7 434.1,441.1 434.6,440.6 435.1,437.9 435.6,444.5 436.1,446.4 436.6,442.7 437.1,451.2 437.6,444.8 438.1,440.5 438.6,445.5 439.1,443.5 439.6,444.5 440.1,441.6 440.6,444.6 441.1,446.1 441.6,471.3 442.1,450.1 442.6,444.8 443.1,448.8 443.6,452.2 444.1,444.7 444.6,453.6 445.1,450.9 445.6,446.3 446.1,452.3 446.6,449.0 447.1,450.2 447.6,457.2 448.1,453.3 448.6,452.6 449.1,454.5 449.6,446.1 450.1,451.4 450.6,455.0 451.1,460.3 451.6,453.6 452.1,445.9 452.6,453.8 453.1,448.6 453.6,450.1 454.1,455.5 454.6,468.5 455.1,450.1 455.6,464.5 456.1,450.2 456.6,460.7 457.1,449.0 457.6,455.6 458.1,454.0 458.6,448.4 459.1,460.0 459.6,453.5 460.1,455.7 460.6,451.3 461.1,450.3 461.6,452.6 462.1,453.1 462.6,456.7 463.1,451.2 463.6,455.8 464.1,453.8 464.6,453.6 465.1,464.0 465.6,462.2 466.1,453.6 466.6,455.0 467.1,448.7 467.6,475.9 468.1,453.9 468.6,449.6 469.1,454.7 469.6,451.2 470.1,455.2 470.6,455.7 471.1,450.8 471.6,464.4 472.1,474.2 472.6,453.1 473.1,455.0 473.6,455.1 474.1,454.2 474.6,452.5 475.1,458.8 475.6,453.4 476.1,454.3 476.6,463.9 477.1,457.0 477.6,465.6 478.1,461.3 478.6,450.9 479.1,458.2 479.6,452.1 480.1,449.2 480.6,467.2 481.1,465.9 481.6,453.3 482.1,457.7 482.6,453.8 483.1,448.3 483.6,459.7 484.1,452.2 484.6,458.3 485.1,460.9 485.6,454.3 486.1,455.4 486.6,451.4 487.1,455.2 487.6,452.4 488.1,454.2 488.6,470.1 489.1,459.4 489.6,459.1 490.1,452.5 490.6,464.4 491.1,456.2 491.6,459.9 492.1,471.6 492.6,458.3 493.1,453.9 493.6,459.7 494.1,452.6 494.6,455.4 495.1,455.8 495.6,460.8 496.1,458.6 496.6,455.1 497.1,457.6 497.6,466.5 498.1,458.9 498.6,455.6 499.1,452.0 499.6,453.4 500.1,464.6 500.6,454.2 501.1,470.2 501.6,462.3 502.1,463.5 502.6,450.5 503.1,454.4 503.6,456.5 504.1,462.2 504.6,451.8 505.1,459.8 505.6,455.7 506.1,452.6 506.6,460.2 507.1,455.4 507.6,474.8 508.1,455.3 508.6,500.2 509.1,456.2 509.6,456.9 510.1,455.9 510.6,447.8 511.1,482.1 511.6,456.1 512.1,461.2 512.6,454.6 513.1,457.0 513.6,458.2 514.1,462.0 514.6,463.5 515.1,456.9 515.6,470.3 516.1,453.3 516.6,462.7 517.1,456.4 517.6,467.4 518.1,456.5 518.6,460.5 519.1,454.9 519.6,452.8 520.1,462.6 520.6,458.6 521.1,457.8 521.6,451.8 522.1,468.7 522.6,456.0 523.1,459.4 523.6,467.9 524.1,461.4 524.6,463.8 525.1,453.6 525.6,465.9 526.1,454.1 526.6,462.4 527.1,455.8 527.6,472.9 528.1,464.6 528.6,458.7 529.1,465.9 529.6,471.5 530.1,459.6 530.6,455.5 531.1,459.7 531.6,461.1 532.1,457.5 532.6,462.5 533.1,454.9 533.6,454.1 534.1,469.1 534.6,454.4 535.1,456.2 535.6,458.3 536.1,456.2 536.6,452.8 537.1,450.7 537.6,452.0 538.1,461.6 538.6,453.2 539.1,473.1 539.6,455.3 540.1,456.3 540.6,455.0 541.1,466.3 541.6,452.9 542.1,453.7 542.6,459.1 543.1,470.8 543.6,458.5 544.1,466.1 544.6,472.3 545.1,465.2 545.6,449.5 546.1,471.6 546.6,462.8 547.1,459.6 547.6,455.7 548.1,467.7 548.6,467.7 549.1,456.1 549.6,459.4 550.1,454.5 550.6,469.4 551.1,461.7 551.6,456.0 552.1,460.3 552.6,469.1 553.1,460.4 553.6,476.8 554.1,466.3 554.6,456.9 555.1,456.3 555.6,458.8 556.1,457.3 556.6,472.8 557.1,465.5 557.6,455.6 558.1,450.2 558.6,458.6 559.1,467.6 559.6,467.9 560.1,454.8 560.6,455.4 561.1,470.0 561.6,460.4 562.1,454.0 562.6,453.9 563.1,464.6 563.6,462.3 564.1,458.5 564.6,469.0 565.1,474.1 565.6,465.8 566.1,454.8 566.6,455.4 567.1,458.5 567.6,469.8 568.1,478.0 568.6,468.7 569.1,461.1 569.6,455.8 570.1,467.6 570.6,461.0 571.1,476.4 571.6,480.5 572.1,461.6 572.6,470.5 573.1,469.2 573.6,483.2 574.1,457.2 574.6,477.0 575.1,485.7 575.6,473.9 576.1,464.5 576.6,482.3 577.1,460.5 577.6,461.3 578.1,456.9 578.6,458.9 579.1,454.5 579.6,473.6 580.1,454.7 580.6,461.5 581.1,469.6 581.6,458.4 582.1,458.8 582.6,462.0 583.1,457.0 583.6,472.0 584.1,475.5 584.6,465.9 585.1,455.8 585.6,458.7 586.1,461.8 586.6,466.1 587.1,461.8 587.6,455.4 588.1,465.5 588.6,465.7 589.1,459.1 589.6,457.9 590.1,460.8 590.6,454.1 591.1,460.3 591.6,468.5 592.1,481.7 592.6,455.2 593.1,462.5 593.6,459.5 594.1,458.8 594.6,454.3 595.1,455.7 595.6,455.9 596.1,459.6 596.6,462.6 597.1,459.6 597.6,466.7 598.1,459.0 598.6,455.4 599.1,457.1 599.6,460.2 600.1,467.1 600.6,467.2 601.1,466.0 601.6,463.7 602.1,458.6 602.6,458.3 603.1,457.9 603.6,455.7 604.1,467.9 604.6,462.5 605.1,458.1 605.6,456.8 606.1,465.6 606.6,465.8 607.1,455.1 607.6,457.3 608.1,458.6 608.6,462.9 609.1,467.8 609.6,461.3 610.1,459.3 610.6,458.3 611.1,456.4 611.6,460.5 612.1,454.6 612.6,463.3 613.1,459.2 613.6,460.8 614.1,475.6 614.6,470.8 615.1,464.6 615.6,460.3 616.1,485.6 616.6,454.5 617.1,461.3 617.6,463.3 618.1,459.4 618.6,470.1 619.1,462.4 619.6,468.4 620.1,460.9 620.6,466.0 621.1,464.0 621.6,451.9 622.1,455.4 622.6,449.6 623.1,460.2 623.6,462.5 624.1,466.7 624.6,461.6 625.1,475.6 625.6,460.8 626.1,465.1 626.6,471.4 627.1,476.2 627.6,467.7 628.1,464.0 628.6,461.6 629.1,474.4 629.6,461.7 630.1,459.6 630.6,450.7 631.1,459.3 631.6,456.4 632.1,466.2 632.6,461.4 633.1,466.3 633.6,467.1 634.1,458.5 634.6,462.8 635.1,453.8 635.6,461.5 636.1,458.9 636.6,470.2 637.1,468.4 637.6,457.6 638.1,465.9 638.6,454.6 639.1,467.0 639.6,467.5 640.1,451.8 640.6,475.0 641.1,464.7 641.6,458.3 642.1,457.9 642.6,489.8 643.1,450.9 643.6,464.3 644.1,477.5 644.6,456.3 645.1,464.4 645.6,460.9 646.1,457.0 646.6,467.6 647.1,466.2 647.6,461.9 648.1,467.5 648.6,471.1 649.1,453.8 649.6,459.2 650.1,469.4 650.6,461.1 651.1,458.1 651.6,454.8 652.1,456.6 652.6,455.3 653.1,462.2 653.6,457.2 654.1,488.8 654.6,455.8 655.1,461.6 655.6,453.2 656.1,465.2 656.6,464.4 657.1,461.0 657.6,456.8 658.1,459.4 658.6,455.7 659.1,461.0 659.6,455.6 660.1,448.4 660.6,454.7 661.1,457.7 661.6,472.4 662.1,457.7 662.6,455.4 663.1,462.3 663.6,455.6 664.1,480.8 664.6,465.8 665.1,467.7 665.6,458.2 666.1,466.7 666.6,467.9 667.1,453.6 667.6,472.3 668.1,458.3 668.6,455.3 669.1,462.9 669.6,467.5 670.1,462.4 670.6,465.1 671.1,466.7 671.6,459.9 672.1,461.5 672.6,447.3 673.1,482.4 673.6,460.1 674.1,458.0 674.6,452.7 675.1,454.9 675.6,460.9 676.1,466.5 676.6,452.3 677.1,461.2 677.6,459.7 678.1,454.1 678.6,460.0 679.1,454.3 679.6,463.0 680.1,460.0" fill="none" stroke="#0c4f9b" stroke-width="0.9" stroke-linejoin="round"/>
<polyline points="385.0,449.7 386.0,449.6 387.0,449.5 388.0,449.4 389.0,449.3 390.0,449.1 391.0,449.0 392.0,448.8 393.0,448.7 394.0,448.5 395.0,448.2 396.0,448.0 397.0,447.8 398.0,447.5 399.0,447.2 400.0,446.9 401.0,446.5 402.0,446.1 403.0,445.7 404.0,445.2 405.0,444.8 406.0,444.2 407.0,443.7 408.0,443.1 409.0,442.4 410.0,441.8 411.0,441.1 412.0,440.3 413.0,439.6 414.0,438.9 415.0,438.1 416.0,437.4 417.0,436.8 418.0,436.2 419.0,435.7 420.0,435.3 421.0,435.0 422.0,434.9 423.0,434.9 424.0,435.1 425.0,435.4 426.0,435.9 427.0,436.4 428.0,437.1 429.0,437.8 430.0,438.6 431.0,439.4 432.0,440.3 433.0,441.1 434.0,441.9 435.0,442.8 436.0,443.5 437.0,444.3 438.0,445.0 439.0,445.7 440.0,446.3 441.0,446.9 442.0,447.5 443.0,448.1 444.0,448.6 445.0,449.0 446.0,449.5 447.0,449.9 448.0,450.3 449.0,450.6 450.0,451.0 451.0,451.3 452.0,451.6 453.0,451.9 454.0,452.2 455.0,452.4 456.0,452.7 457.0,452.9 458.0,453.1 459.0,453.3 460.0,453.5 461.0,453.7 462.0,453.9 463.0,454.1 464.0,454.3 465.0,454.4 466.0,454.6" fill="none" stroke="#0c2448" stroke-width="2.6" stroke-linejoin="round" stroke-linecap="round"/>
</g>
<line x1="140.00" y1="56.80" x2="140.00" y2="493.60" stroke="#000" stroke-width="2.6"/>
<line x1="129.50" y1="492.30" x2="683.60" y2="492.30" stroke="#000" stroke-width="2.6"/>
<line x1="129.50" y1="57.30" x2="140.00" y2="57.30" stroke="#000" stroke-width="2.4"/>
<line x1="134.50" y1="95.31" x2="140.00" y2="95.31" stroke="#000" stroke-width="1.8"/>
<line x1="134.50" y1="85.73" x2="140.00" y2="85.73" stroke="#000" stroke-width="1.8"/>
<line x1="134.50" y1="78.94" x2="140.00" y2="78.94" stroke="#000" stroke-width="1.8"/>
<line x1="134.50" y1="73.67" x2="140.00" y2="73.67" stroke="#000" stroke-width="1.8"/>
<line x1="134.50" y1="69.36" x2="140.00" y2="69.36" stroke="#000" stroke-width="1.8"/>
<line x1="134.50" y1="65.72" x2="140.00" y2="65.72" stroke="#000" stroke-width="1.8"/>
<line x1="134.50" y1="62.57" x2="140.00" y2="62.57" stroke="#000" stroke-width="1.8"/>
<line x1="134.50" y1="59.79" x2="140.00" y2="59.79" stroke="#000" stroke-width="1.8"/>
<line x1="129.50" y1="111.67" x2="140.00" y2="111.67" stroke="#000" stroke-width="2.4"/>
<line x1="134.50" y1="149.68" x2="140.00" y2="149.68" stroke="#000" stroke-width="1.8"/>
<line x1="134.50" y1="140.11" x2="140.00" y2="140.11" stroke="#000" stroke-width="1.8"/>
<line x1="134.50" y1="133.31" x2="140.00" y2="133.31" stroke="#000" stroke-width="1.8"/>
<line x1="134.50" y1="128.04" x2="140.00" y2="128.04" stroke="#000" stroke-width="1.8"/>
<line x1="134.50" y1="123.74" x2="140.00" y2="123.74" stroke="#000" stroke-width="1.8"/>
<line x1="134.50" y1="120.10" x2="140.00" y2="120.10" stroke="#000" stroke-width="1.8"/>
<line x1="134.50" y1="116.94" x2="140.00" y2="116.94" stroke="#000" stroke-width="1.8"/>
<line x1="134.50" y1="114.16" x2="140.00" y2="114.16" stroke="#000" stroke-width="1.8"/>
<line x1="129.50" y1="166.05" x2="140.00" y2="166.05" stroke="#000" stroke-width="2.4"/>
<line x1="134.50" y1="204.06" x2="140.00" y2="204.06" stroke="#000" stroke-width="1.8"/>
<line x1="134.50" y1="194.48" x2="140.00" y2="194.48" stroke="#000" stroke-width="1.8"/>
<line x1="134.50" y1="187.69" x2="140.00" y2="187.69" stroke="#000" stroke-width="1.8"/>
<line x1="134.50" y1="182.42" x2="140.00" y2="182.42" stroke="#000" stroke-width="1.8"/>
<line x1="134.50" y1="178.11" x2="140.00" y2="178.11" stroke="#000" stroke-width="1.8"/>
<line x1="134.50" y1="174.47" x2="140.00" y2="174.47" stroke="#000" stroke-width="1.8"/>
<line x1="134.50" y1="171.32" x2="140.00" y2="171.32" stroke="#000" stroke-width="1.8"/>
<line x1="134.50" y1="168.54" x2="140.00" y2="168.54" stroke="#000" stroke-width="1.8"/>
<line x1="129.50" y1="220.43" x2="140.00" y2="220.43" stroke="#000" stroke-width="2.4"/>
<line x1="134.50" y1="258.43" x2="140.00" y2="258.43" stroke="#000" stroke-width="1.8"/>
<line x1="134.50" y1="248.86" x2="140.00" y2="248.86" stroke="#000" stroke-width="1.8"/>
<line x1="134.50" y1="242.06" x2="140.00" y2="242.06" stroke="#000" stroke-width="1.8"/>
<line x1="134.50" y1="236.79" x2="140.00" y2="236.79" stroke="#000" stroke-width="1.8"/>
<line x1="134.50" y1="232.49" x2="140.00" y2="232.49" stroke="#000" stroke-width="1.8"/>
<line x1="134.50" y1="228.85" x2="140.00" y2="228.85" stroke="#000" stroke-width="1.8"/>
<line x1="134.50" y1="225.69" x2="140.00" y2="225.69" stroke="#000" stroke-width="1.8"/>
<line x1="134.50" y1="222.91" x2="140.00" y2="222.91" stroke="#000" stroke-width="1.8"/>
<line x1="129.50" y1="274.80" x2="140.00" y2="274.80" stroke="#000" stroke-width="2.4"/>
<line x1="134.50" y1="312.81" x2="140.00" y2="312.81" stroke="#000" stroke-width="1.8"/>
<line x1="134.50" y1="303.23" x2="140.00" y2="303.23" stroke="#000" stroke-width="1.8"/>
<line x1="134.50" y1="296.44" x2="140.00" y2="296.44" stroke="#000" stroke-width="1.8"/>
<line x1="134.50" y1="291.17" x2="140.00" y2="291.17" stroke="#000" stroke-width="1.8"/>
<line x1="134.50" y1="286.86" x2="140.00" y2="286.86" stroke="#000" stroke-width="1.8"/>
<line x1="134.50" y1="283.22" x2="140.00" y2="283.22" stroke="#000" stroke-width="1.8"/>
<line x1="134.50" y1="280.07" x2="140.00" y2="280.07" stroke="#000" stroke-width="1.8"/>
<line x1="134.50" y1="277.29" x2="140.00" y2="277.29" stroke="#000" stroke-width="1.8"/>
<line x1="129.50" y1="329.18" x2="140.00" y2="329.18" stroke="#000" stroke-width="2.4"/>
<line x1="134.50" y1="367.18" x2="140.00" y2="367.18" stroke="#000" stroke-width="1.8"/>
<line x1="134.50" y1="357.61" x2="140.00" y2="357.61" stroke="#000" stroke-width="1.8"/>
<line x1="134.50" y1="350.81" x2="140.00" y2="350.81" stroke="#000" stroke-width="1.8"/>
<line x1="134.50" y1="345.54" x2="140.00" y2="345.54" stroke="#000" stroke-width="1.8"/>
<line x1="134.50" y1="341.24" x2="140.00" y2="341.24" stroke="#000" stroke-width="1.8"/>
<line x1="134.50" y1="337.60" x2="140.00" y2="337.60" stroke="#000" stroke-width="1.8"/>
<line x1="134.50" y1="334.44" x2="140.00" y2="334.44" stroke="#000" stroke-width="1.8"/>
<line x1="134.50" y1="331.66" x2="140.00" y2="331.66" stroke="#000" stroke-width="1.8"/>
<line x1="129.50" y1="383.55" x2="140.00" y2="383.55" stroke="#000" stroke-width="2.4"/>
<line x1="134.50" y1="421.56" x2="140.00" y2="421.56" stroke="#000" stroke-width="1.8"/>
<line x1="134.50" y1="411.98" x2="140.00" y2="411.98" stroke="#000" stroke-width="1.8"/>
<line x1="134.50" y1="405.19" x2="140.00" y2="405.19" stroke="#000" stroke-width="1.8"/>
<line x1="134.50" y1="399.92" x2="140.00" y2="399.92" stroke="#000" stroke-width="1.8"/>
<line x1="134.50" y1="395.61" x2="140.00" y2="395.61" stroke="#000" stroke-width="1.8"/>
<line x1="134.50" y1="391.97" x2="140.00" y2="391.97" stroke="#000" stroke-width="1.8"/>
<line x1="134.50" y1="388.82" x2="140.00" y2="388.82" stroke="#000" stroke-width="1.8"/>
<line x1="134.50" y1="386.04" x2="140.00" y2="386.04" stroke="#000" stroke-width="1.8"/>
<line x1="129.50" y1="437.93" x2="140.00" y2="437.93" stroke="#000" stroke-width="2.4"/>
<line x1="134.50" y1="475.93" x2="140.00" y2="475.93" stroke="#000" stroke-width="1.8"/>
<line x1="134.50" y1="466.36" x2="140.00" y2="466.36" stroke="#000" stroke-width="1.8"/>
<line x1="134.50" y1="459.56" x2="140.00" y2="459.56" stroke="#000" stroke-width="1.8"/>
<line x1="134.50" y1="454.29" x2="140.00" y2="454.29" stroke="#000" stroke-width="1.8"/>
<line x1="134.50" y1="449.99" x2="140.00" y2="449.99" stroke="#000" stroke-width="1.8"/>
<line x1="134.50" y1="446.35" x2="140.00" y2="446.35" stroke="#000" stroke-width="1.8"/>
<line x1="134.50" y1="443.19" x2="140.00" y2="443.19" stroke="#000" stroke-width="1.8"/>
<line x1="134.50" y1="440.41" x2="140.00" y2="440.41" stroke="#000" stroke-width="1.8"/>
<line x1="129.50" y1="492.30" x2="140.00" y2="492.30" stroke="#000" stroke-width="2.4"/>
<line x1="140.00" y1="492.30" x2="140.00" y2="502.80" stroke="#000" stroke-width="2.4"/>
<line x1="167.18" y1="492.30" x2="167.18" y2="497.80" stroke="#000" stroke-width="1.8"/>
<line x1="194.36" y1="492.30" x2="194.36" y2="497.80" stroke="#000" stroke-width="1.8"/>
<line x1="221.54" y1="492.30" x2="221.54" y2="497.80" stroke="#000" stroke-width="1.8"/>
<line x1="248.72" y1="492.30" x2="248.72" y2="497.80" stroke="#000" stroke-width="1.8"/>
<line x1="275.90" y1="492.30" x2="275.90" y2="502.80" stroke="#000" stroke-width="2.4"/>
<line x1="303.08" y1="492.30" x2="303.08" y2="497.80" stroke="#000" stroke-width="1.8"/>
<line x1="330.26" y1="492.30" x2="330.26" y2="497.80" stroke="#000" stroke-width="1.8"/>
<line x1="357.44" y1="492.30" x2="357.44" y2="497.80" stroke="#000" stroke-width="1.8"/>
<line x1="384.62" y1="492.30" x2="384.62" y2="497.80" stroke="#000" stroke-width="1.8"/>
<line x1="411.80" y1="492.30" x2="411.80" y2="502.80" stroke="#000" stroke-width="2.4"/>
<line x1="438.98" y1="492.30" x2="438.98" y2="497.80" stroke="#000" stroke-width="1.8"/>
<line x1="466.16" y1="492.30" x2="466.16" y2="497.80" stroke="#000" stroke-width="1.8"/>
<line x1="493.34" y1="492.30" x2="493.34" y2="497.80" stroke="#000" stroke-width="1.8"/>
<line x1="520.52" y1="492.30" x2="520.52" y2="497.80" stroke="#000" stroke-width="1.8"/>
<line x1="547.70" y1="492.30" x2="547.70" y2="502.80" stroke="#000" stroke-width="2.4"/>
<line x1="574.88" y1="492.30" x2="574.88" y2="497.80" stroke="#000" stroke-width="1.8"/>
<line x1="602.06" y1="492.30" x2="602.06" y2="497.80" stroke="#000" stroke-width="1.8"/>
<line x1="629.24" y1="492.30" x2="629.24" y2="497.80" stroke="#000" stroke-width="1.8"/>
<line x1="656.42" y1="492.30" x2="656.42" y2="497.80" stroke="#000" stroke-width="1.8"/>
<line x1="683.60" y1="492.30" x2="683.60" y2="502.80" stroke="#000" stroke-width="2.4"/>
<text x="140.00" y="527.00" font-size="22.7" text-anchor="middle" fill="#000" color="#000">0.0</text>
<text x="275.90" y="527.00" font-size="22.7" text-anchor="middle" fill="#000" color="#000">0.5</text>
<text x="411.80" y="527.00" font-size="22.7" text-anchor="middle" fill="#000" color="#000">1.0</text>
<text x="547.70" y="527.00" font-size="22.7" text-anchor="middle" fill="#000" color="#000">1.5</text>
<text x="683.60" y="527.00" font-size="22.7" text-anchor="middle" fill="#000" color="#000">2.0</text>
<line x1="683.60" y1="56.70" x2="683.60" y2="170.00" stroke="#000" stroke-width="2.2"/>
<rect x="679.6" y="169.3" width="5.0" height="11.2" fill="#5e0b12"/>
<rect x="679.6" y="180.2" width="5.0" height="28.4" fill="#8e1016"/>
<rect x="679.6" y="208.3" width="5.0" height="19.0" fill="#b3171d"/>
<rect x="679.6" y="227" width="5.0" height="20.5" fill="#d2321f"/>
<rect x="679.6" y="247.2" width="5.0" height="20.6" fill="#e4583a"/>
<rect x="679.6" y="267.5" width="5.0" height="17.4" fill="#ee8062"/>
<rect x="679.6" y="284.6" width="5.0" height="19.0" fill="#f3a487"/>
<rect x="679.6" y="303.3" width="5.0" height="19.0" fill="#f6c6b0"/>
<rect x="679.6" y="322" width="5.0" height="18.5" fill="#dfe3ea"/>
<rect x="679.6" y="340.2" width="5.0" height="19.1" fill="#b2cbe3"/>
<rect x="679.6" y="359" width="5.0" height="20.5" fill="#86b0d6"/>
<rect x="679.6" y="379.2" width="5.0" height="19.0" fill="#5e93c6"/>
<rect x="679.6" y="397.9" width="5.0" height="22.1" fill="#3b76b2"/>
<rect x="679.6" y="419.7" width="5.0" height="19.0" fill="#225a9e"/>
<rect x="679.6" y="438.4" width="5.0" height="18.9" fill="#134283"/>
<rect x="679.6" y="457" width="5.0" height="19.7" fill="#0b2d69"/>
<line x1="679.80" y1="169.50" x2="679.80" y2="476.40" stroke="#666" stroke-width="0.7"/>
<line x1="684.60" y1="169.50" x2="684.60" y2="476.40" stroke="#000" stroke-width="1.2"/>
<line x1="683.80" y1="476.00" x2="683.80" y2="493.00" stroke="#000" stroke-width="2.2"/>
<line x1="684.60" y1="197.90" x2="695.20" y2="197.90" stroke="#000" stroke-width="1.4"/>
<text x="705.50" y="204.00" font-size="22.7" text-anchor="start" fill="#8e1016" color="#8e1016">63</text>
<line x1="684.60" y1="253.10" x2="695.20" y2="253.10" stroke="#000" stroke-width="1.4"/>
<text x="708.00" y="264.20" font-size="22.7" text-anchor="start" fill="#bf1a1e" color="#bf1a1e">55</text>
<line x1="684.60" y1="310.20" x2="695.20" y2="310.20" stroke="#000" stroke-width="1.4"/>
<text x="709.20" y="315.30" font-size="22.7" text-anchor="start" fill="#f7bca3" color="#f7bca3">47</text>
<line x1="684.60" y1="365.00" x2="695.20" y2="365.00" stroke="#000" stroke-width="1.4"/>
<text x="706.10" y="371.60" font-size="22.7" text-anchor="start" fill="#78a6e6" color="#78a6e6">42</text>
<line x1="684.60" y1="420.20" x2="695.20" y2="420.20" stroke="#000" stroke-width="1.4"/>
<text x="705.50" y="430.00" font-size="22.7" text-anchor="start" fill="#5794e4" color="#5794e4">38</text>
<line x1="684.60" y1="476.20" x2="695.20" y2="476.20" stroke="#000" stroke-width="1.4"/>
<text x="705.50" y="485.90" font-size="22.7" text-anchor="start" fill="#1b469a" color="#1b469a">32</text>
<text class="t" x="775.20" y="274.30" font-size="28.2" text-anchor="middle" fill="#000" color="#000" transform="rotate(-90 775.20 274.30)">Elution time [min]</text>
<text class="t" x="72.90" y="273.70" font-size="28.2" text-anchor="middle" fill="#000" color="#000" transform="rotate(-90 72.90 273.70)">Intensity [a.u.]</text>
<text class="t" color="#000" x="364.3" y="574.2" font-size="26.8" textLength="69.5" lengthAdjust="spacing">q [nm</text>
<text x="435.3" y="562.6" font-size="17.5">-1</text>
<text class="t" color="#000" x="451.2" y="574.2" font-size="26.8">]</text>
<line x1="200.00" y1="955.00" x2="200.00" y2="969.00" stroke="#474747" stroke-width="1.3"/>
<line x1="195.00" y1="955.00" x2="205.00" y2="955.00" stroke="#474747" stroke-width="1.3"/>
<line x1="195.00" y1="969.00" x2="205.00" y2="969.00" stroke="#474747" stroke-width="1.3"/>
<line x1="226.40" y1="940.00" x2="226.40" y2="955.50" stroke="#474747" stroke-width="1.3"/>
<line x1="221.40" y1="940.00" x2="231.40" y2="940.00" stroke="#474747" stroke-width="1.3"/>
<line x1="221.40" y1="955.50" x2="231.40" y2="955.50" stroke="#474747" stroke-width="1.3"/>
<rect x="194.2" y="956.3" width="11.6" height="11.6" fill="#474747"/>
<rect x="220.6" y="942.0" width="11.6" height="11.6" fill="#474747"/>
<rect x="240.4" y="905.6" width="11.6" height="11.6" fill="#474747"/>
<rect x="262.6" y="856.6" width="11.6" height="11.6" fill="#474747"/>
<rect x="283.8" y="797.0" width="11.6" height="11.6" fill="#474747"/>
<rect x="304.8" y="743.3" width="11.6" height="11.6" fill="#474747"/>
<rect x="326.5" y="687.4" width="11.6" height="11.6" fill="#474747"/>
<rect x="347.6" y="632.0" width="11.6" height="11.6" fill="#474747"/>
<rect x="368.7" y="606.1" width="11.6" height="11.6" fill="#474747"/>
<rect x="389.7" y="606.1" width="11.6" height="11.6" fill="#474747"/>
<rect x="411.9" y="617.9" width="11.6" height="11.6" fill="#474747"/>
<rect x="431.7" y="654.7" width="11.6" height="11.6" fill="#474747"/>
<rect x="453.8" y="704.1" width="11.6" height="11.6" fill="#474747"/>
<rect x="476.2" y="748.0" width="11.6" height="11.6" fill="#474747"/>
<rect x="496.0" y="795.8" width="11.6" height="11.6" fill="#474747"/>
<rect x="518.4" y="843.6" width="11.6" height="11.6" fill="#474747"/>
<rect x="538.9" y="875.6" width="11.6" height="11.6" fill="#474747"/>
<rect x="560.3" y="905.3" width="11.6" height="11.6" fill="#474747"/>
<rect x="581.4" y="926.1" width="11.6" height="11.6" fill="#474747"/>
<rect x="603.2" y="948.5" width="11.6" height="11.6" fill="#474747"/>
<rect x="624.3" y="960.7" width="11.6" height="11.6" fill="#474747"/>
<line x1="194.30" y1="881.00" x2="204.30" y2="881.00" stroke="#1f6cd8" stroke-width="1.1" opacity="0.5"/>
<line x1="224.90" y1="866.40" x2="224.90" y2="885.20" stroke="#1f6cd8" stroke-width="1.3"/>
<line x1="219.90" y1="866.40" x2="229.90" y2="866.40" stroke="#1f6cd8" stroke-width="1.3"/>
<line x1="219.90" y1="885.20" x2="229.90" y2="885.20" stroke="#1f6cd8" stroke-width="1.3"/>
<line x1="245.60" y1="840.50" x2="245.60" y2="852.00" stroke="#1f6cd8" stroke-width="1.2"/>
<line x1="240.60" y1="840.50" x2="250.60" y2="840.50" stroke="#1f6cd8" stroke-width="1.2"/>
<line x1="240.60" y1="852.00" x2="250.60" y2="852.00" stroke="#1f6cd8" stroke-width="1.2"/>
<line x1="608.00" y1="669.70" x2="608.00" y2="699.40" stroke="#1f6cd8" stroke-width="1.3"/>
<line x1="602.00" y1="669.70" x2="614.00" y2="669.70" stroke="#1f6cd8" stroke-width="1.3"/>
<line x1="602.00" y1="699.40" x2="614.00" y2="699.40" stroke="#1f6cd8" stroke-width="1.3"/>
<line x1="628.80" y1="684.50" x2="628.80" y2="720.80" stroke="#1f6cd8" stroke-width="1.0" opacity="0.5"/>
<polygon points="191.3,905.0 207.3,905.0 199.3,891.5" fill="#1f6cd8"/>
<polygon points="216.9,882.2 232.9,882.2 224.9,868.7" fill="#1f6cd8"/>
<polygon points="237.6,853.3 253.6,853.3 245.6,839.8" fill="#1f6cd8"/>
<polygon points="258.9,835.7 274.9,835.7 266.9,822.2" fill="#1f6cd8"/>
<polygon points="280.8,818.4 296.8,818.4 288.8,804.9" fill="#1f6cd8"/>
<polygon points="301.4,800.1 317.4,800.1 309.4,786.6" fill="#1f6cd8"/>
<polygon points="322.9,783.3 338.9,783.3 330.9,769.8" fill="#1f6cd8"/>
<polygon points="344.4,766.3 360.4,766.3 352.4,752.8" fill="#1f6cd8"/>
<polygon points="364.8,754.5 380.8,754.5 372.8,741.0" fill="#1f6cd8"/>
<polygon points="386.5,741.3 402.5,741.3 394.5,727.8" fill="#1f6cd8"/>
<polygon points="408.4,733.7 424.4,733.7 416.4,720.2" fill="#1f6cd8"/>
<polygon points="429.2,724.2 445.2,724.2 437.2,710.7" fill="#1f6cd8"/>
<polygon points="450.9,714.3 466.9,714.3 458.9,700.8" fill="#1f6cd8"/>
<polygon points="472.4,712.7 488.4,712.7 480.4,699.2" fill="#1f6cd8"/>
<polygon points="492.8,707.7 508.8,707.7 500.8,694.2" fill="#1f6cd8"/>
<polygon points="514.9,696.2 530.9,696.2 522.9,682.7" fill="#1f6cd8"/>
<polygon points="536.3,697.2 552.3,697.2 544.3,683.7" fill="#1f6cd8"/>
<polygon points="557.1,705.4 573.1,705.4 565.1,691.9" fill="#1f6cd8"/>
<polygon points="578.6,706.1 594.6,706.1 586.6,692.6" fill="#1f6cd8"/>
<polygon points="600.0,690.2 616.0,690.2 608.0,676.7" fill="#1f6cd8"/>
<polygon points="620.8,709.4 636.8,709.4 628.8,695.9" fill="#1f6cd8"/>
<line x1="199.40" y1="690.70" x2="199.40" y2="943.90" stroke="#72b21f" stroke-width="1.3" opacity="0.8"/>
<line x1="193.40" y1="690.70" x2="205.40" y2="690.70" stroke="#72b21f" stroke-width="1.3" opacity="0.8"/>
<line x1="193.40" y1="943.90" x2="205.40" y2="943.90" stroke="#72b21f" stroke-width="1.3" opacity="0.8"/>
<line x1="224.70" y1="706.30" x2="224.70" y2="822.90" stroke="#72b21f" stroke-width="1.3"/>
<line x1="218.70" y1="706.30" x2="230.70" y2="706.30" stroke="#72b21f" stroke-width="1.3"/>
<line x1="218.70" y1="822.90" x2="230.70" y2="822.90" stroke="#72b21f" stroke-width="1.3"/>
<line x1="240.70" y1="753.30" x2="250.70" y2="753.30" stroke="#72b21f" stroke-width="1.3"/>
<line x1="240.70" y1="808.70" x2="250.70" y2="808.70" stroke="#72b21f" stroke-width="1.3"/>
<line x1="266.80" y1="769.50" x2="266.80" y2="803.40" stroke="#72b21f" stroke-width="1.2"/>
<line x1="261.80" y1="769.50" x2="271.80" y2="769.50" stroke="#72b21f" stroke-width="1.2"/>
<line x1="261.80" y1="803.40" x2="271.80" y2="803.40" stroke="#72b21f" stroke-width="1.2"/>
<line x1="308.70" y1="782.50" x2="308.70" y2="795.60" stroke="#72b21f" stroke-width="1.2"/>
<line x1="303.70" y1="782.50" x2="313.70" y2="782.50" stroke="#72b21f" stroke-width="1.2"/>
<line x1="303.70" y1="795.60" x2="313.70" y2="795.60" stroke="#72b21f" stroke-width="1.2"/>
<line x1="522.90" y1="790.00" x2="522.90" y2="804.00" stroke="#72b21f" stroke-width="1.1"/>
<line x1="517.90" y1="790.00" x2="527.90" y2="790.00" stroke="#72b21f" stroke-width="1.1"/>
<line x1="517.90" y1="804.00" x2="527.90" y2="804.00" stroke="#72b21f" stroke-width="1.1"/>
<line x1="544.30" y1="795.00" x2="544.30" y2="811.00" stroke="#72b21f" stroke-width="1.1"/>
<line x1="539.30" y1="795.00" x2="549.30" y2="795.00" stroke="#72b21f" stroke-width="1.1"/>
<line x1="539.30" y1="811.00" x2="549.30" y2="811.00" stroke="#72b21f" stroke-width="1.1"/>
<line x1="564.50" y1="790.00" x2="564.50" y2="812.00" stroke="#72b21f" stroke-width="1.2"/>
<line x1="559.50" y1="790.00" x2="569.50" y2="790.00" stroke="#72b21f" stroke-width="1.2"/>
<line x1="559.50" y1="812.00" x2="569.50" y2="812.00" stroke="#72b21f" stroke-width="1.2"/>
<line x1="581.60" y1="803.00" x2="591.60" y2="803.00" stroke="#72b21f" stroke-width="1.2" opacity="0.6"/>
<line x1="581.60" y1="829.60" x2="591.60" y2="829.60" stroke="#72b21f" stroke-width="1.2" opacity="0.6"/>
<line x1="608.00" y1="801.00" x2="608.00" y2="839.50" stroke="#72b21f" stroke-width="1.3"/>
<line x1="603.00" y1="801.00" x2="613.00" y2="801.00" stroke="#72b21f" stroke-width="1.3"/>
<line x1="603.00" y1="839.50" x2="613.00" y2="839.50" stroke="#72b21f" stroke-width="1.3"/>
<line x1="628.80" y1="789.00" x2="628.80" y2="845.00" stroke="#72b21f" stroke-width="1.0" opacity="0.55"/>
<line x1="623.80" y1="789.00" x2="633.80" y2="789.00" stroke="#72b21f" stroke-width="1.0" opacity="0.55"/>
<line x1="623.80" y1="845.00" x2="633.80" y2="845.00" stroke="#72b21f" stroke-width="1.0" opacity="0.55"/>
<circle cx="199.4" cy="815.5" r="6.3" fill="#fff" stroke="#72b21f" stroke-width="1.5"/>
<circle cx="224.7" cy="764.5" r="6.3" fill="#fff" stroke="#72b21f" stroke-width="1.5"/>
<circle cx="245.7" cy="781.3" r="6.3" fill="#fff" stroke="#72b21f" stroke-width="1.5"/>
<circle cx="266.8" cy="786.4" r="6.3" fill="#fff" stroke="#72b21f" stroke-width="1.5"/>
<circle cx="289" cy="789.7" r="6.3" fill="#fff" stroke="#72b21f" stroke-width="1.5"/>
<circle cx="309" cy="789.1" r="6.3" fill="#fff" stroke="#72b21f" stroke-width="1.5"/>
<circle cx="330.7" cy="789.1" r="6.3" fill="#fff" stroke="#72b21f" stroke-width="1.5"/>
<circle cx="352.4" cy="788" r="6.3" fill="#fff" stroke="#72b21f" stroke-width="1.5"/>
<circle cx="372.8" cy="784.9" r="6.3" fill="#fff" stroke="#72b21f" stroke-width="1.5"/>
<circle cx="394.5" cy="786" r="6.3" fill="#fff" stroke="#72b21f" stroke-width="1.5"/>
<circle cx="416.4" cy="786" r="6.3" fill="#fff" stroke="#72b21f" stroke-width="1.5"/>
<circle cx="437.2" cy="785.3" r="6.3" fill="#fff" stroke="#72b21f" stroke-width="1.5"/>
<circle cx="458.9" cy="789.4" r="6.3" fill="#fff" stroke="#72b21f" stroke-width="1.5"/>
<circle cx="480.4" cy="796" r="6.3" fill="#fff" stroke="#72b21f" stroke-width="1.5"/>
<circle cx="500.8" cy="800" r="6.3" fill="#fff" stroke="#72b21f" stroke-width="1.5"/>
<circle cx="522.9" cy="796.7" r="6.3" fill="#fff" stroke="#72b21f" stroke-width="1.5"/>
<circle cx="544.3" cy="803.3" r="6.3" fill="#fff" stroke="#72b21f" stroke-width="1.5"/>
<circle cx="564.5" cy="801" r="6.3" fill="#fff" stroke="#72b21f" stroke-width="1.5"/>
<circle cx="586.6" cy="816.4" r="6.3" fill="#fff" stroke="#72b21f" stroke-width="1.5"/>
<circle cx="608" cy="820.7" r="6.3" fill="#fff" stroke="#72b21f" stroke-width="1.5"/>
<circle cx="628.8" cy="817.1" r="6.3" fill="#fff" stroke="#72b21f" stroke-width="1.5"/>
<line x1="141.30" y1="562.50" x2="141.30" y2="999.80" stroke="#000" stroke-width="2.6"/>
<line x1="130.80" y1="998.50" x2="141.30" y2="998.50" stroke="#000" stroke-width="2.2"/>
<text x="123.80" y="1006.40" font-size="23.4" text-anchor="end" fill="#000" color="#000">0.000</text>
<line x1="136.10" y1="984.00" x2="141.30" y2="984.00" stroke="#000" stroke-width="1.6"/>
<line x1="136.10" y1="969.50" x2="141.30" y2="969.50" stroke="#000" stroke-width="1.6"/>
<line x1="136.10" y1="955.00" x2="141.30" y2="955.00" stroke="#000" stroke-width="1.6"/>
<line x1="136.10" y1="940.50" x2="141.30" y2="940.50" stroke="#000" stroke-width="1.6"/>
<line x1="130.80" y1="926.00" x2="141.30" y2="926.00" stroke="#000" stroke-width="2.2"/>
<text x="123.80" y="933.90" font-size="23.4" text-anchor="end" fill="#000" color="#000">0.002</text>
<line x1="136.10" y1="911.50" x2="141.30" y2="911.50" stroke="#000" stroke-width="1.6"/>
<line x1="136.10" y1="897.00" x2="141.30" y2="897.00" stroke="#000" stroke-width="1.6"/>
<line x1="136.10" y1="882.50" x2="141.30" y2="882.50" stroke="#000" stroke-width="1.6"/>
<line x1="136.10" y1="868.00" x2="141.30" y2="868.00" stroke="#000" stroke-width="1.6"/>
<line x1="130.80" y1="853.50" x2="141.30" y2="853.50" stroke="#000" stroke-width="2.2"/>
<text x="123.80" y="861.40" font-size="23.4" text-anchor="end" fill="#000" color="#000">0.004</text>
<line x1="136.10" y1="839.00" x2="141.30" y2="839.00" stroke="#000" stroke-width="1.6"/>
<line x1="136.10" y1="824.50" x2="141.30" y2="824.50" stroke="#000" stroke-width="1.6"/>
<line x1="136.10" y1="810.00" x2="141.30" y2="810.00" stroke="#000" stroke-width="1.6"/>
<line x1="136.10" y1="795.50" x2="141.30" y2="795.50" stroke="#000" stroke-width="1.6"/>
<line x1="130.80" y1="781.00" x2="141.30" y2="781.00" stroke="#000" stroke-width="2.2"/>
<text x="123.80" y="788.90" font-size="23.4" text-anchor="end" fill="#000" color="#000">0.006</text>
<line x1="136.10" y1="766.50" x2="141.30" y2="766.50" stroke="#000" stroke-width="1.6"/>
<line x1="136.10" y1="752.00" x2="141.30" y2="752.00" stroke="#000" stroke-width="1.6"/>
<line x1="136.10" y1="737.50" x2="141.30" y2="737.50" stroke="#000" stroke-width="1.6"/>
<line x1="136.10" y1="723.00" x2="141.30" y2="723.00" stroke="#000" stroke-width="1.6"/>
<line x1="130.80" y1="708.50" x2="141.30" y2="708.50" stroke="#000" stroke-width="2.2"/>
<text x="123.80" y="716.40" font-size="23.4" text-anchor="end" fill="#000" color="#000">0.008</text>
<line x1="136.10" y1="694.00" x2="141.30" y2="694.00" stroke="#000" stroke-width="1.6"/>
<line x1="136.10" y1="679.50" x2="141.30" y2="679.50" stroke="#000" stroke-width="1.6"/>
<line x1="136.10" y1="665.00" x2="141.30" y2="665.00" stroke="#000" stroke-width="1.6"/>
<line x1="136.10" y1="650.50" x2="141.30" y2="650.50" stroke="#000" stroke-width="1.6"/>
<line x1="130.80" y1="636.00" x2="141.30" y2="636.00" stroke="#000" stroke-width="2.2"/>
<text x="123.80" y="643.90" font-size="23.4" text-anchor="end" fill="#000" color="#000">0.010</text>
<line x1="136.10" y1="621.50" x2="141.30" y2="621.50" stroke="#000" stroke-width="1.6"/>
<line x1="136.10" y1="607.00" x2="141.30" y2="607.00" stroke="#000" stroke-width="1.6"/>
<line x1="136.10" y1="592.50" x2="141.30" y2="592.50" stroke="#000" stroke-width="1.6"/>
<line x1="136.10" y1="578.00" x2="141.30" y2="578.00" stroke="#000" stroke-width="1.6"/>
<line x1="130.80" y1="563.50" x2="141.30" y2="563.50" stroke="#000" stroke-width="2.2"/>
<text x="123.80" y="571.40" font-size="23.4" text-anchor="end" fill="#000" color="#000">0.012</text>
<line x1="140.00" y1="998.50" x2="684.00" y2="998.50" stroke="#000" stroke-width="2.4"/>
<line x1="142.00" y1="998.50" x2="142.00" y2="1008.00" stroke="#000" stroke-width="2.2"/>
<text x="142.00" y="1033.60" font-size="23.4" text-anchor="middle" fill="#000" color="#000">25</text>
<line x1="173.95" y1="998.50" x2="173.95" y2="1003.50" stroke="#000" stroke-width="1.6"/>
<line x1="205.90" y1="998.50" x2="205.90" y2="1008.00" stroke="#000" stroke-width="2.2"/>
<text x="205.90" y="1033.60" font-size="23.4" text-anchor="middle" fill="#000" color="#000">30</text>
<line x1="237.85" y1="998.50" x2="237.85" y2="1003.50" stroke="#000" stroke-width="1.6"/>
<line x1="269.80" y1="998.50" x2="269.80" y2="1008.00" stroke="#000" stroke-width="2.2"/>
<text x="269.80" y="1033.60" font-size="23.4" text-anchor="middle" fill="#000" color="#000">35</text>
<line x1="301.75" y1="998.50" x2="301.75" y2="1003.50" stroke="#000" stroke-width="1.6"/>
<line x1="333.70" y1="998.50" x2="333.70" y2="1008.00" stroke="#000" stroke-width="2.2"/>
<text x="333.70" y="1033.60" font-size="23.4" text-anchor="middle" fill="#000" color="#000">40</text>
<line x1="365.65" y1="998.50" x2="365.65" y2="1003.50" stroke="#000" stroke-width="1.6"/>
<line x1="397.60" y1="998.50" x2="397.60" y2="1008.00" stroke="#000" stroke-width="2.2"/>
<text x="397.60" y="1033.60" font-size="23.4" text-anchor="middle" fill="#000" color="#000">45</text>
<line x1="429.55" y1="998.50" x2="429.55" y2="1003.50" stroke="#000" stroke-width="1.6"/>
<line x1="461.50" y1="998.50" x2="461.50" y2="1008.00" stroke="#000" stroke-width="2.2"/>
<text x="461.50" y="1033.60" font-size="23.4" text-anchor="middle" fill="#000" color="#000">50</text>
<line x1="493.45" y1="998.50" x2="493.45" y2="1003.50" stroke="#000" stroke-width="1.6"/>
<line x1="525.40" y1="998.50" x2="525.40" y2="1008.00" stroke="#000" stroke-width="2.2"/>
<text x="525.40" y="1033.60" font-size="23.4" text-anchor="middle" fill="#000" color="#000">55</text>
<line x1="557.35" y1="998.50" x2="557.35" y2="1003.50" stroke="#000" stroke-width="1.6"/>
<line x1="589.30" y1="998.50" x2="589.30" y2="1008.00" stroke="#000" stroke-width="2.2"/>
<text x="589.30" y="1033.60" font-size="23.4" text-anchor="middle" fill="#000" color="#000">60</text>
<line x1="621.25" y1="998.50" x2="621.25" y2="1003.50" stroke="#000" stroke-width="1.6"/>
<line x1="653.20" y1="998.50" x2="653.20" y2="1008.00" stroke="#000" stroke-width="2.2"/>
<text x="653.20" y="1033.60" font-size="23.4" text-anchor="middle" fill="#000" color="#000">65</text>
<line x1="685.15" y1="998.50" x2="685.15" y2="1003.50" stroke="#000" stroke-width="1.6"/>
<text class="t" x="413.10" y="1078.00" font-size="28.2" text-anchor="middle" fill="#000" color="#000" transform="translate(413.10 1078.00) scale(1 1.06) translate(-413.10 -1078.00)">Elution time [min]</text>
<text class="t" x="55.20" y="781.40" font-size="28.2" text-anchor="middle" fill="#000" color="#000" transform="rotate(-90 55.20 781.40) translate(55.20 781.40) scale(1 1.06) translate(-55.20 -781.40)">Peak area [a.u.]</text>
<line x1="684.00" y1="562.50" x2="684.00" y2="999.50" stroke="#1f6cd8" stroke-width="2.6"/>
<line x1="684.00" y1="998.50" x2="694.00" y2="998.50" stroke="#1f6cd8" stroke-width="2.2"/>
<text x="702.30" y="1010.60" font-size="23.4" text-anchor="start" fill="#1f6cd8" color="#1f6cd8">0</text>
<line x1="684.00" y1="981.10" x2="689.00" y2="981.10" stroke="#1f6cd8" stroke-width="1.6"/>
<line x1="684.00" y1="963.70" x2="689.00" y2="963.70" stroke="#1f6cd8" stroke-width="1.6"/>
<line x1="684.00" y1="946.30" x2="689.00" y2="946.30" stroke="#1f6cd8" stroke-width="1.6"/>
<line x1="684.00" y1="928.90" x2="689.00" y2="928.90" stroke="#1f6cd8" stroke-width="1.6"/>
<line x1="684.00" y1="911.50" x2="694.00" y2="911.50" stroke="#1f6cd8" stroke-width="2.2"/>
<text x="702.30" y="923.60" font-size="23.4" text-anchor="start" fill="#1f6cd8" color="#1f6cd8">10</text>
<line x1="684.00" y1="894.10" x2="689.00" y2="894.10" stroke="#1f6cd8" stroke-width="1.6"/>
<line x1="684.00" y1="876.70" x2="689.00" y2="876.70" stroke="#1f6cd8" stroke-width="1.6"/>
<line x1="684.00" y1="859.30" x2="689.00" y2="859.30" stroke="#1f6cd8" stroke-width="1.6"/>
<line x1="684.00" y1="841.90" x2="689.00" y2="841.90" stroke="#1f6cd8" stroke-width="1.6"/>
<line x1="684.00" y1="824.50" x2="694.00" y2="824.50" stroke="#1f6cd8" stroke-width="2.2"/>
<text x="702.30" y="836.60" font-size="23.4" text-anchor="start" fill="#1f6cd8" color="#1f6cd8">20</text>
<line x1="684.00" y1="807.10" x2="689.00" y2="807.10" stroke="#1f6cd8" stroke-width="1.6"/>
<line x1="684.00" y1="789.70" x2="689.00" y2="789.70" stroke="#1f6cd8" stroke-width="1.6"/>
<line x1="684.00" y1="772.30" x2="689.00" y2="772.30" stroke="#1f6cd8" stroke-width="1.6"/>
<line x1="684.00" y1="754.90" x2="689.00" y2="754.90" stroke="#1f6cd8" stroke-width="1.6"/>
<line x1="684.00" y1="737.50" x2="694.00" y2="737.50" stroke="#1f6cd8" stroke-width="2.2"/>
<text x="702.30" y="749.60" font-size="23.4" text-anchor="start" fill="#1f6cd8" color="#1f6cd8">30</text>
<line x1="684.00" y1="720.10" x2="689.00" y2="720.10" stroke="#1f6cd8" stroke-width="1.6"/>
<line x1="684.00" y1="702.70" x2="689.00" y2="702.70" stroke="#1f6cd8" stroke-width="1.6"/>
<line x1="684.00" y1="685.30" x2="689.00" y2="685.30" stroke="#1f6cd8" stroke-width="1.6"/>
<line x1="684.00" y1="667.90" x2="689.00" y2="667.90" stroke="#1f6cd8" stroke-width="1.6"/>
<line x1="684.00" y1="650.50" x2="694.00" y2="650.50" stroke="#1f6cd8" stroke-width="2.2"/>
<text x="702.30" y="662.60" font-size="23.4" text-anchor="start" fill="#1f6cd8" color="#1f6cd8">40</text>
<line x1="684.00" y1="633.10" x2="689.00" y2="633.10" stroke="#1f6cd8" stroke-width="1.6"/>
<line x1="684.00" y1="615.70" x2="689.00" y2="615.70" stroke="#1f6cd8" stroke-width="1.6"/>
<line x1="684.00" y1="598.30" x2="689.00" y2="598.30" stroke="#1f6cd8" stroke-width="1.6"/>
<line x1="684.00" y1="580.90" x2="689.00" y2="580.90" stroke="#1f6cd8" stroke-width="1.6"/>
<line x1="684.00" y1="563.50" x2="694.00" y2="563.50" stroke="#1f6cd8" stroke-width="2.2"/>
<text x="702.30" y="575.60" font-size="23.4" text-anchor="start" fill="#1f6cd8" color="#1f6cd8">50</text>
<text class="t" x="758.50" y="781.60" font-size="28.2" text-anchor="middle" fill="#1f6cd8" color="#1f6cd8" transform="rotate(-90 758.50 781.60) translate(758.50 781.60) scale(1 1.06) translate(-758.50 -781.60)">Correlation length [nm]</text>
<line x1="797.80" y1="562.50" x2="797.80" y2="999.50" stroke="#72b21f" stroke-width="2.6"/>
<line x1="797.80" y1="998.50" x2="807.80" y2="998.50" stroke="#72b21f" stroke-width="2.2"/>
<text x="814.80" y="1006.60" font-size="23.4" text-anchor="start" fill="#72b21f" color="#72b21f">6.00</text>
<line x1="797.80" y1="955.00" x2="802.80" y2="955.00" stroke="#72b21f" stroke-width="1.6"/>
<line x1="797.80" y1="911.50" x2="807.80" y2="911.50" stroke="#72b21f" stroke-width="2.2"/>
<text x="814.80" y="919.60" font-size="23.4" text-anchor="start" fill="#72b21f" color="#72b21f">6.02</text>
<line x1="797.80" y1="868.00" x2="802.80" y2="868.00" stroke="#72b21f" stroke-width="1.6"/>
<line x1="797.80" y1="824.50" x2="807.80" y2="824.50" stroke="#72b21f" stroke-width="2.2"/>
<text x="814.80" y="832.60" font-size="23.4" text-anchor="start" fill="#72b21f" color="#72b21f">6.04</text>
<line x1="797.80" y1="781.00" x2="802.80" y2="781.00" stroke="#72b21f" stroke-width="1.6"/>
<line x1="797.80" y1="737.50" x2="807.80" y2="737.50" stroke="#72b21f" stroke-width="2.2"/>
<text x="814.80" y="745.60" font-size="23.4" text-anchor="start" fill="#72b21f" color="#72b21f">6.06</text>
<line x1="797.80" y1="694.00" x2="802.80" y2="694.00" stroke="#72b21f" stroke-width="1.6"/>
<line x1="797.80" y1="650.50" x2="807.80" y2="650.50" stroke="#72b21f" stroke-width="2.2"/>
<text x="814.80" y="658.60" font-size="23.4" text-anchor="start" fill="#72b21f" color="#72b21f">6.08</text>
<line x1="797.80" y1="607.00" x2="802.80" y2="607.00" stroke="#72b21f" stroke-width="1.6"/>
<line x1="797.80" y1="563.50" x2="807.80" y2="563.50" stroke="#72b21f" stroke-width="2.2"/>
<text x="814.80" y="571.60" font-size="23.4" text-anchor="start" fill="#72b21f" color="#72b21f">6.10</text>
<text class="t" x="892.00" y="781.60" font-size="28.2" text-anchor="middle" fill="#72b21f" color="#72b21f" transform="rotate(-90 892.00 781.60) translate(892.00 781.60) scale(1 1.06) translate(-892.00 -781.60)">d-spacing [nm]</text>
<pattern id="hC" patternUnits="userSpaceOnUse" width="21" height="21" patternTransform="rotate(-45)"><rect width="21" height="21" fill="#f7c3c3"/><line x1="0" y1="0.5" x2="21" y2="0.5" stroke="#1e1e1e" stroke-width="1.1"/><line x1="0" y1="11.0" x2="21" y2="11.0" stroke="#4a3a3a" stroke-width="0.9" opacity="0.6"/></pattern>
<rect x="1110.0" y="457.8" width="21" height="33.7" fill="url(#hC)"/>
<rect x="1110.0" y="457.8" width="21" height="33.7" fill="none" stroke="#222" stroke-width="0.95" opacity="0.8"/>
<rect x="1135.8" y="434.6" width="21" height="56.9" fill="url(#hC)"/>
<rect x="1135.8" y="434.6" width="21" height="56.9" fill="none" stroke="#222" stroke-width="0.95" opacity="0.8"/>
<rect x="1161.6" y="408.5" width="21" height="83.0" fill="url(#hC)"/>
<rect x="1161.6" y="408.5" width="21" height="83.0" fill="none" stroke="#222" stroke-width="0.95" opacity="0.8"/>
<rect x="1187.4" y="364.0" width="21" height="127.5" fill="url(#hC)"/>
<rect x="1187.4" y="364.0" width="21" height="127.5" fill="none" stroke="#222" stroke-width="0.95" opacity="0.8"/>
<rect x="1213.2" y="310.0" width="21" height="181.5" fill="url(#hC)"/>
<rect x="1213.2" y="310.0" width="21" height="181.5" fill="none" stroke="#222" stroke-width="0.95" opacity="0.8"/>
<rect x="1239.0" y="258.8" width="21" height="232.7" fill="url(#hC)"/>
<rect x="1239.0" y="258.8" width="21" height="232.7" fill="none" stroke="#222" stroke-width="0.95" opacity="0.8"/>
<rect x="1264.8" y="207.2" width="21" height="284.3" fill="url(#hC)"/>
<rect x="1264.8" y="207.2" width="21" height="284.3" fill="none" stroke="#222" stroke-width="0.95" opacity="0.8"/>
<rect x="1290.6" y="156.4" width="21" height="335.1" fill="url(#hC)"/>
<rect x="1290.6" y="156.4" width="21" height="335.1" fill="none" stroke="#222" stroke-width="0.95" opacity="0.8"/>
<rect x="1316.4" y="131.2" width="21" height="360.3" fill="url(#hC)"/>
<rect x="1316.4" y="131.2" width="21" height="360.3" fill="none" stroke="#222" stroke-width="0.95" opacity="0.8"/>
<rect x="1342.2" y="131.2" width="21" height="360.3" fill="url(#hC)"/>
<rect x="1342.2" y="131.2" width="21" height="360.3" fill="none" stroke="#222" stroke-width="0.95" opacity="0.8"/>
<rect x="1368.0" y="140.7" width="21" height="350.8" fill="url(#hC)"/>
<rect x="1368.0" y="140.7" width="21" height="350.8" fill="none" stroke="#222" stroke-width="0.95" opacity="0.8"/>
<rect x="1393.8" y="176.2" width="21" height="315.3" fill="url(#hC)"/>
<rect x="1393.8" y="176.2" width="21" height="315.3" fill="none" stroke="#222" stroke-width="0.95" opacity="0.8"/>
<rect x="1419.6" y="222.9" width="21" height="268.6" fill="url(#hC)"/>
<rect x="1419.6" y="222.9" width="21" height="268.6" fill="none" stroke="#222" stroke-width="0.95" opacity="0.8"/>
<rect x="1445.4" y="262.6" width="21" height="228.9" fill="url(#hC)"/>
<rect x="1445.4" y="262.6" width="21" height="228.9" fill="none" stroke="#222" stroke-width="0.95" opacity="0.8"/>
<rect x="1471.2" y="308.1" width="21" height="183.4" fill="url(#hC)"/>
<rect x="1471.2" y="308.1" width="21" height="183.4" fill="none" stroke="#222" stroke-width="0.95" opacity="0.8"/>
<rect x="1497.0" y="351.4" width="21" height="140.1" fill="url(#hC)"/>
<rect x="1497.0" y="351.4" width="21" height="140.1" fill="none" stroke="#222" stroke-width="0.95" opacity="0.8"/>
<rect x="1522.8" y="382.4" width="21" height="109.1" fill="url(#hC)"/>
<rect x="1522.8" y="382.4" width="21" height="109.1" fill="none" stroke="#222" stroke-width="0.95" opacity="0.8"/>
<rect x="1548.6" y="409.8" width="21" height="81.7" fill="url(#hC)"/>
<rect x="1548.6" y="409.8" width="21" height="81.7" fill="none" stroke="#222" stroke-width="0.95" opacity="0.8"/>
<rect x="1574.4" y="430.5" width="21" height="61.0" fill="url(#hC)"/>
<rect x="1574.4" y="430.5" width="21" height="61.0" fill="none" stroke="#222" stroke-width="0.95" opacity="0.8"/>
<clipPath id="clipC"><rect x="1082.0" y="47.1" width="541.8" height="443.4"/></clipPath>
<g clip-path="url(#clipC)">
<rect x="1102.5" y="167.9" width="11.8" height="11.8" fill="#36ab6a"/>
<rect x="1129.0" y="122.0" width="11.8" height="11.8" fill="#36ab6a"/>
<rect x="1155.5" y="110.1" width="11.8" height="11.8" fill="#36ab6a"/>
<rect x="1182.1" y="63.1" width="11.8" height="11.8" fill="#36ab6a"/>
<rect x="1208.6" y="129.8" width="11.8" height="11.8" fill="#36ab6a"/>
<rect x="1235.1" y="202.9" width="11.8" height="11.8" fill="#36ab6a"/>
<rect x="1261.6" y="202.9" width="11.8" height="11.8" fill="#36ab6a"/>
<rect x="1288.1" y="290.0" width="11.8" height="11.8" fill="#36ab6a"/>
<rect x="1314.7" y="351.7" width="11.8" height="11.8" fill="#36ab6a"/>
<rect x="1341.2" y="396.9" width="11.8" height="11.8" fill="#36ab6a"/>
<rect x="1367.7" y="424.9" width="11.8" height="11.8" fill="#36ab6a"/>
<rect x="1394.2" y="441.4" width="11.8" height="11.8" fill="#36ab6a"/>
<rect x="1420.7" y="457.5" width="11.8" height="11.8" fill="#36ab6a"/>
<rect x="1447.3" y="467.4" width="11.8" height="11.8" fill="#36ab6a"/>
<rect x="1473.8" y="474.8" width="11.8" height="11.8" fill="#36ab6a"/>
<rect x="1500.3" y="478.4" width="11.8" height="11.8" fill="#36ab6a"/>
<rect x="1526.8" y="480.1" width="11.8" height="11.8" fill="#36ab6a"/>
<rect x="1553.3" y="481.7" width="11.8" height="11.8" fill="#36ab6a"/>
<rect x="1579.9" y="482.4" width="11.8" height="11.8" fill="#36ab6a"/>
</g>
<line x1="1082.00" y1="56.40" x2="1082.00" y2="492.50" stroke="#000" stroke-width="1.8"/>
<line x1="1071.80" y1="491.50" x2="1082.00" y2="491.50" stroke="#000" stroke-width="2.0"/>
<line x1="1077.00" y1="469.78" x2="1082.00" y2="469.78" stroke="#000" stroke-width="1.5"/>
<line x1="1077.00" y1="448.06" x2="1082.00" y2="448.06" stroke="#000" stroke-width="1.5"/>
<line x1="1077.00" y1="426.34" x2="1082.00" y2="426.34" stroke="#000" stroke-width="1.5"/>
<line x1="1077.00" y1="404.62" x2="1082.00" y2="404.62" stroke="#000" stroke-width="1.5"/>
<line x1="1071.80" y1="382.90" x2="1082.00" y2="382.90" stroke="#000" stroke-width="2.0"/>
<line x1="1077.00" y1="361.18" x2="1082.00" y2="361.18" stroke="#000" stroke-width="1.5"/>
<line x1="1077.00" y1="339.46" x2="1082.00" y2="339.46" stroke="#000" stroke-width="1.5"/>
<line x1="1077.00" y1="317.74" x2="1082.00" y2="317.74" stroke="#000" stroke-width="1.5"/>
<line x1="1077.00" y1="296.02" x2="1082.00" y2="296.02" stroke="#000" stroke-width="1.5"/>
<line x1="1071.80" y1="274.30" x2="1082.00" y2="274.30" stroke="#000" stroke-width="2.0"/>
<line x1="1077.00" y1="252.58" x2="1082.00" y2="252.58" stroke="#000" stroke-width="1.5"/>
<line x1="1077.00" y1="230.86" x2="1082.00" y2="230.86" stroke="#000" stroke-width="1.5"/>
<line x1="1077.00" y1="209.14" x2="1082.00" y2="209.14" stroke="#000" stroke-width="1.5"/>
<line x1="1077.00" y1="187.42" x2="1082.00" y2="187.42" stroke="#000" stroke-width="1.5"/>
<line x1="1071.80" y1="165.70" x2="1082.00" y2="165.70" stroke="#000" stroke-width="2.0"/>
<line x1="1077.00" y1="143.98" x2="1082.00" y2="143.98" stroke="#000" stroke-width="1.5"/>
<line x1="1077.00" y1="122.26" x2="1082.00" y2="122.26" stroke="#000" stroke-width="1.5"/>
<line x1="1077.00" y1="100.54" x2="1082.00" y2="100.54" stroke="#000" stroke-width="1.5"/>
<line x1="1077.00" y1="78.82" x2="1082.00" y2="78.82" stroke="#000" stroke-width="1.5"/>
<line x1="1071.80" y1="57.10" x2="1082.00" y2="57.10" stroke="#000" stroke-width="2.0"/>
<text x="1063.60" y="499.10" font-size="22.4" text-anchor="end" fill="#000" color="#000">0.0</text>
<text x="1063.40" y="392.50" font-size="23.2" text-anchor="end" fill="#000" color="#000">5.0<tspan font-size="20.0">×</tspan>10<tspan font-size="15" dx="0.8" dy="-10.4">-4</tspan></text>
<text x="1063.40" y="283.90" font-size="23.2" text-anchor="end" fill="#000" color="#000">1.0<tspan font-size="20.0">×</tspan>10<tspan font-size="15" dx="0.8" dy="-10.4">-3</tspan></text>
<text x="1063.40" y="175.30" font-size="23.2" text-anchor="end" fill="#000" color="#000">1.5<tspan font-size="20.0">×</tspan>10<tspan font-size="15" dx="0.8" dy="-10.4">-3</tspan></text>
<text x="1063.40" y="66.70" font-size="23.2" text-anchor="end" fill="#000" color="#000">2.0<tspan font-size="20.0">×</tspan>10<tspan font-size="15" dx="0.8" dy="-10.4">-3</tspan></text>
<line x1="1081.00" y1="491.50" x2="1623.80" y2="491.50" stroke="#000" stroke-width="2.0"/>
<line x1="1082.00" y1="491.50" x2="1082.00" y2="497.00" stroke="#000" stroke-width="1.6"/>
<line x1="1107.80" y1="491.50" x2="1107.80" y2="497.00" stroke="#000" stroke-width="1.6"/>
<line x1="1133.60" y1="491.50" x2="1133.60" y2="497.00" stroke="#000" stroke-width="1.6"/>
<line x1="1159.40" y1="491.50" x2="1159.40" y2="497.00" stroke="#000" stroke-width="1.6"/>
<line x1="1185.20" y1="491.50" x2="1185.20" y2="497.00" stroke="#000" stroke-width="1.6"/>
<line x1="1211.00" y1="491.50" x2="1211.00" y2="497.00" stroke="#000" stroke-width="1.6"/>
<line x1="1236.80" y1="491.50" x2="1236.80" y2="497.00" stroke="#000" stroke-width="1.6"/>
<line x1="1262.60" y1="491.50" x2="1262.60" y2="497.00" stroke="#000" stroke-width="1.6"/>
<line x1="1288.40" y1="491.50" x2="1288.40" y2="497.00" stroke="#000" stroke-width="1.6"/>
<line x1="1314.20" y1="491.50" x2="1314.20" y2="497.00" stroke="#000" stroke-width="1.6"/>
<line x1="1340.00" y1="491.50" x2="1340.00" y2="497.00" stroke="#000" stroke-width="1.6"/>
<line x1="1365.80" y1="491.50" x2="1365.80" y2="497.00" stroke="#000" stroke-width="1.6"/>
<line x1="1391.60" y1="491.50" x2="1391.60" y2="497.00" stroke="#000" stroke-width="1.6"/>
<line x1="1417.40" y1="491.50" x2="1417.40" y2="497.00" stroke="#000" stroke-width="1.6"/>
<line x1="1443.20" y1="491.50" x2="1443.20" y2="497.00" stroke="#000" stroke-width="1.6"/>
<line x1="1469.00" y1="491.50" x2="1469.00" y2="497.00" stroke="#000" stroke-width="1.6"/>
<line x1="1494.80" y1="491.50" x2="1494.80" y2="497.00" stroke="#000" stroke-width="1.6"/>
<line x1="1520.60" y1="491.50" x2="1520.60" y2="497.00" stroke="#000" stroke-width="1.6"/>
<line x1="1546.40" y1="491.50" x2="1546.40" y2="497.00" stroke="#000" stroke-width="1.6"/>
<line x1="1572.20" y1="491.50" x2="1572.20" y2="497.00" stroke="#000" stroke-width="1.6"/>
<line x1="1598.00" y1="491.50" x2="1598.00" y2="497.00" stroke="#000" stroke-width="1.6"/>
<line x1="1623.80" y1="491.50" x2="1623.80" y2="497.00" stroke="#000" stroke-width="1.6"/>
<line x1="1094.90" y1="491.50" x2="1094.90" y2="502.50" stroke="#000" stroke-width="2.0"/>
<line x1="1120.70" y1="491.50" x2="1120.70" y2="502.50" stroke="#000" stroke-width="2.0"/>
<line x1="1146.50" y1="491.50" x2="1146.50" y2="502.50" stroke="#000" stroke-width="2.0"/>
<line x1="1172.30" y1="491.50" x2="1172.30" y2="502.50" stroke="#000" stroke-width="2.0"/>
<line x1="1198.10" y1="491.50" x2="1198.10" y2="502.50" stroke="#000" stroke-width="2.0"/>
<line x1="1223.90" y1="491.50" x2="1223.90" y2="502.50" stroke="#000" stroke-width="2.0"/>
<line x1="1249.70" y1="491.50" x2="1249.70" y2="502.50" stroke="#000" stroke-width="2.0"/>
<line x1="1275.50" y1="491.50" x2="1275.50" y2="502.50" stroke="#000" stroke-width="2.0"/>
<line x1="1301.30" y1="491.50" x2="1301.30" y2="502.50" stroke="#000" stroke-width="2.0"/>
<line x1="1327.10" y1="491.50" x2="1327.10" y2="502.50" stroke="#000" stroke-width="2.0"/>
<line x1="1352.90" y1="491.50" x2="1352.90" y2="502.50" stroke="#000" stroke-width="2.0"/>
<line x1="1378.70" y1="491.50" x2="1378.70" y2="502.50" stroke="#000" stroke-width="2.0"/>
<line x1="1404.50" y1="491.50" x2="1404.50" y2="502.50" stroke="#000" stroke-width="2.0"/>
<line x1="1430.30" y1="491.50" x2="1430.30" y2="502.50" stroke="#000" stroke-width="2.0"/>
<line x1="1456.10" y1="491.50" x2="1456.10" y2="502.50" stroke="#000" stroke-width="2.0"/>
<line x1="1481.90" y1="491.50" x2="1481.90" y2="502.50" stroke="#000" stroke-width="2.0"/>
<line x1="1507.70" y1="491.50" x2="1507.70" y2="502.50" stroke="#000" stroke-width="2.0"/>
<line x1="1533.50" y1="491.50" x2="1533.50" y2="502.50" stroke="#000" stroke-width="2.0"/>
<line x1="1559.30" y1="491.50" x2="1559.30" y2="502.50" stroke="#000" stroke-width="2.0"/>
<line x1="1585.10" y1="491.50" x2="1585.10" y2="502.50" stroke="#000" stroke-width="2.0"/>
<line x1="1610.90" y1="491.50" x2="1610.90" y2="502.50" stroke="#000" stroke-width="2.0"/>
<text class="t" x="966.60" y="273.80" font-size="28.2" text-anchor="middle" fill="#000" color="#000" transform="rotate(-90 966.60 273.80)">LPX conc [mg/mL]</text>
<line x1="1623.80" y1="56.40" x2="1623.80" y2="492.50" stroke="#2fa361" stroke-width="1.8"/>
<line x1="1623.80" y1="491.50" x2="1635.30" y2="491.50" stroke="#2fa361" stroke-width="2.0"/>
<line x1="1623.80" y1="462.54" x2="1629.60" y2="462.54" stroke="#2fa361" stroke-width="1.5"/>
<line x1="1623.80" y1="433.58" x2="1629.60" y2="433.58" stroke="#2fa361" stroke-width="1.5"/>
<line x1="1623.80" y1="404.62" x2="1629.60" y2="404.62" stroke="#2fa361" stroke-width="1.5"/>
<line x1="1623.80" y1="375.66" x2="1629.60" y2="375.66" stroke="#2fa361" stroke-width="1.5"/>
<line x1="1623.80" y1="346.70" x2="1635.30" y2="346.70" stroke="#2fa361" stroke-width="2.0"/>
<line x1="1623.80" y1="317.74" x2="1629.60" y2="317.74" stroke="#2fa361" stroke-width="1.5"/>
<line x1="1623.80" y1="288.78" x2="1629.60" y2="288.78" stroke="#2fa361" stroke-width="1.5"/>
<line x1="1623.80" y1="259.82" x2="1629.60" y2="259.82" stroke="#2fa361" stroke-width="1.5"/>
<line x1="1623.80" y1="230.86" x2="1629.60" y2="230.86" stroke="#2fa361" stroke-width="1.5"/>
<line x1="1623.80" y1="201.90" x2="1635.30" y2="201.90" stroke="#2fa361" stroke-width="2.0"/>
<line x1="1623.80" y1="172.94" x2="1629.60" y2="172.94" stroke="#2fa361" stroke-width="1.5"/>
<line x1="1623.80" y1="143.98" x2="1629.60" y2="143.98" stroke="#2fa361" stroke-width="1.5"/>
<line x1="1623.80" y1="115.02" x2="1629.60" y2="115.02" stroke="#2fa361" stroke-width="1.5"/>
<line x1="1623.80" y1="86.06" x2="1629.60" y2="86.06" stroke="#2fa361" stroke-width="1.5"/>
<line x1="1623.80" y1="57.10" x2="1635.30" y2="57.10" stroke="#2fa361" stroke-width="2.0"/>
<text x="1642.30" y="356.30" font-size="23.2" text-anchor="start" fill="#2fa361" color="#2fa361">2.0<tspan font-size="20.0">×</tspan>10<tspan font-size="15" dx="0.8" dy="-10.4">11</tspan></text>
<text x="1642.30" y="211.50" font-size="23.2" text-anchor="start" fill="#2fa361" color="#2fa361">4.0<tspan font-size="20.0">×</tspan>10<tspan font-size="15" dx="0.8" dy="-10.4">11</tspan></text>
<text x="1642.30" y="66.70" font-size="23.2" text-anchor="start" fill="#2fa361" color="#2fa361">6.0<tspan font-size="20.0">×</tspan>10<tspan font-size="15" dx="0.8" dy="-10.4">11</tspan></text>
<text class="t" x="1762.00" y="277.40" font-size="28.2" text-anchor="middle" fill="#2fa361" color="#2fa361" transform="rotate(-90 1762.00 277.40)">Particle number [n]</text>
<pattern id="hD" patternUnits="userSpaceOnUse" width="21" height="21" patternTransform="rotate(-45)"><rect width="21" height="21" fill="#c2ebd6"/><line x1="0" y1="0.5" x2="21" y2="0.5" stroke="#1e1e1e" stroke-width="1.15"/><line x1="0" y1="11.0" x2="21" y2="11.0" stroke="#203029" stroke-width="0.9" opacity="0.68"/></pattern>
<rect x="1084.2" y="960.3" width="23.2" height="38.2" fill="url(#hD)"/>
<rect x="1084.2" y="960.3" width="23.2" height="38.2" fill="none" stroke="#1a1a1a" stroke-width="1.0" opacity="0.85"/>
<rect x="1112.7" y="935.4" width="23.2" height="63.1" fill="url(#hD)"/>
<rect x="1112.7" y="935.4" width="23.2" height="63.1" fill="none" stroke="#1a1a1a" stroke-width="1.0" opacity="0.85"/>
<rect x="1141.3" y="906.7" width="23.2" height="91.8" fill="url(#hD)"/>
<rect x="1141.3" y="906.7" width="23.2" height="91.8" fill="none" stroke="#1a1a1a" stroke-width="1.0" opacity="0.85"/>
<rect x="1169.8" y="857.9" width="23.2" height="140.6" fill="url(#hD)"/>
<rect x="1169.8" y="857.9" width="23.2" height="140.6" fill="none" stroke="#1a1a1a" stroke-width="1.0" opacity="0.85"/>
<rect x="1198.4" y="797.8" width="23.2" height="200.7" fill="url(#hD)"/>
<rect x="1198.4" y="797.8" width="23.2" height="200.7" fill="none" stroke="#1a1a1a" stroke-width="1.0" opacity="0.85"/>
<rect x="1226.9" y="741.2" width="23.2" height="257.3" fill="url(#hD)"/>
<rect x="1226.9" y="741.2" width="23.2" height="257.3" fill="none" stroke="#1a1a1a" stroke-width="1.0" opacity="0.85"/>
<rect x="1255.5" y="684.7" width="23.2" height="313.8" fill="url(#hD)"/>
<rect x="1255.5" y="684.7" width="23.2" height="313.8" fill="none" stroke="#1a1a1a" stroke-width="1.0" opacity="0.85"/>
<rect x="1284.0" y="628.4" width="23.2" height="370.1" fill="url(#hD)"/>
<rect x="1284.0" y="628.4" width="23.2" height="370.1" fill="none" stroke="#1a1a1a" stroke-width="1.0" opacity="0.85"/>
<rect x="1312.6" y="601.1" width="23.2" height="397.4" fill="url(#hD)"/>
<rect x="1312.6" y="601.1" width="23.2" height="397.4" fill="none" stroke="#1a1a1a" stroke-width="1.0" opacity="0.85"/>
<rect x="1341.1" y="601.1" width="23.2" height="397.4" fill="url(#hD)"/>
<rect x="1341.1" y="601.1" width="23.2" height="397.4" fill="none" stroke="#1a1a1a" stroke-width="1.0" opacity="0.85"/>
<rect x="1369.7" y="611.4" width="23.2" height="387.1" fill="url(#hD)"/>
<rect x="1369.7" y="611.4" width="23.2" height="387.1" fill="none" stroke="#1a1a1a" stroke-width="1.0" opacity="0.85"/>
<rect x="1398.2" y="650.6" width="23.2" height="347.9" fill="url(#hD)"/>
<rect x="1398.2" y="650.6" width="23.2" height="347.9" fill="none" stroke="#1a1a1a" stroke-width="1.0" opacity="0.85"/>
<rect x="1426.8" y="702.2" width="23.2" height="296.3" fill="url(#hD)"/>
<rect x="1426.8" y="702.2" width="23.2" height="296.3" fill="none" stroke="#1a1a1a" stroke-width="1.0" opacity="0.85"/>
<rect x="1455.3" y="746.6" width="23.2" height="251.9" fill="url(#hD)"/>
<rect x="1455.3" y="746.6" width="23.2" height="251.9" fill="none" stroke="#1a1a1a" stroke-width="1.0" opacity="0.85"/>
<rect x="1483.9" y="796.1" width="23.2" height="202.4" fill="url(#hD)"/>
<rect x="1483.9" y="796.1" width="23.2" height="202.4" fill="none" stroke="#1a1a1a" stroke-width="1.0" opacity="0.85"/>
<rect x="1512.4" y="845.1" width="23.2" height="153.4" fill="url(#hD)"/>
<rect x="1512.4" y="845.1" width="23.2" height="153.4" fill="none" stroke="#1a1a1a" stroke-width="1.0" opacity="0.85"/>
<rect x="1541.0" y="878.1" width="23.2" height="120.4" fill="url(#hD)"/>
<rect x="1541.0" y="878.1" width="23.2" height="120.4" fill="none" stroke="#1a1a1a" stroke-width="1.0" opacity="0.85"/>
<rect x="1569.5" y="908.2" width="23.2" height="90.3" fill="url(#hD)"/>
<rect x="1569.5" y="908.2" width="23.2" height="90.3" fill="none" stroke="#1a1a1a" stroke-width="1.0" opacity="0.85"/>
<rect x="1598.1" y="930.8" width="23.2" height="67.7" fill="url(#hD)"/>
<rect x="1598.1" y="930.8" width="23.2" height="67.7" fill="none" stroke="#1a1a1a" stroke-width="1.0" opacity="0.85"/>
<circle cx="1109.9" cy="978.6" r="6.6" fill="#ec3d3d"/>
<circle cx="1137.7" cy="954.1" r="6.6" fill="#ec3d3d"/>
<circle cx="1165.5" cy="932.9" r="6.6" fill="#ec3d3d"/>
<circle cx="1193.3" cy="913.8" r="6.6" fill="#ec3d3d"/>
<circle cx="1221.1" cy="880.3" r="6.6" fill="#ec3d3d"/>
<circle cx="1248.9" cy="850.4" r="6.6" fill="#ec3d3d"/>
<circle cx="1276.7" cy="838.0" r="6.6" fill="#ec3d3d"/>
<circle cx="1304.5" cy="804.3" r="6.6" fill="#ec3d3d"/>
<circle cx="1332.3" cy="775.9" r="6.6" fill="#ec3d3d"/>
<circle cx="1360.1" cy="750.7" r="6.6" fill="#ec3d3d"/>
<circle cx="1387.9" cy="728.5" r="6.6" fill="#ec3d3d"/>
<circle cx="1415.7" cy="715.3" r="6.6" fill="#ec3d3d"/>
<circle cx="1443.5" cy="696.8" r="6.6" fill="#ec3d3d"/>
<circle cx="1471.3" cy="679.5" r="6.6" fill="#ec3d3d"/>
<circle cx="1499.1" cy="664.2" r="6.6" fill="#ec3d3d"/>
<circle cx="1526.9" cy="654.8" r="6.6" fill="#ec3d3d"/>
<circle cx="1554.7" cy="645.3" r="6.6" fill="#ec3d3d"/>
<circle cx="1582.5" cy="636.6" r="6.6" fill="#ec3d3d"/>
<circle cx="1610.3" cy="628.0" r="6.6" fill="#ec3d3d"/>
<line x1="1081.50" y1="563.10" x2="1081.50" y2="999.50" stroke="#000" stroke-width="1.8"/>
<line x1="1071.30" y1="998.50" x2="1081.50" y2="998.50" stroke="#000" stroke-width="2.0"/>
<line x1="1076.50" y1="967.45" x2="1081.50" y2="967.45" stroke="#000" stroke-width="1.5"/>
<line x1="1071.30" y1="936.40" x2="1081.50" y2="936.40" stroke="#000" stroke-width="2.0"/>
<line x1="1076.50" y1="905.35" x2="1081.50" y2="905.35" stroke="#000" stroke-width="1.5"/>
<line x1="1071.30" y1="874.30" x2="1081.50" y2="874.30" stroke="#000" stroke-width="2.0"/>
<line x1="1076.50" y1="843.25" x2="1081.50" y2="843.25" stroke="#000" stroke-width="1.5"/>
<line x1="1071.30" y1="812.20" x2="1081.50" y2="812.20" stroke="#000" stroke-width="2.0"/>
<line x1="1076.50" y1="781.15" x2="1081.50" y2="781.15" stroke="#000" stroke-width="1.5"/>
<line x1="1071.30" y1="750.10" x2="1081.50" y2="750.10" stroke="#000" stroke-width="2.0"/>
<line x1="1076.50" y1="719.05" x2="1081.50" y2="719.05" stroke="#000" stroke-width="1.5"/>
<line x1="1071.30" y1="688.00" x2="1081.50" y2="688.00" stroke="#000" stroke-width="2.0"/>
<line x1="1076.50" y1="656.95" x2="1081.50" y2="656.95" stroke="#000" stroke-width="1.5"/>
<line x1="1071.30" y1="625.90" x2="1081.50" y2="625.90" stroke="#000" stroke-width="2.0"/>
<line x1="1076.50" y1="594.85" x2="1081.50" y2="594.85" stroke="#000" stroke-width="1.5"/>
<line x1="1071.30" y1="563.80" x2="1081.50" y2="563.80" stroke="#000" stroke-width="2.0"/>
<text x="1063.80" y="1006.10" font-size="22.6" text-anchor="end" fill="#000" color="#000">0</text>
<text x="1063.40" y="946.00" font-size="23.2" text-anchor="end" fill="#000" color="#000">1<tspan font-size="20.0">×</tspan>10<tspan font-size="15" dx="0.8" dy="-10.4">14</tspan></text>
<text x="1063.40" y="883.90" font-size="23.2" text-anchor="end" fill="#000" color="#000">2<tspan font-size="20.0">×</tspan>10<tspan font-size="15" dx="0.8" dy="-10.4">14</tspan></text>
<text x="1063.40" y="821.80" font-size="23.2" text-anchor="end" fill="#000" color="#000">3<tspan font-size="20.0">×</tspan>10<tspan font-size="15" dx="0.8" dy="-10.4">14</tspan></text>
<text x="1063.40" y="759.70" font-size="23.2" text-anchor="end" fill="#000" color="#000">4<tspan font-size="20.0">×</tspan>10<tspan font-size="15" dx="0.8" dy="-10.4">14</tspan></text>
<text x="1063.40" y="697.60" font-size="23.2" text-anchor="end" fill="#000" color="#000">5<tspan font-size="20.0">×</tspan>10<tspan font-size="15" dx="0.8" dy="-10.4">14</tspan></text>
<text x="1063.40" y="635.50" font-size="23.2" text-anchor="end" fill="#000" color="#000">6<tspan font-size="20.0">×</tspan>10<tspan font-size="15" dx="0.8" dy="-10.4">14</tspan></text>
<text x="1063.40" y="573.40" font-size="23.2" text-anchor="end" fill="#000" color="#000">7<tspan font-size="20.0">×</tspan>10<tspan font-size="15" dx="0.8" dy="-10.4">14</tspan></text>
<line x1="1080.50" y1="998.50" x2="1623.60" y2="998.50" stroke="#000" stroke-width="2.0"/>
<line x1="1081.50" y1="998.50" x2="1081.50" y2="1004.00" stroke="#000" stroke-width="1.6"/>
<line x1="1110.05" y1="998.50" x2="1110.05" y2="1004.00" stroke="#000" stroke-width="1.6"/>
<line x1="1138.60" y1="998.50" x2="1138.60" y2="1004.00" stroke="#000" stroke-width="1.6"/>
<line x1="1167.15" y1="998.50" x2="1167.15" y2="1004.00" stroke="#000" stroke-width="1.6"/>
<line x1="1195.70" y1="998.50" x2="1195.70" y2="1004.00" stroke="#000" stroke-width="1.6"/>
<line x1="1224.25" y1="998.50" x2="1224.25" y2="1004.00" stroke="#000" stroke-width="1.6"/>
<line x1="1252.80" y1="998.50" x2="1252.80" y2="1004.00" stroke="#000" stroke-width="1.6"/>
<line x1="1281.35" y1="998.50" x2="1281.35" y2="1004.00" stroke="#000" stroke-width="1.6"/>
<line x1="1309.90" y1="998.50" x2="1309.90" y2="1004.00" stroke="#000" stroke-width="1.6"/>
<line x1="1338.45" y1="998.50" x2="1338.45" y2="1004.00" stroke="#000" stroke-width="1.6"/>
<line x1="1367.00" y1="998.50" x2="1367.00" y2="1004.00" stroke="#000" stroke-width="1.6"/>
<line x1="1395.55" y1="998.50" x2="1395.55" y2="1004.00" stroke="#000" stroke-width="1.6"/>
<line x1="1424.10" y1="998.50" x2="1424.10" y2="1004.00" stroke="#000" stroke-width="1.6"/>
<line x1="1452.65" y1="998.50" x2="1452.65" y2="1004.00" stroke="#000" stroke-width="1.6"/>
<line x1="1481.20" y1="998.50" x2="1481.20" y2="1004.00" stroke="#000" stroke-width="1.6"/>
<line x1="1509.75" y1="998.50" x2="1509.75" y2="1004.00" stroke="#000" stroke-width="1.6"/>
<line x1="1538.30" y1="998.50" x2="1538.30" y2="1004.00" stroke="#000" stroke-width="1.6"/>
<line x1="1566.85" y1="998.50" x2="1566.85" y2="1004.00" stroke="#000" stroke-width="1.6"/>
<line x1="1595.40" y1="998.50" x2="1595.40" y2="1004.00" stroke="#000" stroke-width="1.6"/>
<line x1="1623.95" y1="998.50" x2="1623.95" y2="1004.00" stroke="#000" stroke-width="1.6"/>
<line x1="1095.78" y1="998.50" x2="1095.78" y2="1009.50" stroke="#000" stroke-width="2.0"/>
<line x1="1124.33" y1="998.50" x2="1124.33" y2="1009.50" stroke="#000" stroke-width="2.0"/>
<line x1="1152.88" y1="998.50" x2="1152.88" y2="1009.50" stroke="#000" stroke-width="2.0"/>
<line x1="1181.43" y1="998.50" x2="1181.43" y2="1009.50" stroke="#000" stroke-width="2.0"/>
<line x1="1209.98" y1="998.50" x2="1209.98" y2="1009.50" stroke="#000" stroke-width="2.0"/>
<line x1="1238.53" y1="998.50" x2="1238.53" y2="1009.50" stroke="#000" stroke-width="2.0"/>
<line x1="1267.08" y1="998.50" x2="1267.08" y2="1009.50" stroke="#000" stroke-width="2.0"/>
<line x1="1295.62" y1="998.50" x2="1295.62" y2="1009.50" stroke="#000" stroke-width="2.0"/>
<line x1="1324.18" y1="998.50" x2="1324.18" y2="1009.50" stroke="#000" stroke-width="2.0"/>
<line x1="1352.73" y1="998.50" x2="1352.73" y2="1009.50" stroke="#000" stroke-width="2.0"/>
<line x1="1381.28" y1="998.50" x2="1381.28" y2="1009.50" stroke="#000" stroke-width="2.0"/>
<line x1="1409.83" y1="998.50" x2="1409.83" y2="1009.50" stroke="#000" stroke-width="2.0"/>
<line x1="1438.38" y1="998.50" x2="1438.38" y2="1009.50" stroke="#000" stroke-width="2.0"/>
<line x1="1466.93" y1="998.50" x2="1466.93" y2="1009.50" stroke="#000" stroke-width="2.0"/>
<line x1="1495.48" y1="998.50" x2="1495.48" y2="1009.50" stroke="#000" stroke-width="2.0"/>
<line x1="1524.03" y1="998.50" x2="1524.03" y2="1009.50" stroke="#000" stroke-width="2.0"/>
<line x1="1552.58" y1="998.50" x2="1552.58" y2="1009.50" stroke="#000" stroke-width="2.0"/>
<line x1="1581.12" y1="998.50" x2="1581.12" y2="1009.50" stroke="#000" stroke-width="2.0"/>
<line x1="1609.68" y1="998.50" x2="1609.68" y2="1009.50" stroke="#000" stroke-width="2.0"/>
<text x="1132.53" y="1018.70" font-size="22.8" text-anchor="end" fill="#000" color="#000" transform="rotate(-90 1132.53 1018.70)">73</text>
<text x="1161.08" y="1018.70" font-size="22.8" text-anchor="end" fill="#000" color="#000" transform="rotate(-90 1161.08 1018.70)">83</text>
<text x="1189.63" y="1018.70" font-size="22.8" text-anchor="end" fill="#000" color="#000" transform="rotate(-90 1189.63 1018.70)">93</text>
<text x="1218.18" y="1018.70" font-size="22.8" text-anchor="end" fill="#000" color="#000" transform="rotate(-90 1218.18 1018.70)">103</text>
<text x="1246.73" y="1018.70" font-size="22.8" text-anchor="end" fill="#000" color="#000" transform="rotate(-90 1246.73 1018.70)">123</text>
<text x="1275.28" y="1018.70" font-size="22.8" text-anchor="end" fill="#000" color="#000" transform="rotate(-90 1275.28 1018.70)">144</text>
<text x="1303.83" y="1018.70" font-size="22.8" text-anchor="end" fill="#000" color="#000" transform="rotate(-90 1303.83 1018.70)">154</text>
<text x="1332.38" y="1018.70" font-size="22.8" text-anchor="end" fill="#000" color="#000" transform="rotate(-90 1332.38 1018.70)">184</text>
<text x="1360.93" y="1018.70" font-size="22.8" text-anchor="end" fill="#000" color="#000" transform="rotate(-90 1360.93 1018.70)">214</text>
<text x="1389.48" y="1018.70" font-size="22.8" text-anchor="end" fill="#000" color="#000" transform="rotate(-90 1389.48 1018.70)">245</text>
<text x="1418.03" y="1018.70" font-size="22.8" text-anchor="end" fill="#000" color="#000" transform="rotate(-90 1418.03 1018.70)">275</text>
<text x="1446.58" y="1018.70" font-size="22.8" text-anchor="end" fill="#000" color="#000" transform="rotate(-90 1446.58 1018.70)">295</text>
<text x="1475.13" y="1018.70" font-size="22.8" text-anchor="end" fill="#000" color="#000" transform="rotate(-90 1475.13 1018.70)">325</text>
<text x="1503.68" y="1018.70" font-size="22.8" text-anchor="end" fill="#000" color="#000" transform="rotate(-90 1503.68 1018.70)">356</text>
<text x="1532.23" y="1018.70" font-size="22.8" text-anchor="end" fill="#000" color="#000" transform="rotate(-90 1532.23 1018.70)">386</text>
<text x="1560.78" y="1018.70" font-size="22.8" text-anchor="end" fill="#000" color="#000" transform="rotate(-90 1560.78 1018.70)">406</text>
<text x="1589.33" y="1018.70" font-size="22.8" text-anchor="end" fill="#000" color="#000" transform="rotate(-90 1589.33 1018.70)">426</text>
<text x="1617.88" y="1018.70" font-size="22.8" text-anchor="end" fill="#000" color="#000" transform="rotate(-90 1617.88 1018.70)">447</text>
<text x="1646.43" y="1018.70" font-size="22.8" text-anchor="end" fill="#000" color="#000" transform="rotate(-90 1646.43 1018.70)">467</text>
<text class="t" x="1353.50" y="1082.00" font-size="27.599999999999998" text-anchor="middle" fill="#000" color="#000">Rg [nm]</text>
<text class="t" x="984.00" y="785.00" font-size="28.2" text-anchor="middle" fill="#000" color="#000" transform="rotate(-90 984.00 785.00)">RNA copy number [n]</text>
<line x1="1623.60" y1="563.10" x2="1623.60" y2="999.50" stroke="#e8353a" stroke-width="1.8"/>
<line x1="1623.60" y1="998.50" x2="1635.10" y2="998.50" stroke="#e8353a" stroke-width="2.0"/>
<text x="1644.00" y="1008.10" font-size="23.2" text-anchor="start" fill="#e8353a" color="#e8353a">10<tspan font-size="15" dx="0.8" dy="-10.4">2</tspan></text>
<line x1="1623.60" y1="954.88" x2="1629.40" y2="954.88" stroke="#e8353a" stroke-width="1.5"/>
<line x1="1623.60" y1="929.37" x2="1629.40" y2="929.37" stroke="#e8353a" stroke-width="1.5"/>
<line x1="1623.60" y1="911.26" x2="1629.40" y2="911.26" stroke="#e8353a" stroke-width="1.5"/>
<line x1="1623.60" y1="897.22" x2="1629.40" y2="897.22" stroke="#e8353a" stroke-width="1.5"/>
<line x1="1623.60" y1="885.75" x2="1629.40" y2="885.75" stroke="#e8353a" stroke-width="1.5"/>
<line x1="1623.60" y1="876.05" x2="1629.40" y2="876.05" stroke="#e8353a" stroke-width="1.5"/>
<line x1="1623.60" y1="867.64" x2="1629.40" y2="867.64" stroke="#e8353a" stroke-width="1.5"/>
<line x1="1623.60" y1="860.23" x2="1629.40" y2="860.23" stroke="#e8353a" stroke-width="1.5"/>
<line x1="1623.60" y1="853.60" x2="1635.10" y2="853.60" stroke="#e8353a" stroke-width="2.0"/>
<text x="1644.00" y="863.20" font-size="23.2" text-anchor="start" fill="#e8353a" color="#e8353a">10<tspan font-size="15" dx="0.8" dy="-10.4">3</tspan></text>
<line x1="1623.60" y1="809.98" x2="1629.40" y2="809.98" stroke="#e8353a" stroke-width="1.5"/>
<line x1="1623.60" y1="784.47" x2="1629.40" y2="784.47" stroke="#e8353a" stroke-width="1.5"/>
<line x1="1623.60" y1="766.36" x2="1629.40" y2="766.36" stroke="#e8353a" stroke-width="1.5"/>
<line x1="1623.60" y1="752.32" x2="1629.40" y2="752.32" stroke="#e8353a" stroke-width="1.5"/>
<line x1="1623.60" y1="740.85" x2="1629.40" y2="740.85" stroke="#e8353a" stroke-width="1.5"/>
<line x1="1623.60" y1="731.15" x2="1629.40" y2="731.15" stroke="#e8353a" stroke-width="1.5"/>
<line x1="1623.60" y1="722.74" x2="1629.40" y2="722.74" stroke="#e8353a" stroke-width="1.5"/>
<line x1="1623.60" y1="715.33" x2="1629.40" y2="715.33" stroke="#e8353a" stroke-width="1.5"/>
<line x1="1623.60" y1="708.70" x2="1635.10" y2="708.70" stroke="#e8353a" stroke-width="2.0"/>
<text x="1644.00" y="718.30" font-size="23.2" text-anchor="start" fill="#e8353a" color="#e8353a">10<tspan font-size="15" dx="0.8" dy="-10.4">4</tspan></text>
<line x1="1623.60" y1="665.08" x2="1629.40" y2="665.08" stroke="#e8353a" stroke-width="1.5"/>
<line x1="1623.60" y1="639.57" x2="1629.40" y2="639.57" stroke="#e8353a" stroke-width="1.5"/>
<line x1="1623.60" y1="621.46" x2="1629.40" y2="621.46" stroke="#e8353a" stroke-width="1.5"/>
<line x1="1623.60" y1="607.42" x2="1629.40" y2="607.42" stroke="#e8353a" stroke-width="1.5"/>
<line x1="1623.60" y1="595.95" x2="1629.40" y2="595.95" stroke="#e8353a" stroke-width="1.5"/>
<line x1="1623.60" y1="586.25" x2="1629.40" y2="586.25" stroke="#e8353a" stroke-width="1.5"/>
<line x1="1623.60" y1="577.84" x2="1629.40" y2="577.84" stroke="#e8353a" stroke-width="1.5"/>
<line x1="1623.60" y1="570.43" x2="1629.40" y2="570.43" stroke="#e8353a" stroke-width="1.5"/>
<line x1="1623.60" y1="563.80" x2="1635.10" y2="563.80" stroke="#e8353a" stroke-width="2.0"/>
<text x="1644.00" y="573.40" font-size="23.2" text-anchor="start" fill="#e8353a" color="#e8353a">10<tspan font-size="15" dx="0.8" dy="-10.4">5</tspan></text>
<text class="t" x="1708.50" y="781.00" font-size="28.2" text-anchor="middle" fill="#e8353a" color="#e8353a" transform="rotate(-90 1708.50 781.00)">RNA copy per particle [n]</text>
</svg>
</body></html>
